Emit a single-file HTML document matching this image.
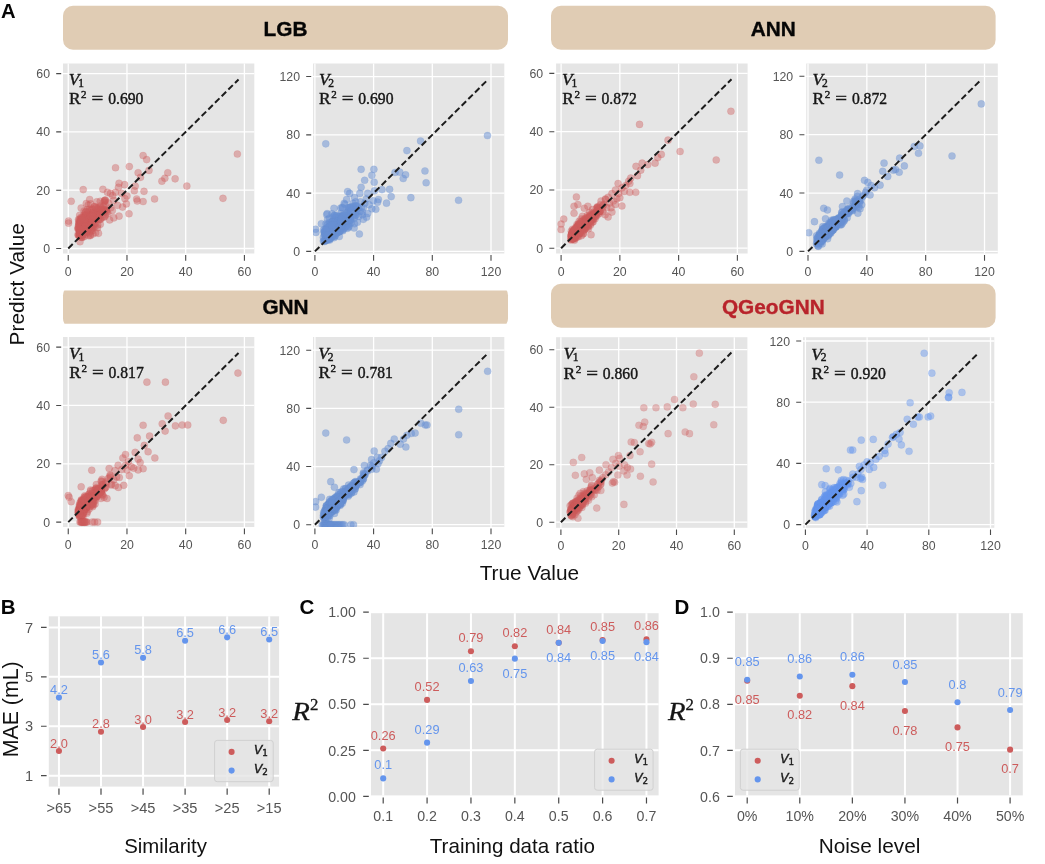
<!DOCTYPE html>
<html lang="en"><head><meta charset="utf-8"><title>Model comparison figure</title>
<style>html,body{margin:0;padding:0;background:#fff}svg{display:block}</style></head><body>
<svg width="1045" height="864" viewBox="0 0 1045 864">
<rect width="1045" height="864" fill="#fff"/>
<defs><filter id="idf" x="0" y="0" width="100%" height="100%" filterUnits="userSpaceOnUse" color-interpolation-filters="sRGB"><feGaussianBlur stdDeviation="0.38"/></filter></defs>
<g filter="url(#idf)">
<rect x="63" y="5.8" width="445" height="44" rx="10" ry="10" fill="#e0ccb4"/>
<text x="285.5" y="35.6" text-anchor="middle" font-family='"Liberation Sans", Arial, Helvetica, sans-serif' font-weight="bold" font-size="20.8" fill="#050505" stroke="#050505" stroke-width="0.35">LGB</text>
<rect x="551" y="5.8" width="444.6" height="44" rx="10" ry="10" fill="#e0ccb4"/>
<text x="773.3" y="35.6" text-anchor="middle" font-family='"Liberation Sans", Arial, Helvetica, sans-serif' font-weight="bold" font-size="20.8" fill="#050505" stroke="#050505" stroke-width="0.35">ANN</text>
<clipPath id="hGNN"><rect x="62" y="290.5" width="447" height="33.2"/></clipPath>
<rect x="63" y="285.2" width="445" height="43.4" rx="10" ry="10" fill="#e0ccb4" clip-path="url(#hGNN)"/>
<text x="285.5" y="313.5" text-anchor="middle" font-family='"Liberation Sans", Arial, Helvetica, sans-serif' font-weight="bold" font-size="20.8" fill="#050505" stroke="#050505" stroke-width="0.35">GNN</text>
<rect x="551" y="283.7" width="444.6" height="44" rx="10" ry="10" fill="#e0ccb4"/>
<text x="773.3" y="313.6" text-anchor="middle" font-family='"Liberation Sans", Arial, Helvetica, sans-serif' font-weight="bold" font-size="20.8" fill="#b8232b" stroke="#b8232b" stroke-width="0.35">QGeoGNN</text>
<g font-family='"Liberation Sans", Arial, Helvetica, sans-serif' font-weight="bold" font-size="20.5" fill="#050505">
<text x="0.9" y="17.8" font-size="20.2">A</text><text x="0.7" y="613.7">B</text><text x="299.6" y="613.7">C</text><text x="674.6" y="613.7">D</text></g>
<g id="p1">
<rect x="63" y="63.5" width="191.3" height="190" fill="#e5e5e5"/>
<path d="M68.25 63.5V253.5M63 248.5H254.3M126.97 63.5V253.5M63 190.2H254.3M185.69 63.5V253.5M63 131.9H254.3M244.41 63.5V253.5M63 73.6H254.3" stroke="#fff" stroke-width="1.3" fill="none"/>
<path d="M68.25 255.1v5.6M61.2 248.5h-5M126.97 255.1v5.6M61.2 190.2h-5M185.69 255.1v5.6M61.2 131.9h-5M244.41 255.1v5.6M61.2 73.6h-5" stroke="#4a4a4a" stroke-width="1.1" fill="none"/>
<g font-family='"Liberation Sans", Arial, Helvetica, sans-serif' font-size="12.3" fill="#555555">
<text x="68.25" y="275.8" text-anchor="middle">0</text>
<text x="50" y="253" text-anchor="end">0</text>
<text x="126.97" y="275.8" text-anchor="middle">20</text>
<text x="50" y="194.7" text-anchor="end">20</text>
<text x="185.69" y="275.8" text-anchor="middle">40</text>
<text x="50" y="136.4" text-anchor="end">40</text>
<text x="244.41" y="275.8" text-anchor="middle">60</text>
<text x="50" y="78.1" text-anchor="end">60</text>
</g>
<clipPath id="cp1"><rect x="63" y="63.5" width="191.3" height="190"/></clipPath>
<g clip-path="url(#cp1)"><g fill="#cd5c5c" fill-opacity="0.42" stroke="#cd5c5c" stroke-opacity="0.21" stroke-width="0.7">
<circle cx="107.01" cy="212.12" r="3.55"/>
<circle cx="84.84" cy="226.78" r="3.55"/>
<circle cx="86.78" cy="227.02" r="3.55"/>
<circle cx="84.6" cy="217.08" r="3.55"/>
<circle cx="83.31" cy="226.84" r="3.55"/>
<circle cx="89.45" cy="224.22" r="3.55"/>
<circle cx="90.39" cy="234.83" r="3.55"/>
<circle cx="80.79" cy="217.6" r="3.55"/>
<circle cx="81.55" cy="237.45" r="3.55"/>
<circle cx="83.66" cy="215.04" r="3.55"/>
<circle cx="79.91" cy="228.36" r="3.55"/>
<circle cx="80.58" cy="235.09" r="3.55"/>
<circle cx="93.56" cy="215.79" r="3.55"/>
<circle cx="104.3" cy="210.78" r="3.55"/>
<circle cx="97.73" cy="224.98" r="3.55"/>
<circle cx="84.69" cy="222.12" r="3.55"/>
<circle cx="92.44" cy="218.94" r="3.55"/>
<circle cx="87.42" cy="218.36" r="3.55"/>
<circle cx="93.5" cy="227.54" r="3.55"/>
<circle cx="82.72" cy="229.23" r="3.55"/>
<circle cx="85.37" cy="230.78" r="3.55"/>
<circle cx="83.61" cy="223.61" r="3.55"/>
<circle cx="87.54" cy="227.34" r="3.55"/>
<circle cx="87.33" cy="215.24" r="3.55"/>
<circle cx="79.17" cy="235.18" r="3.55"/>
<circle cx="100.31" cy="224.28" r="3.55"/>
<circle cx="85.6" cy="211.86" r="3.55"/>
<circle cx="87.57" cy="229.06" r="3.55"/>
<circle cx="97.38" cy="211.8" r="3.55"/>
<circle cx="80.79" cy="226.64" r="3.55"/>
<circle cx="78.82" cy="223.96" r="3.55"/>
<circle cx="80.32" cy="221.48" r="3.55"/>
<circle cx="97.61" cy="227.69" r="3.55"/>
<circle cx="91.47" cy="217.37" r="3.55"/>
<circle cx="99.17" cy="211.42" r="3.55"/>
<circle cx="81.76" cy="227.77" r="3.55"/>
<circle cx="79.08" cy="220.6" r="3.55"/>
<circle cx="100.52" cy="210.26" r="3.55"/>
<circle cx="81.81" cy="223.05" r="3.55"/>
<circle cx="80.73" cy="230.19" r="3.55"/>
<circle cx="83.93" cy="228.33" r="3.55"/>
<circle cx="92.06" cy="219.5" r="3.55"/>
<circle cx="89.92" cy="222.15" r="3.55"/>
<circle cx="92.09" cy="214.77" r="3.55"/>
<circle cx="82.52" cy="234.04" r="3.55"/>
<circle cx="93.03" cy="212.73" r="3.55"/>
<circle cx="78.5" cy="225.85" r="3.55"/>
<circle cx="80.79" cy="223.78" r="3.55"/>
<circle cx="82.52" cy="218.1" r="3.55"/>
<circle cx="81.64" cy="218.77" r="3.55"/>
<circle cx="85.9" cy="215.06" r="3.55"/>
<circle cx="100.25" cy="205.97" r="3.55"/>
<circle cx="81.2" cy="237.16" r="3.55"/>
<circle cx="94.91" cy="213.26" r="3.55"/>
<circle cx="80.05" cy="226.64" r="3.55"/>
<circle cx="95.09" cy="223.69" r="3.55"/>
<circle cx="87.39" cy="227.89" r="3.55"/>
<circle cx="94.44" cy="206.82" r="3.55"/>
<circle cx="87.13" cy="232.35" r="3.55"/>
<circle cx="86.57" cy="218.94" r="3.55"/>
<circle cx="95" cy="219.32" r="3.55"/>
<circle cx="91.3" cy="209.26" r="3.55"/>
<circle cx="86.19" cy="222.29" r="3.55"/>
<circle cx="79.23" cy="224.28" r="3.55"/>
<circle cx="88.6" cy="226.11" r="3.55"/>
<circle cx="80.55" cy="228.3" r="3.55"/>
<circle cx="86.98" cy="227.92" r="3.55"/>
<circle cx="83.96" cy="227.83" r="3.55"/>
<circle cx="85.87" cy="230.54" r="3.55"/>
<circle cx="83.72" cy="227.63" r="3.55"/>
<circle cx="88.07" cy="211.68" r="3.55"/>
<circle cx="84.99" cy="232.41" r="3.55"/>
<circle cx="103.8" cy="209.35" r="3.55"/>
<circle cx="83.66" cy="223.66" r="3.55"/>
<circle cx="85.72" cy="219.35" r="3.55"/>
<circle cx="89.65" cy="199.47" r="3.55"/>
<circle cx="87.92" cy="219.96" r="3.55"/>
<circle cx="91.3" cy="227.31" r="3.55"/>
<circle cx="88.92" cy="221.68" r="3.55"/>
<circle cx="95.82" cy="219.29" r="3.55"/>
<circle cx="82.58" cy="221.74" r="3.55"/>
<circle cx="80.43" cy="227.22" r="3.55"/>
<circle cx="94.2" cy="218.85" r="3.55"/>
<circle cx="80.38" cy="222.7" r="3.55"/>
<circle cx="80.87" cy="226.17" r="3.55"/>
<circle cx="87.77" cy="219.26" r="3.55"/>
<circle cx="82.43" cy="237.16" r="3.55"/>
<circle cx="103.86" cy="211.8" r="3.55"/>
<circle cx="104.83" cy="200.34" r="3.55"/>
<circle cx="84.25" cy="231.3" r="3.55"/>
<circle cx="95.61" cy="232.82" r="3.55"/>
<circle cx="82.72" cy="225.94" r="3.55"/>
<circle cx="93.15" cy="225.68" r="3.55"/>
<circle cx="80.49" cy="221.57" r="3.55"/>
<circle cx="87.95" cy="224.07" r="3.55"/>
<circle cx="85.9" cy="220.6" r="3.55"/>
<circle cx="88.39" cy="219.9" r="3.55"/>
<circle cx="79.7" cy="235.41" r="3.55"/>
<circle cx="86.63" cy="219.76" r="3.55"/>
<circle cx="82.4" cy="232.79" r="3.55"/>
<circle cx="86.48" cy="215.44" r="3.55"/>
<circle cx="84.05" cy="223.69" r="3.55"/>
<circle cx="86.51" cy="223.43" r="3.55"/>
<circle cx="84.16" cy="222.15" r="3.55"/>
<circle cx="103.69" cy="210.02" r="3.55"/>
<circle cx="104.66" cy="201.74" r="3.55"/>
<circle cx="106.27" cy="210.55" r="3.55"/>
<circle cx="98.58" cy="208.94" r="3.55"/>
<circle cx="79.67" cy="229.55" r="3.55"/>
<circle cx="79.73" cy="223.2" r="3.55"/>
<circle cx="80.52" cy="222.94" r="3.55"/>
<circle cx="103.6" cy="217.34" r="3.55"/>
<circle cx="86.92" cy="231.16" r="3.55"/>
<circle cx="84.49" cy="227.25" r="3.55"/>
<circle cx="89.77" cy="225.18" r="3.55"/>
<circle cx="90.33" cy="226.29" r="3.55"/>
<circle cx="78.06" cy="228.88" r="3.55"/>
<circle cx="89.74" cy="225.7" r="3.55"/>
<circle cx="104.25" cy="209.47" r="3.55"/>
<circle cx="93.06" cy="218.77" r="3.55"/>
<circle cx="84.57" cy="231.53" r="3.55"/>
<circle cx="92.53" cy="213.4" r="3.55"/>
<circle cx="80.64" cy="228.88" r="3.55"/>
<circle cx="81.14" cy="225.47" r="3.55"/>
<circle cx="82.61" cy="226.99" r="3.55"/>
<circle cx="97.08" cy="210.34" r="3.55"/>
<circle cx="88.24" cy="204.95" r="3.55"/>
<circle cx="100.58" cy="211.8" r="3.55"/>
<circle cx="98.73" cy="216.09" r="3.55"/>
<circle cx="87.3" cy="225.44" r="3.55"/>
<circle cx="85.45" cy="234.3" r="3.55"/>
<circle cx="81.93" cy="221.74" r="3.55"/>
<circle cx="89.71" cy="220.72" r="3.55"/>
<circle cx="88.39" cy="221.68" r="3.55"/>
<circle cx="83.55" cy="223.43" r="3.55"/>
<circle cx="104.86" cy="210.11" r="3.55"/>
<circle cx="82.02" cy="225.59" r="3.55"/>
<circle cx="84.9" cy="214.83" r="3.55"/>
<circle cx="103.72" cy="212.15" r="3.55"/>
<circle cx="107.45" cy="192.33" r="3.55"/>
<circle cx="83.87" cy="222.21" r="3.55"/>
<circle cx="96.88" cy="216.35" r="3.55"/>
<circle cx="86.16" cy="223.61" r="3.55"/>
<circle cx="98.58" cy="219.99" r="3.55"/>
<circle cx="90.62" cy="221.86" r="3.55"/>
<circle cx="98.05" cy="216.14" r="3.55"/>
<circle cx="90.74" cy="227.16" r="3.55"/>
<circle cx="83.81" cy="219.7" r="3.55"/>
<circle cx="78.85" cy="222.96" r="3.55"/>
<circle cx="84.78" cy="224.92" r="3.55"/>
<circle cx="93.59" cy="223.61" r="3.55"/>
<circle cx="90.42" cy="217.89" r="3.55"/>
<circle cx="87.1" cy="222.03" r="3.55"/>
<circle cx="85.6" cy="217.78" r="3.55"/>
<circle cx="105.1" cy="204.57" r="3.55"/>
<circle cx="88.19" cy="211.98" r="3.55"/>
<circle cx="82.28" cy="234.95" r="3.55"/>
<circle cx="80.43" cy="231.94" r="3.55"/>
<circle cx="81.2" cy="219.52" r="3.55"/>
<circle cx="87.86" cy="224.54" r="3.55"/>
<circle cx="87.28" cy="231.27" r="3.55"/>
<circle cx="79.32" cy="233.95" r="3.55"/>
<circle cx="95" cy="226.61" r="3.55"/>
<circle cx="91.88" cy="215.79" r="3.55"/>
<circle cx="98.81" cy="213.67" r="3.55"/>
<circle cx="85.19" cy="223.87" r="3.55"/>
<circle cx="78.47" cy="235.27" r="3.55"/>
<circle cx="80.46" cy="230.89" r="3.55"/>
<circle cx="88.19" cy="228.04" r="3.55"/>
<circle cx="103.04" cy="210.87" r="3.55"/>
<circle cx="87.8" cy="219.41" r="3.55"/>
<circle cx="81.05" cy="233.05" r="3.55"/>
<circle cx="91.71" cy="218.65" r="3.55"/>
<circle cx="88.1" cy="217.4" r="3.55"/>
<circle cx="93.82" cy="220.14" r="3.55"/>
<circle cx="84.75" cy="224.89" r="3.55"/>
<circle cx="81.7" cy="231.62" r="3.55"/>
<circle cx="83.58" cy="226.78" r="3.55"/>
<circle cx="85.63" cy="231.48" r="3.55"/>
<circle cx="100.31" cy="211.19" r="3.55"/>
<circle cx="80.29" cy="230.95" r="3.55"/>
<circle cx="92.12" cy="230.78" r="3.55"/>
<circle cx="104.48" cy="200.55" r="3.55"/>
<circle cx="78.94" cy="229.32" r="3.55"/>
<circle cx="85.51" cy="214.98" r="3.55"/>
<circle cx="79.7" cy="233.81" r="3.55"/>
<circle cx="100.28" cy="209.88" r="3.55"/>
<circle cx="89.48" cy="216.81" r="3.55"/>
<circle cx="101.51" cy="209.09" r="3.55"/>
<circle cx="79.64" cy="235.97" r="3.55"/>
<circle cx="96.73" cy="208.91" r="3.55"/>
<circle cx="94.56" cy="206.49" r="3.55"/>
<circle cx="79.38" cy="221.92" r="3.55"/>
<circle cx="112.7" cy="195.65" r="3.55"/>
<circle cx="86.83" cy="221.27" r="3.55"/>
<circle cx="85.19" cy="219.79" r="3.55"/>
<circle cx="100.69" cy="207.19" r="3.55"/>
<circle cx="79.73" cy="219.38" r="3.55"/>
<circle cx="89.62" cy="209.03" r="3.55"/>
<circle cx="93.47" cy="208.8" r="3.55"/>
<circle cx="88.24" cy="225.24" r="3.55"/>
<circle cx="91.18" cy="230.95" r="3.55"/>
<circle cx="81.76" cy="221.33" r="3.55"/>
<circle cx="79.67" cy="215.18" r="3.55"/>
<circle cx="97.9" cy="208.04" r="3.55"/>
<circle cx="84.13" cy="223.66" r="3.55"/>
<circle cx="103.54" cy="202.21" r="3.55"/>
<circle cx="89.18" cy="225.21" r="3.55"/>
<circle cx="86.22" cy="226.84" r="3.55"/>
<circle cx="92.06" cy="209.56" r="3.55"/>
<circle cx="100.63" cy="219.03" r="3.55"/>
<circle cx="84.99" cy="218.88" r="3.55"/>
<circle cx="91.27" cy="215.06" r="3.55"/>
<circle cx="90.95" cy="229.52" r="3.55"/>
<circle cx="98.2" cy="213.58" r="3.55"/>
<circle cx="92.09" cy="221.36" r="3.55"/>
<circle cx="89.24" cy="217.83" r="3.55"/>
<circle cx="80.87" cy="224.36" r="3.55"/>
<circle cx="92.68" cy="214.22" r="3.55"/>
<circle cx="87.3" cy="217.43" r="3.55"/>
<circle cx="91.62" cy="216.41" r="3.55"/>
<circle cx="83.4" cy="226.55" r="3.55"/>
<circle cx="97.87" cy="215.01" r="3.55"/>
<circle cx="85.28" cy="227.07" r="3.55"/>
<circle cx="86.42" cy="228.62" r="3.55"/>
<circle cx="87.01" cy="232.09" r="3.55"/>
<circle cx="79.52" cy="229.96" r="3.55"/>
<circle cx="80.67" cy="234.74" r="3.55"/>
<circle cx="92.18" cy="228.42" r="3.55"/>
<circle cx="99.99" cy="219.52" r="3.55"/>
<circle cx="92.79" cy="212.91" r="3.55"/>
<circle cx="78.35" cy="227.22" r="3.55"/>
<circle cx="81.11" cy="220.05" r="3.55"/>
<circle cx="78.03" cy="234.65" r="3.55"/>
<circle cx="78.09" cy="228.42" r="3.55"/>
<circle cx="91.3" cy="219.18" r="3.55"/>
<circle cx="84.57" cy="217.43" r="3.55"/>
<circle cx="102.07" cy="217.16" r="3.55"/>
<circle cx="78.5" cy="219.44" r="3.55"/>
<circle cx="84.9" cy="222.35" r="3.55"/>
<circle cx="81.11" cy="222.09" r="3.55"/>
<circle cx="84.1" cy="210.95" r="3.55"/>
<circle cx="87.28" cy="209.56" r="3.55"/>
<circle cx="96.76" cy="201.8" r="3.55"/>
<circle cx="83.58" cy="226.64" r="3.55"/>
<circle cx="89.92" cy="216.32" r="3.55"/>
<circle cx="105.24" cy="214.86" r="3.55"/>
<circle cx="86.63" cy="228.79" r="3.55"/>
<circle cx="84.52" cy="219.85" r="3.55"/>
<circle cx="79.17" cy="228.79" r="3.55"/>
<circle cx="79.7" cy="232.53" r="3.55"/>
<circle cx="81.73" cy="218.1" r="3.55"/>
<circle cx="86.28" cy="203.46" r="3.55"/>
<circle cx="87.77" cy="226.05" r="3.55"/>
<circle cx="85.13" cy="225.97" r="3.55"/>
<circle cx="79.82" cy="233.34" r="3.55"/>
<circle cx="88.92" cy="233.05" r="3.55"/>
<circle cx="84.28" cy="236.61" r="3.55"/>
<circle cx="87.07" cy="230.49" r="3.55"/>
<circle cx="82.67" cy="235.09" r="3.55"/>
<circle cx="85.6" cy="226.9" r="3.55"/>
<circle cx="94.7" cy="219.73" r="3.55"/>
<circle cx="85.19" cy="226.35" r="3.55"/>
<circle cx="83.9" cy="229.06" r="3.55"/>
<circle cx="90.83" cy="225.27" r="3.55"/>
<circle cx="88.57" cy="235.76" r="3.55"/>
<circle cx="98.84" cy="217.89" r="3.55"/>
<circle cx="90.24" cy="235.64" r="3.55"/>
<circle cx="92.71" cy="215.88" r="3.55"/>
<circle cx="80.58" cy="229.52" r="3.55"/>
<circle cx="237.36" cy="154.05" r="3.55"/>
<circle cx="222.98" cy="198.36" r="3.55"/>
<circle cx="186.86" cy="186.12" r="3.55"/>
<circle cx="175.12" cy="178.83" r="3.55"/>
<circle cx="167.78" cy="172.71" r="3.55"/>
<circle cx="164.84" cy="178.25" r="3.55"/>
<circle cx="161.91" cy="181.16" r="3.55"/>
<circle cx="154.57" cy="198.94" r="3.55"/>
<circle cx="146.64" cy="159.59" r="3.55"/>
<circle cx="143.12" cy="155.51" r="3.55"/>
<circle cx="148.99" cy="170.38" r="3.55"/>
<circle cx="138.13" cy="172.71" r="3.55"/>
<circle cx="140.48" cy="177.37" r="3.55"/>
<circle cx="129.32" cy="166.59" r="3.55"/>
<circle cx="115.52" cy="167.75" r="3.55"/>
<circle cx="144" cy="191.37" r="3.55"/>
<circle cx="143.12" cy="201.57" r="3.55"/>
<circle cx="137.25" cy="200.99" r="3.55"/>
<circle cx="136.66" cy="198.94" r="3.55"/>
<circle cx="135.19" cy="186.12" r="3.55"/>
<circle cx="134.31" cy="190.78" r="3.55"/>
<circle cx="129.03" cy="213.81" r="3.55"/>
<circle cx="124.62" cy="184.66" r="3.55"/>
<circle cx="119.04" cy="183.2" r="3.55"/>
<circle cx="118.46" cy="187.28" r="3.55"/>
<circle cx="102.89" cy="189.33" r="3.55"/>
<circle cx="83.22" cy="189.62" r="3.55"/>
<circle cx="71.19" cy="201.28" r="3.55"/>
<circle cx="68.54" cy="221.1" r="3.55"/>
<circle cx="68.54" cy="223.14" r="3.55"/>
<circle cx="110.53" cy="193.41" r="3.55"/>
<circle cx="115.52" cy="192.24" r="3.55"/>
<circle cx="121.69" cy="193.41" r="3.55"/>
<circle cx="124.91" cy="198.65" r="3.55"/>
<circle cx="126.97" cy="196.03" r="3.55"/>
<circle cx="126.38" cy="203.9" r="3.55"/>
<circle cx="122.57" cy="207.11" r="3.55"/>
<circle cx="117.57" cy="205.36" r="3.55"/>
<circle cx="119.04" cy="216.14" r="3.55"/>
<circle cx="113.76" cy="217.89" r="3.55"/>
<circle cx="109.65" cy="219.93" r="3.55"/>
<circle cx="98.49" cy="233.34" r="3.55"/>
<circle cx="92.91" cy="233.93" r="3.55"/>
<circle cx="79.99" cy="241.8" r="3.55"/>
<circle cx="81.17" cy="207.98" r="3.55"/>
<circle cx="90.56" cy="203.9" r="3.55"/>
<circle cx="100.25" cy="201.28" r="3.55"/>
<circle cx="105.54" cy="200.11" r="3.55"/>
<circle cx="108.18" cy="202.73" r="3.55"/>
<circle cx="103.48" cy="206.23" r="3.55"/>
<circle cx="106.42" cy="210.02" r="3.55"/>
<circle cx="110.82" cy="207.69" r="3.55"/>
<circle cx="113.76" cy="200.4" r="3.55"/>
<circle cx="100.55" cy="209.15" r="3.55"/>
<circle cx="96.14" cy="207.69" r="3.55"/>
<circle cx="85.87" cy="212.06" r="3.55"/>
<circle cx="104.95" cy="216.44" r="3.55"/>
<circle cx="107.89" cy="213.52" r="3.55"/>
<circle cx="112.29" cy="210.6" r="3.55"/>
</g>
<path d="M68.25 248.5L238.54 79.43" stroke="#1c1c1c" stroke-width="2" stroke-dasharray="6.3 3.1" fill="none"/>
</g>
<g font-family='"Liberation Serif", "Times New Roman", serif' fill="#161616" stroke="#161616" stroke-width="0.42">
<text x="68.8" y="84.9" font-size="16.5" font-style="italic" textLength="10.6" lengthAdjust="spacingAndGlyphs">V</text>
<text x="78.2" y="86.8" font-size="11.5">1</text>
<text x="68.9" y="104.3" font-size="16.5" textLength="11.6" lengthAdjust="spacingAndGlyphs">R</text>
<text x="81.1" y="98" font-size="11">2</text>
<text x="91.6" y="104.3" font-size="16.5" textLength="11.8" lengthAdjust="spacingAndGlyphs">=</text>
<text x="108.2" y="104.3" font-size="16.5" textLength="35.2" lengthAdjust="spacingAndGlyphs">0.690</text>
</g>
</g>
<g id="p2">
<rect x="313" y="63.5" width="191.3" height="190" fill="#e5e5e5"/>
<path d="M314.9 63.5V253.5M313 251.4H504.3M373.6 63.5V253.5M313 193.12H504.3M432.3 63.5V253.5M313 134.84H504.3M491 63.5V253.5M313 76.56H504.3" stroke="#fff" stroke-width="1.3" fill="none"/>
<path d="M314.9 255.1v5.6M311.2 251.4h-5M373.6 255.1v5.6M311.2 193.12h-5M432.3 255.1v5.6M311.2 134.84h-5M491 255.1v5.6M311.2 76.56h-5" stroke="#4a4a4a" stroke-width="1.1" fill="none"/>
<g font-family='"Liberation Sans", Arial, Helvetica, sans-serif' font-size="12.3" fill="#555555">
<text x="314.9" y="275.8" text-anchor="middle">0</text>
<text x="300" y="255.9" text-anchor="end">0</text>
<text x="373.6" y="275.8" text-anchor="middle">40</text>
<text x="300" y="197.62" text-anchor="end">40</text>
<text x="432.3" y="275.8" text-anchor="middle">80</text>
<text x="300" y="139.34" text-anchor="end">80</text>
<text x="491" y="275.8" text-anchor="middle">120</text>
<text x="300" y="81.06" text-anchor="end">120</text>
</g>
<clipPath id="cp2"><rect x="313" y="63.5" width="191.3" height="190"/></clipPath>
<g clip-path="url(#cp2)"><g fill="#6890d3" fill-opacity="0.5" stroke="#6890d3" stroke-opacity="0.25" stroke-width="0.7">
<circle cx="337.84" cy="230.35" r="3.55"/>
<circle cx="328.86" cy="238.49" r="3.55"/>
<circle cx="340.89" cy="223.89" r="3.55"/>
<circle cx="325.29" cy="240.66" r="3.55"/>
<circle cx="333.54" cy="216.97" r="3.55"/>
<circle cx="332.54" cy="224.77" r="3.55"/>
<circle cx="329.33" cy="237.49" r="3.55"/>
<circle cx="337.82" cy="224.8" r="3.55"/>
<circle cx="345.17" cy="216.74" r="3.55"/>
<circle cx="326.38" cy="230.94" r="3.55"/>
<circle cx="344.07" cy="220.37" r="3.55"/>
<circle cx="327.67" cy="234.03" r="3.55"/>
<circle cx="338.13" cy="232.11" r="3.55"/>
<circle cx="334.67" cy="220.1" r="3.55"/>
<circle cx="326.61" cy="235.24" r="3.55"/>
<circle cx="324.88" cy="229.56" r="3.55"/>
<circle cx="324.61" cy="241.46" r="3.55"/>
<circle cx="329.75" cy="237.63" r="3.55"/>
<circle cx="333.17" cy="221.07" r="3.55"/>
<circle cx="331.56" cy="234.69" r="3.55"/>
<circle cx="334.09" cy="228.02" r="3.55"/>
<circle cx="333.79" cy="225.48" r="3.55"/>
<circle cx="328.87" cy="227.16" r="3.55"/>
<circle cx="348.55" cy="210.24" r="3.55"/>
<circle cx="336.31" cy="221.9" r="3.55"/>
<circle cx="332.58" cy="235.07" r="3.55"/>
<circle cx="335.5" cy="216.53" r="3.55"/>
<circle cx="342.25" cy="223.66" r="3.55"/>
<circle cx="343.93" cy="224.17" r="3.55"/>
<circle cx="333.08" cy="229.09" r="3.55"/>
<circle cx="334.84" cy="228.96" r="3.55"/>
<circle cx="328.67" cy="228.5" r="3.55"/>
<circle cx="343.19" cy="225.8" r="3.55"/>
<circle cx="336.68" cy="233.2" r="3.55"/>
<circle cx="338.7" cy="231.89" r="3.55"/>
<circle cx="335.42" cy="230.84" r="3.55"/>
<circle cx="326.57" cy="231.25" r="3.55"/>
<circle cx="327.23" cy="229.33" r="3.55"/>
<circle cx="349.64" cy="207.21" r="3.55"/>
<circle cx="324.86" cy="233.01" r="3.55"/>
<circle cx="330.16" cy="238.81" r="3.55"/>
<circle cx="331.94" cy="233.11" r="3.55"/>
<circle cx="329.49" cy="222.39" r="3.55"/>
<circle cx="329.3" cy="233.68" r="3.55"/>
<circle cx="331.95" cy="213.74" r="3.55"/>
<circle cx="335.72" cy="228" r="3.55"/>
<circle cx="324" cy="232.26" r="3.55"/>
<circle cx="334.73" cy="232.01" r="3.55"/>
<circle cx="330.57" cy="228.55" r="3.55"/>
<circle cx="326.2" cy="235.94" r="3.55"/>
<circle cx="335.87" cy="228.22" r="3.55"/>
<circle cx="327.4" cy="231.88" r="3.55"/>
<circle cx="329.69" cy="240.09" r="3.55"/>
<circle cx="335.18" cy="231.57" r="3.55"/>
<circle cx="333.63" cy="233.09" r="3.55"/>
<circle cx="332.85" cy="232.26" r="3.55"/>
<circle cx="326.82" cy="232.43" r="3.55"/>
<circle cx="328.31" cy="234.63" r="3.55"/>
<circle cx="351.15" cy="222.64" r="3.55"/>
<circle cx="329.4" cy="238.39" r="3.55"/>
<circle cx="337.6" cy="229.01" r="3.55"/>
<circle cx="329.08" cy="233.71" r="3.55"/>
<circle cx="326.11" cy="233.89" r="3.55"/>
<circle cx="326.14" cy="228.42" r="3.55"/>
<circle cx="333.8" cy="226.86" r="3.55"/>
<circle cx="331.6" cy="232.17" r="3.55"/>
<circle cx="328.96" cy="227.2" r="3.55"/>
<circle cx="336.62" cy="226.08" r="3.55"/>
<circle cx="328.42" cy="233.48" r="3.55"/>
<circle cx="335.65" cy="217.34" r="3.55"/>
<circle cx="334.52" cy="236.25" r="3.55"/>
<circle cx="354.13" cy="228.03" r="3.55"/>
<circle cx="335" cy="230.24" r="3.55"/>
<circle cx="333.76" cy="228.2" r="3.55"/>
<circle cx="328.58" cy="230.93" r="3.55"/>
<circle cx="341.96" cy="218.59" r="3.55"/>
<circle cx="323.32" cy="241" r="3.55"/>
<circle cx="340.73" cy="227.69" r="3.55"/>
<circle cx="339.91" cy="227.37" r="3.55"/>
<circle cx="349.64" cy="223.56" r="3.55"/>
<circle cx="324.5" cy="232.11" r="3.55"/>
<circle cx="334.02" cy="223.08" r="3.55"/>
<circle cx="326.7" cy="238.96" r="3.55"/>
<circle cx="335.89" cy="230.13" r="3.55"/>
<circle cx="326.74" cy="214.65" r="3.55"/>
<circle cx="342.52" cy="228.76" r="3.55"/>
<circle cx="339.13" cy="229.79" r="3.55"/>
<circle cx="324.09" cy="240.73" r="3.55"/>
<circle cx="339.76" cy="224.45" r="3.55"/>
<circle cx="329.06" cy="231.93" r="3.55"/>
<circle cx="327.81" cy="238.84" r="3.55"/>
<circle cx="336.56" cy="228.44" r="3.55"/>
<circle cx="331.29" cy="230.46" r="3.55"/>
<circle cx="340.67" cy="208.03" r="3.55"/>
<circle cx="335.22" cy="219.81" r="3.55"/>
<circle cx="330.88" cy="237.63" r="3.55"/>
<circle cx="327.24" cy="235.23" r="3.55"/>
<circle cx="333.9" cy="224.15" r="3.55"/>
<circle cx="326.41" cy="236.12" r="3.55"/>
<circle cx="330.68" cy="235.46" r="3.55"/>
<circle cx="327.54" cy="224.59" r="3.55"/>
<circle cx="335.97" cy="228.92" r="3.55"/>
<circle cx="326.07" cy="237.47" r="3.55"/>
<circle cx="329.52" cy="236.44" r="3.55"/>
<circle cx="329.3" cy="231.95" r="3.55"/>
<circle cx="336.78" cy="215.28" r="3.55"/>
<circle cx="338.19" cy="231.82" r="3.55"/>
<circle cx="329.21" cy="233.7" r="3.55"/>
<circle cx="348.17" cy="207.65" r="3.55"/>
<circle cx="326.29" cy="237.43" r="3.55"/>
<circle cx="355.65" cy="201.86" r="3.55"/>
<circle cx="328.24" cy="234.35" r="3.55"/>
<circle cx="341.33" cy="224.87" r="3.55"/>
<circle cx="331.82" cy="233.11" r="3.55"/>
<circle cx="328.18" cy="232.84" r="3.55"/>
<circle cx="338.12" cy="218.94" r="3.55"/>
<circle cx="332" cy="222.1" r="3.55"/>
<circle cx="328.96" cy="227.55" r="3.55"/>
<circle cx="336.9" cy="228.38" r="3.55"/>
<circle cx="327.46" cy="230.89" r="3.55"/>
<circle cx="328.4" cy="236.1" r="3.55"/>
<circle cx="329.69" cy="229.33" r="3.55"/>
<circle cx="327.21" cy="213.62" r="3.55"/>
<circle cx="332.57" cy="235.21" r="3.55"/>
<circle cx="337.85" cy="222.36" r="3.55"/>
<circle cx="331.53" cy="229.92" r="3.55"/>
<circle cx="326.45" cy="240.14" r="3.55"/>
<circle cx="339.11" cy="220.73" r="3.55"/>
<circle cx="336.43" cy="233.01" r="3.55"/>
<circle cx="326.95" cy="229.68" r="3.55"/>
<circle cx="330.06" cy="226.59" r="3.55"/>
<circle cx="327.43" cy="231.77" r="3.55"/>
<circle cx="329.85" cy="233.42" r="3.55"/>
<circle cx="330.07" cy="232.01" r="3.55"/>
<circle cx="328.27" cy="238.58" r="3.55"/>
<circle cx="324.85" cy="230.93" r="3.55"/>
<circle cx="340.21" cy="224.52" r="3.55"/>
<circle cx="325.99" cy="223.69" r="3.55"/>
<circle cx="340.08" cy="229.01" r="3.55"/>
<circle cx="329.78" cy="233.8" r="3.55"/>
<circle cx="333.76" cy="231.57" r="3.55"/>
<circle cx="334.33" cy="215.31" r="3.55"/>
<circle cx="325.22" cy="238.56" r="3.55"/>
<circle cx="328.8" cy="229.2" r="3.55"/>
<circle cx="323.62" cy="229.88" r="3.55"/>
<circle cx="334.92" cy="222.1" r="3.55"/>
<circle cx="333.95" cy="237.76" r="3.55"/>
<circle cx="335.37" cy="230.68" r="3.55"/>
<circle cx="329.99" cy="236.68" r="3.55"/>
<circle cx="330.54" cy="228.85" r="3.55"/>
<circle cx="344.04" cy="215.22" r="3.55"/>
<circle cx="326.6" cy="233.73" r="3.55"/>
<circle cx="337.21" cy="228.83" r="3.55"/>
<circle cx="327.61" cy="219.52" r="3.55"/>
<circle cx="334.7" cy="231.48" r="3.55"/>
<circle cx="339.25" cy="228.15" r="3.55"/>
<circle cx="333.33" cy="234.5" r="3.55"/>
<circle cx="348.58" cy="214.68" r="3.55"/>
<circle cx="340.23" cy="221.88" r="3.55"/>
<circle cx="355.43" cy="214.99" r="3.55"/>
<circle cx="343.62" cy="215.86" r="3.55"/>
<circle cx="338.29" cy="228.66" r="3.55"/>
<circle cx="345.45" cy="221.17" r="3.55"/>
<circle cx="335.08" cy="225.51" r="3.55"/>
<circle cx="332.25" cy="226.02" r="3.55"/>
<circle cx="334.59" cy="230.96" r="3.55"/>
<circle cx="333.14" cy="224.97" r="3.55"/>
<circle cx="328.94" cy="223.94" r="3.55"/>
<circle cx="347.54" cy="228.34" r="3.55"/>
<circle cx="336.6" cy="231.03" r="3.55"/>
<circle cx="329.85" cy="225.71" r="3.55"/>
<circle cx="328.8" cy="237.78" r="3.55"/>
<circle cx="332.07" cy="233.26" r="3.55"/>
<circle cx="354.01" cy="207.52" r="3.55"/>
<circle cx="335.21" cy="235.8" r="3.55"/>
<circle cx="336.87" cy="222.17" r="3.55"/>
<circle cx="332" cy="236.73" r="3.55"/>
<circle cx="329.69" cy="238.29" r="3.55"/>
<circle cx="342.53" cy="229.85" r="3.55"/>
<circle cx="339.6" cy="224.91" r="3.55"/>
<circle cx="332.26" cy="229.12" r="3.55"/>
<circle cx="343.68" cy="218.59" r="3.55"/>
<circle cx="339.57" cy="223.64" r="3.55"/>
<circle cx="332.88" cy="221.56" r="3.55"/>
<circle cx="337.21" cy="227.04" r="3.55"/>
<circle cx="337.09" cy="231.67" r="3.55"/>
<circle cx="334.92" cy="224.08" r="3.55"/>
<circle cx="349.06" cy="214.14" r="3.55"/>
<circle cx="347.02" cy="214.54" r="3.55"/>
<circle cx="341.2" cy="215.85" r="3.55"/>
<circle cx="347.9" cy="224.55" r="3.55"/>
<circle cx="337.65" cy="225.82" r="3.55"/>
<circle cx="329.13" cy="236.41" r="3.55"/>
<circle cx="349.72" cy="219.54" r="3.55"/>
<circle cx="329.44" cy="236.99" r="3.55"/>
<circle cx="345.53" cy="219.24" r="3.55"/>
<circle cx="326.58" cy="228.63" r="3.55"/>
<circle cx="329.44" cy="229.04" r="3.55"/>
<circle cx="335.94" cy="225.8" r="3.55"/>
<circle cx="330.48" cy="230.91" r="3.55"/>
<circle cx="329.46" cy="231.67" r="3.55"/>
<circle cx="326.82" cy="238.2" r="3.55"/>
<circle cx="328.64" cy="239.34" r="3.55"/>
<circle cx="335.68" cy="231.4" r="3.55"/>
<circle cx="345.16" cy="222.81" r="3.55"/>
<circle cx="326.38" cy="240.41" r="3.55"/>
<circle cx="331" cy="228.86" r="3.55"/>
<circle cx="341.77" cy="216.29" r="3.55"/>
<circle cx="334.08" cy="227.72" r="3.55"/>
<circle cx="326.73" cy="231.12" r="3.55"/>
<circle cx="329.6" cy="236.04" r="3.55"/>
<circle cx="350.75" cy="218.36" r="3.55"/>
<circle cx="329.52" cy="218.18" r="3.55"/>
<circle cx="332.45" cy="236.51" r="3.55"/>
<circle cx="340.38" cy="222.33" r="3.55"/>
<circle cx="330.51" cy="229.49" r="3.55"/>
<circle cx="362.31" cy="212.06" r="3.55"/>
<circle cx="345.72" cy="226.97" r="3.55"/>
<circle cx="360.16" cy="211.52" r="3.55"/>
<circle cx="338.26" cy="229.95" r="3.55"/>
<circle cx="335.55" cy="221.4" r="3.55"/>
<circle cx="329.77" cy="235.84" r="3.55"/>
<circle cx="334.11" cy="229.89" r="3.55"/>
<circle cx="333.46" cy="228.48" r="3.55"/>
<circle cx="326.79" cy="234.25" r="3.55"/>
<circle cx="342.49" cy="222.33" r="3.55"/>
<circle cx="331.03" cy="225.77" r="3.55"/>
<circle cx="325.19" cy="240.47" r="3.55"/>
<circle cx="327.21" cy="238.02" r="3.55"/>
<circle cx="336.31" cy="228.73" r="3.55"/>
<circle cx="347.07" cy="225.47" r="3.55"/>
<circle cx="332.03" cy="229.37" r="3.55"/>
<circle cx="339.25" cy="227.93" r="3.55"/>
<circle cx="335.25" cy="225.2" r="3.55"/>
<circle cx="340.19" cy="216.43" r="3.55"/>
<circle cx="325.74" cy="236.16" r="3.55"/>
<circle cx="332.92" cy="220.76" r="3.55"/>
<circle cx="339.63" cy="231.51" r="3.55"/>
<circle cx="333.24" cy="228.44" r="3.55"/>
<circle cx="328.81" cy="238.93" r="3.55"/>
<circle cx="336.34" cy="231.92" r="3.55"/>
<circle cx="335.59" cy="226.82" r="3.55"/>
<circle cx="332.77" cy="225.16" r="3.55"/>
<circle cx="343.24" cy="222.22" r="3.55"/>
<circle cx="329.5" cy="235.37" r="3.55"/>
<circle cx="332.69" cy="225.68" r="3.55"/>
<circle cx="326.32" cy="233.6" r="3.55"/>
<circle cx="325.98" cy="238.86" r="3.55"/>
<circle cx="338.35" cy="228.95" r="3.55"/>
<circle cx="323.38" cy="237.41" r="3.55"/>
<circle cx="340.9" cy="213.46" r="3.55"/>
<circle cx="344.9" cy="204.38" r="3.55"/>
<circle cx="340.95" cy="223.95" r="3.55"/>
<circle cx="327.81" cy="233.86" r="3.55"/>
<circle cx="337.57" cy="221.6" r="3.55"/>
<circle cx="332.91" cy="235.23" r="3.55"/>
<circle cx="338.2" cy="221.34" r="3.55"/>
<circle cx="336.44" cy="230.91" r="3.55"/>
<circle cx="338.83" cy="216.84" r="3.55"/>
<circle cx="338.19" cy="222.93" r="3.55"/>
<circle cx="326.48" cy="236.52" r="3.55"/>
<circle cx="344.19" cy="203.42" r="3.55"/>
<circle cx="333.33" cy="226.95" r="3.55"/>
<circle cx="355.23" cy="212.92" r="3.55"/>
<circle cx="328.34" cy="231.35" r="3.55"/>
<circle cx="349.27" cy="216.91" r="3.55"/>
<circle cx="328.68" cy="238.48" r="3.55"/>
<circle cx="325.51" cy="234.12" r="3.55"/>
<circle cx="326.99" cy="233.51" r="3.55"/>
<circle cx="341.43" cy="218.38" r="3.55"/>
<circle cx="337.25" cy="230.67" r="3.55"/>
<circle cx="327.11" cy="235.9" r="3.55"/>
<circle cx="334.93" cy="231.86" r="3.55"/>
<circle cx="334.89" cy="228.42" r="3.55"/>
<circle cx="326.49" cy="239.53" r="3.55"/>
<circle cx="329.43" cy="239.12" r="3.55"/>
<circle cx="334.48" cy="215.62" r="3.55"/>
<circle cx="342.2" cy="207.49" r="3.55"/>
<circle cx="327.68" cy="231.8" r="3.55"/>
<circle cx="332.08" cy="232.6" r="3.55"/>
<circle cx="327.65" cy="238.61" r="3.55"/>
<circle cx="342.31" cy="225.63" r="3.55"/>
<circle cx="337.62" cy="220.79" r="3.55"/>
<circle cx="340.26" cy="231.22" r="3.55"/>
<circle cx="327.42" cy="235.81" r="3.55"/>
<circle cx="348.39" cy="227.23" r="3.55"/>
<circle cx="327.21" cy="233.48" r="3.55"/>
<circle cx="336.37" cy="225.07" r="3.55"/>
<circle cx="332.52" cy="226.08" r="3.55"/>
<circle cx="326.73" cy="231.98" r="3.55"/>
<circle cx="329.97" cy="231.51" r="3.55"/>
<circle cx="347.57" cy="211.84" r="3.55"/>
<circle cx="327.86" cy="227.3" r="3.55"/>
<circle cx="324.56" cy="234.7" r="3.55"/>
<circle cx="342.86" cy="230.78" r="3.55"/>
<circle cx="333.76" cy="232.12" r="3.55"/>
<circle cx="326.1" cy="236.39" r="3.55"/>
<circle cx="341.46" cy="228.23" r="3.55"/>
<circle cx="331.73" cy="226.22" r="3.55"/>
<circle cx="334.24" cy="232.87" r="3.55"/>
<circle cx="333.85" cy="224.8" r="3.55"/>
<circle cx="334.59" cy="233.52" r="3.55"/>
<circle cx="331.76" cy="228.36" r="3.55"/>
<circle cx="324.75" cy="235.05" r="3.55"/>
<circle cx="336.22" cy="228.99" r="3.55"/>
<circle cx="348.58" cy="217.19" r="3.55"/>
<circle cx="332.16" cy="222.01" r="3.55"/>
<circle cx="342.75" cy="221.47" r="3.55"/>
<circle cx="327.74" cy="235.15" r="3.55"/>
<circle cx="332.23" cy="233.71" r="3.55"/>
<circle cx="325.96" cy="230.17" r="3.55"/>
<circle cx="336.82" cy="224.59" r="3.55"/>
<circle cx="349.89" cy="220.54" r="3.55"/>
<circle cx="331.86" cy="233.57" r="3.55"/>
<circle cx="330.84" cy="225.25" r="3.55"/>
<circle cx="327.51" cy="235.58" r="3.55"/>
<circle cx="327.43" cy="235.75" r="3.55"/>
<circle cx="346.8" cy="221.47" r="3.55"/>
<circle cx="327.92" cy="234.57" r="3.55"/>
<circle cx="332" cy="225.14" r="3.55"/>
<circle cx="348.52" cy="215.37" r="3.55"/>
<circle cx="344.54" cy="220.89" r="3.55"/>
<circle cx="340.52" cy="225.93" r="3.55"/>
<circle cx="341.04" cy="222.29" r="3.55"/>
<circle cx="339.01" cy="231.8" r="3.55"/>
<circle cx="351.4" cy="207.15" r="3.55"/>
<circle cx="355.78" cy="215.09" r="3.55"/>
<circle cx="348.08" cy="218.79" r="3.55"/>
<circle cx="349.53" cy="217.32" r="3.55"/>
<circle cx="341.01" cy="225.2" r="3.55"/>
<circle cx="342" cy="217.19" r="3.55"/>
<circle cx="348.86" cy="226.56" r="3.55"/>
<circle cx="358.53" cy="208.37" r="3.55"/>
<circle cx="346.13" cy="213.23" r="3.55"/>
<circle cx="338.63" cy="227.68" r="3.55"/>
<circle cx="341.42" cy="225.89" r="3.55"/>
<circle cx="355.51" cy="206.17" r="3.55"/>
<circle cx="339.73" cy="225.8" r="3.55"/>
<circle cx="343.68" cy="228.95" r="3.55"/>
<circle cx="349.75" cy="209" r="3.55"/>
<circle cx="355.61" cy="205.75" r="3.55"/>
<circle cx="354.42" cy="218.15" r="3.55"/>
<circle cx="343.13" cy="216.55" r="3.55"/>
<circle cx="340.98" cy="221.66" r="3.55"/>
<circle cx="347.57" cy="221.3" r="3.55"/>
<circle cx="339.3" cy="236.55" r="3.55"/>
<circle cx="346.17" cy="218.34" r="3.55"/>
<circle cx="343.74" cy="214.89" r="3.55"/>
<circle cx="350.49" cy="219.32" r="3.55"/>
<circle cx="341.02" cy="227.33" r="3.55"/>
<circle cx="339.74" cy="226.5" r="3.55"/>
<circle cx="353.2" cy="216.04" r="3.55"/>
<circle cx="340.48" cy="221.76" r="3.55"/>
<circle cx="353.2" cy="206.22" r="3.55"/>
<circle cx="350.77" cy="220.1" r="3.55"/>
<circle cx="356.62" cy="209.26" r="3.55"/>
<circle cx="350.71" cy="210.74" r="3.55"/>
<circle cx="345.22" cy="221.11" r="3.55"/>
<circle cx="341.26" cy="219.03" r="3.55"/>
<circle cx="361.67" cy="207.01" r="3.55"/>
<circle cx="487.48" cy="135.57" r="3.55"/>
<circle cx="458.57" cy="200.26" r="3.55"/>
<circle cx="325.76" cy="143.87" r="3.55"/>
<circle cx="420.56" cy="140.96" r="3.55"/>
<circle cx="406.91" cy="150.58" r="3.55"/>
<circle cx="424.96" cy="170.97" r="3.55"/>
<circle cx="426.14" cy="182.78" r="3.55"/>
<circle cx="410.87" cy="197.64" r="3.55"/>
<circle cx="405.59" cy="174.76" r="3.55"/>
<circle cx="403.24" cy="178.55" r="3.55"/>
<circle cx="399.72" cy="172.14" r="3.55"/>
<circle cx="395.03" cy="172.43" r="3.55"/>
<circle cx="373.89" cy="169.37" r="3.55"/>
<circle cx="361.13" cy="169.37" r="3.55"/>
<circle cx="371.84" cy="175.34" r="3.55"/>
<circle cx="364.65" cy="180.3" r="3.55"/>
<circle cx="374.19" cy="182.19" r="3.55"/>
<circle cx="361.13" cy="187.29" r="3.55"/>
<circle cx="389.6" cy="189.33" r="3.55"/>
<circle cx="381.96" cy="189.62" r="3.55"/>
<circle cx="391.21" cy="196.62" r="3.55"/>
<circle cx="386.51" cy="203.17" r="3.55"/>
<circle cx="378.44" cy="199.53" r="3.55"/>
<circle cx="377.56" cy="202.15" r="3.55"/>
<circle cx="373.16" cy="200.84" r="3.55"/>
<circle cx="375.8" cy="209.29" r="3.55"/>
<circle cx="371.84" cy="208.86" r="3.55"/>
<circle cx="347.63" cy="191.52" r="3.55"/>
<circle cx="349.68" cy="193.41" r="3.55"/>
<circle cx="346.6" cy="199.53" r="3.55"/>
<circle cx="354.52" cy="197.49" r="3.55"/>
<circle cx="359.81" cy="193.41" r="3.55"/>
<circle cx="367.73" cy="193.41" r="3.55"/>
<circle cx="374.48" cy="190.79" r="3.55"/>
<circle cx="333.98" cy="208.27" r="3.55"/>
<circle cx="342.64" cy="207.98" r="3.55"/>
<circle cx="321.36" cy="223.72" r="3.55"/>
<circle cx="315.49" cy="229.25" r="3.55"/>
<circle cx="315.93" cy="232.46" r="3.55"/>
<circle cx="359.37" cy="234.06" r="3.55"/>
<circle cx="366.56" cy="217.31" r="3.55"/>
<circle cx="362.45" cy="214.68" r="3.55"/>
<circle cx="367.73" cy="213.52" r="3.55"/>
<circle cx="363.33" cy="207.69" r="3.55"/>
<circle cx="364.79" cy="203.32" r="3.55"/>
<circle cx="360.39" cy="201.86" r="3.55"/>
<circle cx="357.46" cy="206.23" r="3.55"/>
<circle cx="355.99" cy="212.06" r="3.55"/>
<circle cx="358.92" cy="216.43" r="3.55"/>
<circle cx="363.33" cy="219.35" r="3.55"/>
<circle cx="353.05" cy="203.32" r="3.55"/>
<circle cx="350.12" cy="207.69" r="3.55"/>
<circle cx="366.26" cy="198.95" r="3.55"/>
<circle cx="369.2" cy="204.78" r="3.55"/>
<circle cx="357.46" cy="222.26" r="3.55"/>
<circle cx="354.52" cy="223.72" r="3.55"/>
</g>
<path d="M314.9 251.4L488.06 79.47" stroke="#1c1c1c" stroke-width="2" stroke-dasharray="6.3 3.1" fill="none"/>
</g>
<g font-family='"Liberation Serif", "Times New Roman", serif' fill="#161616" stroke="#161616" stroke-width="0.42">
<text x="318.9" y="84.9" font-size="16.5" font-style="italic" textLength="10.6" lengthAdjust="spacingAndGlyphs">V</text>
<text x="328.3" y="86.8" font-size="11.5">2</text>
<text x="319" y="104.3" font-size="16.5" textLength="11.6" lengthAdjust="spacingAndGlyphs">R</text>
<text x="331.2" y="98" font-size="11">2</text>
<text x="341.7" y="104.3" font-size="16.5" textLength="11.8" lengthAdjust="spacingAndGlyphs">=</text>
<text x="358.3" y="104.3" font-size="16.5" textLength="35.2" lengthAdjust="spacingAndGlyphs">0.690</text>
</g>
</g>
<g id="p3">
<rect x="556.1" y="63.5" width="191.5" height="190" fill="#e5e5e5"/>
<path d="M561.1 63.5V253.5M556.1 248.2H747.6M619.86 63.5V253.5M556.1 189.94H747.6M678.62 63.5V253.5M556.1 131.68H747.6M737.38 63.5V253.5M556.1 73.42H747.6" stroke="#fff" stroke-width="1.3" fill="none"/>
<path d="M561.1 255.1v5.6M554.3 248.2h-5M619.86 255.1v5.6M554.3 189.94h-5M678.62 255.1v5.6M554.3 131.68h-5M737.38 255.1v5.6M554.3 73.42h-5" stroke="#4a4a4a" stroke-width="1.1" fill="none"/>
<g font-family='"Liberation Sans", Arial, Helvetica, sans-serif' font-size="12.3" fill="#555555">
<text x="561.1" y="275.8" text-anchor="middle">0</text>
<text x="543.1" y="252.7" text-anchor="end">0</text>
<text x="619.86" y="275.8" text-anchor="middle">20</text>
<text x="543.1" y="194.44" text-anchor="end">20</text>
<text x="678.62" y="275.8" text-anchor="middle">40</text>
<text x="543.1" y="136.18" text-anchor="end">40</text>
<text x="737.38" y="275.8" text-anchor="middle">60</text>
<text x="543.1" y="77.92" text-anchor="end">60</text>
</g>
<clipPath id="cp3"><rect x="556.1" y="63.5" width="191.5" height="190"/></clipPath>
<g clip-path="url(#cp3)"><g fill="#cd5c5c" fill-opacity="0.42" stroke="#cd5c5c" stroke-opacity="0.21" stroke-width="0.7">
<circle cx="599.88" cy="211.44" r="3.55"/>
<circle cx="577.7" cy="231.48" r="3.55"/>
<circle cx="579.64" cy="230.52" r="3.55"/>
<circle cx="577.46" cy="226.5" r="3.55"/>
<circle cx="576.17" cy="232.35" r="3.55"/>
<circle cx="582.31" cy="227.58" r="3.55"/>
<circle cx="583.25" cy="233.75" r="3.55"/>
<circle cx="573.65" cy="231.13" r="3.55"/>
<circle cx="574.41" cy="240.19" r="3.55"/>
<circle cx="576.52" cy="226.64" r="3.55"/>
<circle cx="572.76" cy="235.03" r="3.55"/>
<circle cx="573.44" cy="238.21" r="3.55"/>
<circle cx="586.43" cy="222.04" r="3.55"/>
<circle cx="597.18" cy="212.25" r="3.55"/>
<circle cx="590.6" cy="223.38" r="3.55"/>
<circle cx="577.55" cy="229.12" r="3.55"/>
<circle cx="585.31" cy="223.12" r="3.55"/>
<circle cx="580.29" cy="225.62" r="3.55"/>
<circle cx="586.37" cy="227.05" r="3.55"/>
<circle cx="575.58" cy="233.93" r="3.55"/>
<circle cx="578.23" cy="233.29" r="3.55"/>
<circle cx="576.47" cy="230.49" r="3.55"/>
<circle cx="580.4" cy="230.29" r="3.55"/>
<circle cx="580.2" cy="224.02" r="3.55"/>
<circle cx="572.03" cy="239.02" r="3.55"/>
<circle cx="593.18" cy="221.81" r="3.55"/>
<circle cx="578.46" cy="224.05" r="3.55"/>
<circle cx="580.43" cy="231.16" r="3.55"/>
<circle cx="590.24" cy="216.62" r="3.55"/>
<circle cx="573.65" cy="233.63" r="3.55"/>
<circle cx="571.68" cy="233.93" r="3.55"/>
<circle cx="573.18" cy="232.12" r="3.55"/>
<circle cx="590.48" cy="225.01" r="3.55"/>
<circle cx="584.34" cy="222.83" r="3.55"/>
<circle cx="592.04" cy="215.43" r="3.55"/>
<circle cx="574.61" cy="233.72" r="3.55"/>
<circle cx="571.94" cy="232.94" r="3.55"/>
<circle cx="593.39" cy="214.06" r="3.55"/>
<circle cx="574.67" cy="231.19" r="3.55"/>
<circle cx="573.59" cy="235.53" r="3.55"/>
<circle cx="576.79" cy="232.79" r="3.55"/>
<circle cx="584.93" cy="223.61" r="3.55"/>
<circle cx="582.78" cy="226.21" r="3.55"/>
<circle cx="584.96" cy="221.14" r="3.55"/>
<circle cx="575.38" cy="236.58" r="3.55"/>
<circle cx="585.9" cy="219.54" r="3.55"/>
<circle cx="571.35" cy="234.51" r="3.55"/>
<circle cx="573.65" cy="232.15" r="3.55"/>
<circle cx="575.38" cy="228.19" r="3.55"/>
<circle cx="574.5" cy="230.08" r="3.55"/>
<circle cx="578.76" cy="224.72" r="3.55"/>
<circle cx="593.12" cy="214.7" r="3.55"/>
<circle cx="574.06" cy="238.94" r="3.55"/>
<circle cx="587.78" cy="219.36" r="3.55"/>
<circle cx="572.91" cy="234.63" r="3.55"/>
<circle cx="587.95" cy="224.17" r="3.55"/>
<circle cx="580.26" cy="230.63" r="3.55"/>
<circle cx="587.31" cy="215.63" r="3.55"/>
<circle cx="579.99" cy="233.14" r="3.55"/>
<circle cx="579.43" cy="226.38" r="3.55"/>
<circle cx="587.87" cy="221.92" r="3.55"/>
<circle cx="584.16" cy="219.51" r="3.55"/>
<circle cx="579.05" cy="228.36" r="3.55"/>
<circle cx="572.09" cy="233.29" r="3.55"/>
<circle cx="581.46" cy="229.06" r="3.55"/>
<circle cx="573.41" cy="234.65" r="3.55"/>
<circle cx="579.84" cy="230.9" r="3.55"/>
<circle cx="576.82" cy="233.02" r="3.55"/>
<circle cx="578.73" cy="232.88" r="3.55"/>
<circle cx="576.58" cy="232.88" r="3.55"/>
<circle cx="580.93" cy="223.64" r="3.55"/>
<circle cx="577.85" cy="234.36" r="3.55"/>
<circle cx="596.68" cy="212.87" r="3.55"/>
<circle cx="576.52" cy="230.49" r="3.55"/>
<circle cx="578.58" cy="227.58" r="3.55"/>
<circle cx="582.52" cy="216.27" r="3.55"/>
<circle cx="580.78" cy="226.18" r="3.55"/>
<circle cx="584.16" cy="228.16" r="3.55"/>
<circle cx="581.78" cy="226.88" r="3.55"/>
<circle cx="588.69" cy="221.43" r="3.55"/>
<circle cx="575.44" cy="230.08" r="3.55"/>
<circle cx="573.29" cy="234.13" r="3.55"/>
<circle cx="587.07" cy="222.1" r="3.55"/>
<circle cx="573.23" cy="232.5" r="3.55"/>
<circle cx="573.73" cy="233.34" r="3.55"/>
<circle cx="580.64" cy="225.89" r="3.55"/>
<circle cx="575.29" cy="238.27" r="3.55"/>
<circle cx="596.74" cy="213.01" r="3.55"/>
<circle cx="597.71" cy="207.45" r="3.55"/>
<circle cx="577.11" cy="234.16" r="3.55"/>
<circle cx="588.48" cy="228.65" r="3.55"/>
<circle cx="575.58" cy="232.21" r="3.55"/>
<circle cx="586.01" cy="226.27" r="3.55"/>
<circle cx="573.35" cy="231.13" r="3.55"/>
<circle cx="580.81" cy="228.3" r="3.55"/>
<circle cx="578.76" cy="228.25" r="3.55"/>
<circle cx="581.25" cy="227.43" r="3.55"/>
<circle cx="572.56" cy="238.85" r="3.55"/>
<circle cx="579.49" cy="227.11" r="3.55"/>
<circle cx="575.26" cy="235.97" r="3.55"/>
<circle cx="579.34" cy="227.2" r="3.55"/>
<circle cx="576.91" cy="230.29" r="3.55"/>
<circle cx="579.37" cy="228.77" r="3.55"/>
<circle cx="577.02" cy="229.41" r="3.55"/>
<circle cx="596.56" cy="212.2" r="3.55"/>
<circle cx="597.53" cy="207.3" r="3.55"/>
<circle cx="599.15" cy="211.03" r="3.55"/>
<circle cx="591.45" cy="216.42" r="3.55"/>
<circle cx="572.53" cy="235.79" r="3.55"/>
<circle cx="572.59" cy="232.41" r="3.55"/>
<circle cx="573.38" cy="231.92" r="3.55"/>
<circle cx="596.47" cy="216.1" r="3.55"/>
<circle cx="579.79" cy="232.62" r="3.55"/>
<circle cx="577.35" cy="231.92" r="3.55"/>
<circle cx="582.64" cy="227.9" r="3.55"/>
<circle cx="583.19" cy="228.16" r="3.55"/>
<circle cx="570.91" cy="237.65" r="3.55"/>
<circle cx="582.61" cy="228.6" r="3.55"/>
<circle cx="597.12" cy="211.58" r="3.55"/>
<circle cx="585.93" cy="222.71" r="3.55"/>
<circle cx="577.44" cy="234.13" r="3.55"/>
<circle cx="585.4" cy="222.57" r="3.55"/>
<circle cx="573.5" cy="235.41" r="3.55"/>
<circle cx="574" cy="233.26" r="3.55"/>
<circle cx="575.47" cy="232.82" r="3.55"/>
<circle cx="589.95" cy="216.01" r="3.55"/>
<circle cx="581.11" cy="218.95" r="3.55"/>
<circle cx="593.45" cy="214.88" r="3.55"/>
<circle cx="591.6" cy="218.14" r="3.55"/>
<circle cx="580.17" cy="229.38" r="3.55"/>
<circle cx="578.32" cy="235.09" r="3.55"/>
<circle cx="574.79" cy="230.87" r="3.55"/>
<circle cx="582.58" cy="225.57" r="3.55"/>
<circle cx="581.25" cy="226.82" r="3.55"/>
<circle cx="576.41" cy="231.13" r="3.55"/>
<circle cx="597.74" cy="212.08" r="3.55"/>
<circle cx="574.88" cy="232.41" r="3.55"/>
<circle cx="577.76" cy="226.27" r="3.55"/>
<circle cx="596.59" cy="213.3" r="3.55"/>
<circle cx="600.32" cy="204.8" r="3.55"/>
<circle cx="576.73" cy="229.59" r="3.55"/>
<circle cx="589.75" cy="219.3" r="3.55"/>
<circle cx="579.02" cy="229.06" r="3.55"/>
<circle cx="591.45" cy="220.26" r="3.55"/>
<circle cx="583.49" cy="225.65" r="3.55"/>
<circle cx="590.92" cy="218.55" r="3.55"/>
<circle cx="583.61" cy="228.39" r="3.55"/>
<circle cx="576.67" cy="228.3" r="3.55"/>
<circle cx="571.71" cy="233.96" r="3.55"/>
<circle cx="577.64" cy="230.52" r="3.55"/>
<circle cx="586.45" cy="224.95" r="3.55"/>
<circle cx="583.28" cy="223.7" r="3.55"/>
<circle cx="579.96" cy="228.48" r="3.55"/>
<circle cx="578.46" cy="226.29" r="3.55"/>
<circle cx="597.97" cy="209.31" r="3.55"/>
<circle cx="581.05" cy="221.81" r="3.55"/>
<circle cx="575.14" cy="237.19" r="3.55"/>
<circle cx="573.29" cy="236.64" r="3.55"/>
<circle cx="574.06" cy="231.57" r="3.55"/>
<circle cx="580.73" cy="228.62" r="3.55"/>
<circle cx="580.14" cy="232.47" r="3.55"/>
<circle cx="572.18" cy="238.32" r="3.55"/>
<circle cx="587.87" cy="225.74" r="3.55"/>
<circle cx="584.75" cy="221.78" r="3.55"/>
<circle cx="591.68" cy="217.58" r="3.55"/>
<circle cx="578.05" cy="229.76" r="3.55"/>
<circle cx="571.32" cy="239.49" r="3.55"/>
<circle cx="573.32" cy="236.08" r="3.55"/>
<circle cx="581.05" cy="230.29" r="3.55"/>
<circle cx="595.92" cy="213.01" r="3.55"/>
<circle cx="580.67" cy="225.94" r="3.55"/>
<circle cx="573.91" cy="236.87" r="3.55"/>
<circle cx="584.57" cy="223.85" r="3.55"/>
<circle cx="580.96" cy="225.45" r="3.55"/>
<circle cx="586.69" cy="223" r="3.55"/>
<circle cx="577.61" cy="230.52" r="3.55"/>
<circle cx="574.56" cy="235.76" r="3.55"/>
<circle cx="576.44" cy="232.18" r="3.55"/>
<circle cx="578.49" cy="236.69" r="3.55"/>
<circle cx="593.18" cy="214.67" r="3.55"/>
<circle cx="573.15" cy="236.2" r="3.55"/>
<circle cx="584.99" cy="229.53" r="3.55"/>
<circle cx="597.35" cy="206.78" r="3.55"/>
<circle cx="571.79" cy="236.08" r="3.55"/>
<circle cx="578.38" cy="224.9" r="3.55"/>
<circle cx="572.56" cy="238.03" r="3.55"/>
<circle cx="593.15" cy="214" r="3.55"/>
<circle cx="582.34" cy="223.64" r="3.55"/>
<circle cx="594.39" cy="212.92" r="3.55"/>
<circle cx="572.5" cy="239.17" r="3.55"/>
<circle cx="589.6" cy="216.01" r="3.55"/>
<circle cx="587.42" cy="217.56" r="3.55"/>
<circle cx="572.24" cy="233.23" r="3.55"/>
<circle cx="605.58" cy="199.61" r="3.55"/>
<circle cx="579.7" cy="227.46" r="3.55"/>
<circle cx="578.05" cy="227.61" r="3.55"/>
<circle cx="593.56" cy="212.37" r="3.55"/>
<circle cx="572.59" cy="231.6" r="3.55"/>
<circle cx="582.49" cy="221.02" r="3.55"/>
<circle cx="586.34" cy="218.28" r="3.55"/>
<circle cx="581.11" cy="229.7" r="3.55"/>
<circle cx="584.05" cy="230.14" r="3.55"/>
<circle cx="574.61" cy="230.31" r="3.55"/>
<circle cx="572.53" cy="229.18" r="3.55"/>
<circle cx="590.77" cy="214.38" r="3.55"/>
<circle cx="576.99" cy="230.23" r="3.55"/>
<circle cx="596.41" cy="208.18" r="3.55"/>
<circle cx="582.05" cy="228.22" r="3.55"/>
<circle cx="579.08" cy="230.72" r="3.55"/>
<circle cx="584.93" cy="218.4" r="3.55"/>
<circle cx="593.51" cy="218.63" r="3.55"/>
<circle cx="577.85" cy="227.23" r="3.55"/>
<circle cx="584.13" cy="221.75" r="3.55"/>
<circle cx="583.81" cy="229.53" r="3.55"/>
<circle cx="591.07" cy="217.12" r="3.55"/>
<circle cx="584.96" cy="224.6" r="3.55"/>
<circle cx="582.11" cy="224.31" r="3.55"/>
<circle cx="573.73" cy="232.41" r="3.55"/>
<circle cx="585.54" cy="220.5" r="3.55"/>
<circle cx="580.17" cy="225.19" r="3.55"/>
<circle cx="584.49" cy="222.25" r="3.55"/>
<circle cx="576.26" cy="232.15" r="3.55"/>
<circle cx="590.74" cy="218.05" r="3.55"/>
<circle cx="578.14" cy="231.39" r="3.55"/>
<circle cx="579.29" cy="232.82" r="3.55"/>
<circle cx="579.87" cy="233.05" r="3.55"/>
<circle cx="572.38" cy="236.08" r="3.55"/>
<circle cx="573.53" cy="238.56" r="3.55"/>
<circle cx="585.04" cy="228.25" r="3.55"/>
<circle cx="592.86" cy="219.65" r="3.55"/>
<circle cx="585.66" cy="219.77" r="3.55"/>
<circle cx="571.21" cy="235.67" r="3.55"/>
<circle cx="573.97" cy="229.99" r="3.55"/>
<circle cx="570.88" cy="240.01" r="3.55"/>
<circle cx="570.94" cy="236.08" r="3.55"/>
<circle cx="584.16" cy="223.88" r="3.55"/>
<circle cx="577.44" cy="226.7" r="3.55"/>
<circle cx="594.95" cy="216.86" r="3.55"/>
<circle cx="571.35" cy="231.13" r="3.55"/>
<circle cx="577.76" cy="229.47" r="3.55"/>
<circle cx="573.97" cy="231.07" r="3.55"/>
<circle cx="576.97" cy="224.43" r="3.55"/>
<circle cx="580.14" cy="222.68" r="3.55"/>
<circle cx="589.63" cy="212.43" r="3.55"/>
<circle cx="576.44" cy="232.09" r="3.55"/>
<circle cx="582.78" cy="223.15" r="3.55"/>
<circle cx="598.12" cy="213.86" r="3.55"/>
<circle cx="579.49" cy="231.54" r="3.55"/>
<circle cx="577.38" cy="228.01" r="3.55"/>
<circle cx="572.03" cy="235.67" r="3.55"/>
<circle cx="572.56" cy="237.36" r="3.55"/>
<circle cx="574.59" cy="229.15" r="3.55"/>
<circle cx="579.14" cy="221.4" r="3.55"/>
<circle cx="580.64" cy="229.47" r="3.55"/>
<circle cx="577.99" cy="230.87" r="3.55"/>
<circle cx="572.68" cy="238.56" r="3.55"/>
<circle cx="581.78" cy="232.5" r="3.55"/>
<circle cx="577.14" cy="236.96" r="3.55"/>
<circle cx="579.93" cy="232.18" r="3.55"/>
<circle cx="575.53" cy="237.04" r="3.55"/>
<circle cx="578.46" cy="231.1" r="3.55"/>
<circle cx="587.57" cy="222.27" r="3.55"/>
<circle cx="578.05" cy="231.6" r="3.55"/>
<circle cx="576.76" cy="233.17" r="3.55"/>
<circle cx="583.69" cy="227.34" r="3.55"/>
<circle cx="581.43" cy="235.67" r="3.55"/>
<circle cx="591.71" cy="219.01" r="3.55"/>
<circle cx="583.11" cy="233.87" r="3.55"/>
<circle cx="585.57" cy="221.37" r="3.55"/>
<circle cx="573.44" cy="235.44" r="3.55"/>
<circle cx="593.86" cy="214.29" r="3.55"/>
<circle cx="595.09" cy="218.72" r="3.55"/>
<circle cx="585.6" cy="223.73" r="3.55"/>
<circle cx="597.94" cy="208" r="3.55"/>
<circle cx="592.24" cy="222.13" r="3.55"/>
<circle cx="602.88" cy="207.59" r="3.55"/>
<circle cx="588.1" cy="225.92" r="3.55"/>
<circle cx="598.85" cy="209.22" r="3.55"/>
<circle cx="585.98" cy="224.87" r="3.55"/>
<circle cx="592.39" cy="209.57" r="3.55"/>
<circle cx="590.95" cy="220.99" r="3.55"/>
<circle cx="586.31" cy="220.21" r="3.55"/>
<circle cx="599.18" cy="211.41" r="3.55"/>
<circle cx="584.75" cy="225.77" r="3.55"/>
<circle cx="602.88" cy="205.44" r="3.55"/>
<circle cx="598.77" cy="214.06" r="3.55"/>
<circle cx="589.25" cy="218.31" r="3.55"/>
<circle cx="589.89" cy="221.28" r="3.55"/>
<circle cx="589.57" cy="218.4" r="3.55"/>
<circle cx="586.07" cy="221.78" r="3.55"/>
<circle cx="588.1" cy="227.02" r="3.55"/>
<circle cx="587.07" cy="224.37" r="3.55"/>
<circle cx="585.81" cy="223.85" r="3.55"/>
<circle cx="595.68" cy="215.75" r="3.55"/>
<circle cx="593.77" cy="214.7" r="3.55"/>
<circle cx="591.27" cy="217.56" r="3.55"/>
<circle cx="589.95" cy="220.53" r="3.55"/>
<circle cx="596.65" cy="211.2" r="3.55"/>
<circle cx="594.45" cy="215.28" r="3.55"/>
<circle cx="589.63" cy="221.63" r="3.55"/>
<circle cx="591.54" cy="215.87" r="3.55"/>
<circle cx="587.1" cy="223.06" r="3.55"/>
<circle cx="590.3" cy="217.26" r="3.55"/>
<circle cx="600" cy="211.44" r="3.55"/>
<circle cx="600.15" cy="211.03" r="3.55"/>
<circle cx="730.92" cy="111.29" r="3.55"/>
<circle cx="716.23" cy="159.94" r="3.55"/>
<circle cx="680.09" cy="151.49" r="3.55"/>
<circle cx="668.04" cy="140.13" r="3.55"/>
<circle cx="639.54" cy="124.4" r="3.55"/>
<circle cx="661.29" cy="154.4" r="3.55"/>
<circle cx="657.76" cy="157.61" r="3.55"/>
<circle cx="655.12" cy="163.14" r="3.55"/>
<circle cx="647.77" cy="164.6" r="3.55"/>
<circle cx="642.19" cy="163.14" r="3.55"/>
<circle cx="636.02" cy="166.34" r="3.55"/>
<circle cx="640.72" cy="170.13" r="3.55"/>
<circle cx="637.49" cy="175.67" r="3.55"/>
<circle cx="630.73" cy="178" r="3.55"/>
<circle cx="628.67" cy="181.2" r="3.55"/>
<circle cx="629.85" cy="183.53" r="3.55"/>
<circle cx="635.73" cy="192.27" r="3.55"/>
<circle cx="629.85" cy="192.27" r="3.55"/>
<circle cx="618.1" cy="183.53" r="3.55"/>
<circle cx="621.92" cy="205.96" r="3.55"/>
<circle cx="618.68" cy="193.44" r="3.55"/>
<circle cx="619.86" cy="197.81" r="3.55"/>
<circle cx="615.45" cy="204.5" r="3.55"/>
<circle cx="611.93" cy="212.08" r="3.55"/>
<circle cx="608.11" cy="217.03" r="3.55"/>
<circle cx="611.05" cy="207.71" r="3.55"/>
<circle cx="576.38" cy="196.93" r="3.55"/>
<circle cx="577.85" cy="204.5" r="3.55"/>
<circle cx="574.03" cy="206.25" r="3.55"/>
<circle cx="574.03" cy="213.24" r="3.55"/>
<circle cx="584.31" cy="208.29" r="3.55"/>
<circle cx="587.84" cy="206.25" r="3.55"/>
<circle cx="563.74" cy="219.07" r="3.55"/>
<circle cx="561.1" cy="224.02" r="3.55"/>
<circle cx="561.1" cy="229.56" r="3.55"/>
<circle cx="591.07" cy="234.8" r="3.55"/>
<circle cx="601.06" cy="201.01" r="3.55"/>
<circle cx="605.46" cy="198.97" r="3.55"/>
<circle cx="611.93" cy="193.44" r="3.55"/>
<circle cx="615.45" cy="189.94" r="3.55"/>
<circle cx="621.92" cy="187.9" r="3.55"/>
<circle cx="625.74" cy="185.57" r="3.55"/>
<circle cx="624.27" cy="191.4" r="3.55"/>
<circle cx="616.92" cy="198.68" r="3.55"/>
<circle cx="609.58" cy="203.05" r="3.55"/>
<circle cx="606.64" cy="207.42" r="3.55"/>
<circle cx="603.7" cy="204.5" r="3.55"/>
<circle cx="608.11" cy="197.22" r="3.55"/>
<circle cx="613.4" cy="201.01" r="3.55"/>
<circle cx="602.82" cy="211.79" r="3.55"/>
<circle cx="605.17" cy="214.7" r="3.55"/>
</g>
<path d="M561.1 248.2L731.5 79.25" stroke="#1c1c1c" stroke-width="2" stroke-dasharray="6.3 3.1" fill="none"/>
</g>
<g font-family='"Liberation Serif", "Times New Roman", serif' fill="#161616" stroke="#161616" stroke-width="0.42">
<text x="562.1" y="84.9" font-size="16.5" font-style="italic" textLength="10.6" lengthAdjust="spacingAndGlyphs">V</text>
<text x="571.5" y="86.8" font-size="11.5">1</text>
<text x="562.2" y="104.3" font-size="16.5" textLength="11.6" lengthAdjust="spacingAndGlyphs">R</text>
<text x="574.4" y="98" font-size="11">2</text>
<text x="584.9" y="104.3" font-size="16.5" textLength="11.8" lengthAdjust="spacingAndGlyphs">=</text>
<text x="601.5" y="104.3" font-size="16.5" textLength="35.2" lengthAdjust="spacingAndGlyphs">0.872</text>
</g>
</g>
<g id="p4">
<rect x="806.2" y="63.5" width="191.6" height="190" fill="#e5e5e5"/>
<path d="M808 63.5V253.5M806.2 251.4H997.8M866.84 63.5V253.5M806.2 193.04H997.8M925.68 63.5V253.5M806.2 134.68H997.8M984.52 63.5V253.5M806.2 76.32H997.8" stroke="#fff" stroke-width="1.3" fill="none"/>
<path d="M808 255.1v5.6M804.4 251.4h-5M866.84 255.1v5.6M804.4 193.04h-5M925.68 255.1v5.6M804.4 134.68h-5M984.52 255.1v5.6M804.4 76.32h-5" stroke="#4a4a4a" stroke-width="1.1" fill="none"/>
<g font-family='"Liberation Sans", Arial, Helvetica, sans-serif' font-size="12.3" fill="#555555">
<text x="808" y="275.8" text-anchor="middle">0</text>
<text x="793.2" y="255.9" text-anchor="end">0</text>
<text x="866.84" y="275.8" text-anchor="middle">40</text>
<text x="793.2" y="197.54" text-anchor="end">40</text>
<text x="925.68" y="275.8" text-anchor="middle">80</text>
<text x="793.2" y="139.18" text-anchor="end">80</text>
<text x="984.52" y="275.8" text-anchor="middle">120</text>
<text x="793.2" y="80.82" text-anchor="end">120</text>
</g>
<clipPath id="cp4"><rect x="806.2" y="63.5" width="191.6" height="190"/></clipPath>
<g clip-path="url(#cp4)"><g fill="#6890d3" fill-opacity="0.5" stroke="#6890d3" stroke-opacity="0.25" stroke-width="0.7">
<circle cx="830.99" cy="230.8" r="3.55"/>
<circle cx="821.99" cy="239.87" r="3.55"/>
<circle cx="834.05" cy="224.89" r="3.55"/>
<circle cx="818.41" cy="246.25" r="3.55"/>
<circle cx="826.68" cy="227.4" r="3.55"/>
<circle cx="825.68" cy="229.43" r="3.55"/>
<circle cx="822.46" cy="239.01" r="3.55"/>
<circle cx="830.98" cy="226.92" r="3.55"/>
<circle cx="838.35" cy="218.32" r="3.55"/>
<circle cx="819.5" cy="236.28" r="3.55"/>
<circle cx="837.24" cy="221.14" r="3.55"/>
<circle cx="820.8" cy="237.61" r="3.55"/>
<circle cx="831.29" cy="231.41" r="3.55"/>
<circle cx="827.81" cy="225.46" r="3.55"/>
<circle cx="819.74" cy="238.88" r="3.55"/>
<circle cx="818" cy="236.94" r="3.55"/>
<circle cx="817.74" cy="243.78" r="3.55"/>
<circle cx="822.89" cy="238.91" r="3.55"/>
<circle cx="826.31" cy="226.79" r="3.55"/>
<circle cx="824.7" cy="236.18" r="3.55"/>
<circle cx="827.24" cy="230.74" r="3.55"/>
<circle cx="826.93" cy="229.3" r="3.55"/>
<circle cx="822" cy="234.52" r="3.55"/>
<circle cx="841.73" cy="212.61" r="3.55"/>
<circle cx="829.46" cy="225.81" r="3.55"/>
<circle cx="825.73" cy="235.93" r="3.55"/>
<circle cx="857.59" cy="193.59" r="3.55"/>
<circle cx="828.65" cy="230.54" r="3.55"/>
<circle cx="835.42" cy="225.2" r="3.55"/>
<circle cx="837.1" cy="222.28" r="3.55"/>
<circle cx="826.23" cy="232.68" r="3.55"/>
<circle cx="827.99" cy="227.57" r="3.55"/>
<circle cx="821.8" cy="238.66" r="3.55"/>
<circle cx="836.36" cy="226.74" r="3.55"/>
<circle cx="829.83" cy="232.87" r="3.55"/>
<circle cx="831.86" cy="228.8" r="3.55"/>
<circle cx="828.56" cy="227.75" r="3.55"/>
<circle cx="819.69" cy="235.5" r="3.55"/>
<circle cx="820.36" cy="233.95" r="3.55"/>
<circle cx="842.82" cy="214.21" r="3.55"/>
<circle cx="817.99" cy="245.9" r="3.55"/>
<circle cx="823.3" cy="236.68" r="3.55"/>
<circle cx="825.08" cy="226.92" r="3.55"/>
<circle cx="822.62" cy="236.45" r="3.55"/>
<circle cx="822.43" cy="229" r="3.55"/>
<circle cx="825.09" cy="233.57" r="3.55"/>
<circle cx="828.87" cy="226.73" r="3.55"/>
<circle cx="817.12" cy="243.07" r="3.55"/>
<circle cx="827.87" cy="228.73" r="3.55"/>
<circle cx="823.71" cy="235.37" r="3.55"/>
<circle cx="819.33" cy="239.25" r="3.55"/>
<circle cx="829.02" cy="228.19" r="3.55"/>
<circle cx="820.53" cy="243.35" r="3.55"/>
<circle cx="822.83" cy="237.64" r="3.55"/>
<circle cx="828.33" cy="232.71" r="3.55"/>
<circle cx="826.77" cy="233.29" r="3.55"/>
<circle cx="825.99" cy="231.16" r="3.55"/>
<circle cx="819.94" cy="239.12" r="3.55"/>
<circle cx="821.44" cy="240.43" r="3.55"/>
<circle cx="844.33" cy="219.36" r="3.55"/>
<circle cx="822.53" cy="237.47" r="3.55"/>
<circle cx="830.76" cy="228.61" r="3.55"/>
<circle cx="822.21" cy="235.41" r="3.55"/>
<circle cx="819.24" cy="238.36" r="3.55"/>
<circle cx="819.27" cy="237.57" r="3.55"/>
<circle cx="826.95" cy="235.18" r="3.55"/>
<circle cx="824.74" cy="233.99" r="3.55"/>
<circle cx="822.09" cy="235.73" r="3.55"/>
<circle cx="829.77" cy="229.06" r="3.55"/>
<circle cx="821.55" cy="231.05" r="3.55"/>
<circle cx="828.8" cy="234.71" r="3.55"/>
<circle cx="827.67" cy="238.79" r="3.55"/>
<circle cx="847.32" cy="213.6" r="3.55"/>
<circle cx="828.15" cy="230.23" r="3.55"/>
<circle cx="826.9" cy="230.2" r="3.55"/>
<circle cx="821.71" cy="234.11" r="3.55"/>
<circle cx="835.13" cy="226.64" r="3.55"/>
<circle cx="816.44" cy="243.74" r="3.55"/>
<circle cx="833.89" cy="226.79" r="3.55"/>
<circle cx="833.07" cy="229.56" r="3.55"/>
<circle cx="842.82" cy="215.8" r="3.55"/>
<circle cx="817.62" cy="238.47" r="3.55"/>
<circle cx="827.17" cy="234.34" r="3.55"/>
<circle cx="819.83" cy="240.21" r="3.55"/>
<circle cx="829.04" cy="223.17" r="3.55"/>
<circle cx="819.87" cy="241.86" r="3.55"/>
<circle cx="835.68" cy="226.29" r="3.55"/>
<circle cx="832.29" cy="229.5" r="3.55"/>
<circle cx="817.21" cy="240.79" r="3.55"/>
<circle cx="832.92" cy="225.42" r="3.55"/>
<circle cx="822.2" cy="243.99" r="3.55"/>
<circle cx="820.94" cy="238.17" r="3.55"/>
<circle cx="829.71" cy="228.57" r="3.55"/>
<circle cx="824.43" cy="227.97" r="3.55"/>
<circle cx="833.83" cy="219.58" r="3.55"/>
<circle cx="828.37" cy="234.34" r="3.55"/>
<circle cx="824.02" cy="235.79" r="3.55"/>
<circle cx="820.37" cy="235.22" r="3.55"/>
<circle cx="827.05" cy="232.4" r="3.55"/>
<circle cx="819.53" cy="241.1" r="3.55"/>
<circle cx="823.81" cy="228.7" r="3.55"/>
<circle cx="820.67" cy="238.44" r="3.55"/>
<circle cx="829.12" cy="231.21" r="3.55"/>
<circle cx="819.19" cy="241.48" r="3.55"/>
<circle cx="822.65" cy="235.31" r="3.55"/>
<circle cx="822.43" cy="230.64" r="3.55"/>
<circle cx="829.93" cy="232.52" r="3.55"/>
<circle cx="831.34" cy="228.13" r="3.55"/>
<circle cx="822.34" cy="231.4" r="3.55"/>
<circle cx="841.35" cy="219.75" r="3.55"/>
<circle cx="819.41" cy="233.35" r="3.55"/>
<circle cx="848.85" cy="211.42" r="3.55"/>
<circle cx="821.37" cy="237.74" r="3.55"/>
<circle cx="834.49" cy="226.06" r="3.55"/>
<circle cx="824.96" cy="233.67" r="3.55"/>
<circle cx="821.31" cy="235.13" r="3.55"/>
<circle cx="831.27" cy="223.4" r="3.55"/>
<circle cx="825.14" cy="231.91" r="3.55"/>
<circle cx="822.09" cy="237.19" r="3.55"/>
<circle cx="830.05" cy="226.54" r="3.55"/>
<circle cx="820.59" cy="239.47" r="3.55"/>
<circle cx="821.53" cy="235.15" r="3.55"/>
<circle cx="822.83" cy="226.51" r="3.55"/>
<circle cx="820.34" cy="241.03" r="3.55"/>
<circle cx="825.71" cy="230.52" r="3.55"/>
<circle cx="831.01" cy="227.08" r="3.55"/>
<circle cx="824.67" cy="237.34" r="3.55"/>
<circle cx="819.58" cy="236.14" r="3.55"/>
<circle cx="832.27" cy="230.3" r="3.55"/>
<circle cx="829.58" cy="225.9" r="3.55"/>
<circle cx="820.08" cy="234.83" r="3.55"/>
<circle cx="823.2" cy="233.75" r="3.55"/>
<circle cx="820.56" cy="238.49" r="3.55"/>
<circle cx="822.99" cy="235.39" r="3.55"/>
<circle cx="823.21" cy="238.53" r="3.55"/>
<circle cx="821.4" cy="235.1" r="3.55"/>
<circle cx="817.97" cy="240.31" r="3.55"/>
<circle cx="833.37" cy="220.92" r="3.55"/>
<circle cx="819.12" cy="241.71" r="3.55"/>
<circle cx="833.24" cy="226.67" r="3.55"/>
<circle cx="822.92" cy="236.93" r="3.55"/>
<circle cx="826.9" cy="227.44" r="3.55"/>
<circle cx="827.48" cy="233.32" r="3.55"/>
<circle cx="818.34" cy="237.5" r="3.55"/>
<circle cx="821.93" cy="231.76" r="3.55"/>
<circle cx="816.74" cy="239.16" r="3.55"/>
<circle cx="828.06" cy="236.1" r="3.55"/>
<circle cx="827.09" cy="233.75" r="3.55"/>
<circle cx="828.52" cy="233.16" r="3.55"/>
<circle cx="823.12" cy="233.5" r="3.55"/>
<circle cx="823.68" cy="231.88" r="3.55"/>
<circle cx="837.21" cy="222.72" r="3.55"/>
<circle cx="819.72" cy="239.82" r="3.55"/>
<circle cx="830.36" cy="222.95" r="3.55"/>
<circle cx="820.74" cy="239.33" r="3.55"/>
<circle cx="827.84" cy="233.32" r="3.55"/>
<circle cx="832.4" cy="229.69" r="3.55"/>
<circle cx="826.48" cy="230.22" r="3.55"/>
<circle cx="841.76" cy="215.84" r="3.55"/>
<circle cx="833.39" cy="226.74" r="3.55"/>
<circle cx="848.63" cy="208.37" r="3.55"/>
<circle cx="836.79" cy="224.12" r="3.55"/>
<circle cx="831.45" cy="227.82" r="3.55"/>
<circle cx="838.63" cy="218.62" r="3.55"/>
<circle cx="828.23" cy="227.59" r="3.55"/>
<circle cx="825.39" cy="234.59" r="3.55"/>
<circle cx="827.74" cy="227.84" r="3.55"/>
<circle cx="826.28" cy="228.2" r="3.55"/>
<circle cx="822.08" cy="241.55" r="3.55"/>
<circle cx="840.72" cy="221.2" r="3.55"/>
<circle cx="829.76" cy="224.61" r="3.55"/>
<circle cx="822.99" cy="238.47" r="3.55"/>
<circle cx="821.93" cy="238.12" r="3.55"/>
<circle cx="825.21" cy="230.78" r="3.55"/>
<circle cx="847.2" cy="217.81" r="3.55"/>
<circle cx="828.36" cy="227.34" r="3.55"/>
<circle cx="830.02" cy="232.74" r="3.55"/>
<circle cx="825.14" cy="237.22" r="3.55"/>
<circle cx="822.83" cy="239.74" r="3.55"/>
<circle cx="835.7" cy="223.34" r="3.55"/>
<circle cx="832.76" cy="225.24" r="3.55"/>
<circle cx="825.4" cy="231.29" r="3.55"/>
<circle cx="836.85" cy="221.42" r="3.55"/>
<circle cx="832.73" cy="220.54" r="3.55"/>
<circle cx="826.02" cy="232.78" r="3.55"/>
<circle cx="830.36" cy="231.53" r="3.55"/>
<circle cx="830.24" cy="225.75" r="3.55"/>
<circle cx="856.6" cy="200.9" r="3.55"/>
<circle cx="828.06" cy="227.88" r="3.55"/>
<circle cx="842.24" cy="211.85" r="3.55"/>
<circle cx="840.2" cy="222.77" r="3.55"/>
<circle cx="834.36" cy="224.25" r="3.55"/>
<circle cx="841.08" cy="220.79" r="3.55"/>
<circle cx="830.8" cy="229.35" r="3.55"/>
<circle cx="822.27" cy="238.94" r="3.55"/>
<circle cx="842.91" cy="215.71" r="3.55"/>
<circle cx="822.58" cy="233.91" r="3.55"/>
<circle cx="838.7" cy="217.92" r="3.55"/>
<circle cx="819.71" cy="237.5" r="3.55"/>
<circle cx="822.58" cy="235.31" r="3.55"/>
<circle cx="829.09" cy="229.03" r="3.55"/>
<circle cx="823.62" cy="237.26" r="3.55"/>
<circle cx="822.59" cy="239.76" r="3.55"/>
<circle cx="819.94" cy="240.46" r="3.55"/>
<circle cx="821.77" cy="237.83" r="3.55"/>
<circle cx="828.83" cy="233.64" r="3.55"/>
<circle cx="838.33" cy="219.01" r="3.55"/>
<circle cx="819.5" cy="234.88" r="3.55"/>
<circle cx="824.14" cy="234.42" r="3.55"/>
<circle cx="834.93" cy="222.29" r="3.55"/>
<circle cx="827.23" cy="233.76" r="3.55"/>
<circle cx="819.86" cy="239.68" r="3.55"/>
<circle cx="822.74" cy="229.88" r="3.55"/>
<circle cx="843.94" cy="219.94" r="3.55"/>
<circle cx="822.65" cy="234.64" r="3.55"/>
<circle cx="825.59" cy="231.51" r="3.55"/>
<circle cx="833.54" cy="227.81" r="3.55"/>
<circle cx="823.65" cy="238.62" r="3.55"/>
<circle cx="855.53" cy="205.82" r="3.55"/>
<circle cx="838.89" cy="222.99" r="3.55"/>
<circle cx="853.37" cy="201.53" r="3.55"/>
<circle cx="831.42" cy="230.8" r="3.55"/>
<circle cx="828.7" cy="230.55" r="3.55"/>
<circle cx="822.9" cy="234.97" r="3.55"/>
<circle cx="827.26" cy="231.15" r="3.55"/>
<circle cx="826.61" cy="231.81" r="3.55"/>
<circle cx="819.92" cy="234.96" r="3.55"/>
<circle cx="835.65" cy="226.73" r="3.55"/>
<circle cx="824.17" cy="236.78" r="3.55"/>
<circle cx="818.31" cy="240.72" r="3.55"/>
<circle cx="820.34" cy="241.41" r="3.55"/>
<circle cx="829.46" cy="228.45" r="3.55"/>
<circle cx="840.24" cy="220.85" r="3.55"/>
<circle cx="825.17" cy="231.54" r="3.55"/>
<circle cx="832.4" cy="222" r="3.55"/>
<circle cx="828.4" cy="230.81" r="3.55"/>
<circle cx="833.35" cy="221.84" r="3.55"/>
<circle cx="818.87" cy="244.11" r="3.55"/>
<circle cx="826.06" cy="231.72" r="3.55"/>
<circle cx="832.79" cy="230.13" r="3.55"/>
<circle cx="826.39" cy="235.64" r="3.55"/>
<circle cx="821.95" cy="235.8" r="3.55"/>
<circle cx="829.49" cy="228.77" r="3.55"/>
<circle cx="828.74" cy="230.04" r="3.55"/>
<circle cx="825.92" cy="234.5" r="3.55"/>
<circle cx="836.41" cy="219.61" r="3.55"/>
<circle cx="822.64" cy="234.91" r="3.55"/>
<circle cx="825.83" cy="235.18" r="3.55"/>
<circle cx="819.44" cy="240.65" r="3.55"/>
<circle cx="819.11" cy="239.32" r="3.55"/>
<circle cx="831.51" cy="223.94" r="3.55"/>
<circle cx="816.5" cy="235.77" r="3.55"/>
<circle cx="834.07" cy="225.07" r="3.55"/>
<circle cx="838.07" cy="221.08" r="3.55"/>
<circle cx="834.11" cy="222.95" r="3.55"/>
<circle cx="820.94" cy="240.62" r="3.55"/>
<circle cx="830.73" cy="228.06" r="3.55"/>
<circle cx="826.05" cy="234.78" r="3.55"/>
<circle cx="831.36" cy="222.04" r="3.55"/>
<circle cx="829.59" cy="227.27" r="3.55"/>
<circle cx="831.99" cy="228.04" r="3.55"/>
<circle cx="831.34" cy="220.19" r="3.55"/>
<circle cx="819.61" cy="237.07" r="3.55"/>
<circle cx="837.36" cy="221.68" r="3.55"/>
<circle cx="826.48" cy="230.77" r="3.55"/>
<circle cx="848.42" cy="210.77" r="3.55"/>
<circle cx="821.47" cy="240.25" r="3.55"/>
<circle cx="842.45" cy="215.79" r="3.55"/>
<circle cx="821.81" cy="235.99" r="3.55"/>
<circle cx="818.64" cy="237.66" r="3.55"/>
<circle cx="820.12" cy="240.55" r="3.55"/>
<circle cx="834.6" cy="226.83" r="3.55"/>
<circle cx="830.4" cy="230.61" r="3.55"/>
<circle cx="820.24" cy="238.53" r="3.55"/>
<circle cx="828.08" cy="233.78" r="3.55"/>
<circle cx="828.04" cy="234.94" r="3.55"/>
<circle cx="819.62" cy="235.34" r="3.55"/>
<circle cx="822.56" cy="229.54" r="3.55"/>
<circle cx="827.62" cy="230.14" r="3.55"/>
<circle cx="835.36" cy="225.02" r="3.55"/>
<circle cx="856.73" cy="207.05" r="3.55"/>
<circle cx="820.81" cy="239.13" r="3.55"/>
<circle cx="825.23" cy="231.59" r="3.55"/>
<circle cx="820.78" cy="241.49" r="3.55"/>
<circle cx="835.48" cy="224.74" r="3.55"/>
<circle cx="830.77" cy="233.31" r="3.55"/>
<circle cx="833.42" cy="224.95" r="3.55"/>
<circle cx="820.55" cy="236.46" r="3.55"/>
<circle cx="841.57" cy="214.76" r="3.55"/>
<circle cx="820.34" cy="236.3" r="3.55"/>
<circle cx="829.52" cy="230.13" r="3.55"/>
<circle cx="825.67" cy="230.86" r="3.55"/>
<circle cx="819.86" cy="234.39" r="3.55"/>
<circle cx="823.11" cy="234.3" r="3.55"/>
<circle cx="840.74" cy="225.07" r="3.55"/>
<circle cx="820.99" cy="239.07" r="3.55"/>
<circle cx="817.68" cy="241.32" r="3.55"/>
<circle cx="836.02" cy="226.06" r="3.55"/>
<circle cx="826.9" cy="228.76" r="3.55"/>
<circle cx="819.22" cy="241.39" r="3.55"/>
<circle cx="834.63" cy="223.47" r="3.55"/>
<circle cx="824.87" cy="236.78" r="3.55"/>
<circle cx="827.39" cy="229.68" r="3.55"/>
<circle cx="826.99" cy="230.89" r="3.55"/>
<circle cx="827.74" cy="231.89" r="3.55"/>
<circle cx="824.9" cy="233.15" r="3.55"/>
<circle cx="817.87" cy="237.16" r="3.55"/>
<circle cx="829.37" cy="228.76" r="3.55"/>
<circle cx="841.76" cy="224.34" r="3.55"/>
<circle cx="825.3" cy="235.31" r="3.55"/>
<circle cx="835.92" cy="219.48" r="3.55"/>
<circle cx="820.87" cy="236.07" r="3.55"/>
<circle cx="825.37" cy="235.12" r="3.55"/>
<circle cx="819.09" cy="240.9" r="3.55"/>
<circle cx="829.98" cy="224.64" r="3.55"/>
<circle cx="843.07" cy="217.42" r="3.55"/>
<circle cx="825" cy="234.61" r="3.55"/>
<circle cx="823.98" cy="235.67" r="3.55"/>
<circle cx="820.64" cy="238.23" r="3.55"/>
<circle cx="820.56" cy="236.62" r="3.55"/>
<circle cx="845.53" cy="211.66" r="3.55"/>
<circle cx="840.02" cy="220.57" r="3.55"/>
<circle cx="834.49" cy="223.84" r="3.55"/>
<circle cx="835.18" cy="223.34" r="3.55"/>
<circle cx="832.4" cy="227.95" r="3.55"/>
<circle cx="849.47" cy="211.58" r="3.55"/>
<circle cx="855.53" cy="202" r="3.55"/>
<circle cx="844.89" cy="212.12" r="3.55"/>
<circle cx="846.91" cy="211.51" r="3.55"/>
<circle cx="835.15" cy="225.81" r="3.55"/>
<circle cx="836.54" cy="221.4" r="3.55"/>
<circle cx="845.98" cy="213.68" r="3.55"/>
<circle cx="859.31" cy="199.53" r="3.55"/>
<circle cx="842.22" cy="217.55" r="3.55"/>
<circle cx="831.87" cy="230.17" r="3.55"/>
<circle cx="835.73" cy="223.17" r="3.55"/>
<circle cx="855.13" cy="199.02" r="3.55"/>
<circle cx="833.39" cy="226.23" r="3.55"/>
<circle cx="838.83" cy="221.37" r="3.55"/>
<circle cx="847.22" cy="209.4" r="3.55"/>
<circle cx="855.29" cy="201.68" r="3.55"/>
<circle cx="853.65" cy="207.35" r="3.55"/>
<circle cx="838.08" cy="222.34" r="3.55"/>
<circle cx="835.11" cy="225.43" r="3.55"/>
<circle cx="844.2" cy="220.92" r="3.55"/>
<circle cx="832.8" cy="227.95" r="3.55"/>
<circle cx="842.29" cy="216.72" r="3.55"/>
<circle cx="838.92" cy="219.67" r="3.55"/>
<circle cx="848.23" cy="209.37" r="3.55"/>
<circle cx="835.17" cy="221.71" r="3.55"/>
<circle cx="833.42" cy="229.76" r="3.55"/>
<circle cx="851.95" cy="210.26" r="3.55"/>
<circle cx="834.43" cy="224.01" r="3.55"/>
<circle cx="851.97" cy="209.4" r="3.55"/>
<circle cx="848.61" cy="209.88" r="3.55"/>
<circle cx="856.68" cy="202.04" r="3.55"/>
<circle cx="848.53" cy="213.61" r="3.55"/>
<circle cx="840.95" cy="218.38" r="3.55"/>
<circle cx="835.51" cy="219.83" r="3.55"/>
<circle cx="863.65" cy="195.18" r="3.55"/>
<circle cx="841.45" cy="215.41" r="3.55"/>
<circle cx="852.95" cy="207.98" r="3.55"/>
<circle cx="831.68" cy="226.95" r="3.55"/>
<circle cx="849.67" cy="210.27" r="3.55"/>
<circle cx="831.61" cy="228.86" r="3.55"/>
<circle cx="833.6" cy="227.18" r="3.55"/>
<circle cx="842.05" cy="216.66" r="3.55"/>
<circle cx="840.04" cy="224.51" r="3.55"/>
<circle cx="832.39" cy="227.33" r="3.55"/>
<circle cx="840.41" cy="219.48" r="3.55"/>
<circle cx="844.3" cy="212.43" r="3.55"/>
<circle cx="838.66" cy="223.99" r="3.55"/>
<circle cx="847" cy="210.71" r="3.55"/>
<circle cx="833.3" cy="226.2" r="3.55"/>
<circle cx="852.13" cy="206.64" r="3.55"/>
<circle cx="835.54" cy="227.24" r="3.55"/>
<circle cx="842.58" cy="222.41" r="3.55"/>
<circle cx="847.28" cy="212.26" r="3.55"/>
<circle cx="836.38" cy="225.23" r="3.55"/>
<circle cx="834.36" cy="227.76" r="3.55"/>
<circle cx="835.13" cy="224.6" r="3.55"/>
<circle cx="852.7" cy="210.77" r="3.55"/>
<circle cx="859.6" cy="201.31" r="3.55"/>
<circle cx="836.41" cy="220.64" r="3.55"/>
<circle cx="833.62" cy="227.66" r="3.55"/>
<circle cx="848.04" cy="212.9" r="3.55"/>
<circle cx="832.93" cy="223.65" r="3.55"/>
<circle cx="852.57" cy="208.52" r="3.55"/>
<circle cx="856.47" cy="203.46" r="3.55"/>
<circle cx="841.39" cy="221.3" r="3.55"/>
<circle cx="981.28" cy="103.9" r="3.55"/>
<circle cx="952.01" cy="155.98" r="3.55"/>
<circle cx="818.89" cy="160.21" r="3.55"/>
<circle cx="839.63" cy="175.09" r="3.55"/>
<circle cx="919.94" cy="145.91" r="3.55"/>
<circle cx="914.21" cy="146.5" r="3.55"/>
<circle cx="918.47" cy="153.21" r="3.55"/>
<circle cx="899.64" cy="158.17" r="3.55"/>
<circle cx="904.35" cy="165.9" r="3.55"/>
<circle cx="884.05" cy="163.13" r="3.55"/>
<circle cx="882.73" cy="171.3" r="3.55"/>
<circle cx="895.52" cy="169.55" r="3.55"/>
<circle cx="899.2" cy="172.18" r="3.55"/>
<circle cx="887.73" cy="176.41" r="3.55"/>
<circle cx="893.32" cy="170.13" r="3.55"/>
<circle cx="864.49" cy="180.35" r="3.55"/>
<circle cx="867.87" cy="182.39" r="3.55"/>
<circle cx="880.08" cy="185.16" r="3.55"/>
<circle cx="874.49" cy="187.79" r="3.55"/>
<circle cx="871.25" cy="185.6" r="3.55"/>
<circle cx="866.84" cy="190.12" r="3.55"/>
<circle cx="870.08" cy="194.94" r="3.55"/>
<circle cx="865.66" cy="192.31" r="3.55"/>
<circle cx="857.43" cy="196.25" r="3.55"/>
<circle cx="846.83" cy="201.06" r="3.55"/>
<circle cx="842.42" cy="206.61" r="3.55"/>
<circle cx="823.74" cy="208.36" r="3.55"/>
<circle cx="827.42" cy="209.96" r="3.55"/>
<circle cx="825.5" cy="218.72" r="3.55"/>
<circle cx="814.47" cy="221.64" r="3.55"/>
<circle cx="808.74" cy="232.72" r="3.55"/>
<circle cx="860.07" cy="208.8" r="3.55"/>
<circle cx="857.87" cy="213.17" r="3.55"/>
<circle cx="860.96" cy="200.34" r="3.55"/>
<circle cx="862.43" cy="196.69" r="3.55"/>
<circle cx="859.49" cy="203.25" r="3.55"/>
<circle cx="856.54" cy="204.71" r="3.55"/>
<circle cx="858.75" cy="206.9" r="3.55"/>
<circle cx="861.69" cy="204.71" r="3.55"/>
<circle cx="853.6" cy="203.25" r="3.55"/>
<circle cx="855.07" cy="200.34" r="3.55"/>
</g>
<path d="M808 251.4L981.58 79.24" stroke="#1c1c1c" stroke-width="2" stroke-dasharray="6.3 3.1" fill="none"/>
</g>
<g font-family='"Liberation Serif", "Times New Roman", serif' fill="#161616" stroke="#161616" stroke-width="0.42">
<text x="812.5" y="84.9" font-size="16.5" font-style="italic" textLength="10.6" lengthAdjust="spacingAndGlyphs">V</text>
<text x="821.9" y="86.8" font-size="11.5">2</text>
<text x="812.6" y="104.3" font-size="16.5" textLength="11.6" lengthAdjust="spacingAndGlyphs">R</text>
<text x="824.8" y="98" font-size="11">2</text>
<text x="835.3" y="104.3" font-size="16.5" textLength="11.8" lengthAdjust="spacingAndGlyphs">=</text>
<text x="851.9" y="104.3" font-size="16.5" textLength="35.2" lengthAdjust="spacingAndGlyphs">0.872</text>
</g>
</g>
<g id="p5">
<rect x="63" y="337" width="191.3" height="190" fill="#e5e5e5"/>
<path d="M68.25 337V527M63 522.1H254.3M126.97 337V527M63 463.78H254.3M185.69 337V527M63 405.46H254.3M244.41 337V527M63 347.14H254.3" stroke="#fff" stroke-width="1.3" fill="none"/>
<path d="M68.25 528.6v5.6M61.2 522.1h-5M126.97 528.6v5.6M61.2 463.78h-5M185.69 528.6v5.6M61.2 405.46h-5M244.41 528.6v5.6M61.2 347.14h-5" stroke="#4a4a4a" stroke-width="1.1" fill="none"/>
<g font-family='"Liberation Sans", Arial, Helvetica, sans-serif' font-size="12.3" fill="#555555">
<text x="68.25" y="549.3" text-anchor="middle">0</text>
<text x="50" y="526.6" text-anchor="end">0</text>
<text x="126.97" y="549.3" text-anchor="middle">20</text>
<text x="50" y="468.28" text-anchor="end">20</text>
<text x="185.69" y="549.3" text-anchor="middle">40</text>
<text x="50" y="409.96" text-anchor="end">40</text>
<text x="244.41" y="549.3" text-anchor="middle">60</text>
<text x="50" y="351.64" text-anchor="end">60</text>
</g>
<clipPath id="cp5"><rect x="63" y="337" width="191.3" height="190"/></clipPath>
<g clip-path="url(#cp5)"><g fill="#cd5c5c" fill-opacity="0.42" stroke="#cd5c5c" stroke-opacity="0.21" stroke-width="0.7">
<circle cx="104.01" cy="497.37" r="3.55"/>
<circle cx="84.05" cy="498.6" r="3.55"/>
<circle cx="85.81" cy="501.05" r="3.55"/>
<circle cx="83.87" cy="512.51" r="3.55"/>
<circle cx="82.7" cy="510.32" r="3.55"/>
<circle cx="88.19" cy="501.98" r="3.55"/>
<circle cx="89.07" cy="502.04" r="3.55"/>
<circle cx="80.41" cy="509.12" r="3.55"/>
<circle cx="81.11" cy="516.53" r="3.55"/>
<circle cx="82.99" cy="511.54" r="3.55"/>
<circle cx="79.61" cy="515.54" r="3.55"/>
<circle cx="80.23" cy="509.47" r="3.55"/>
<circle cx="91.91" cy="494.14" r="3.55"/>
<circle cx="101.57" cy="490.23" r="3.55"/>
<circle cx="95.64" cy="488.57" r="3.55"/>
<circle cx="83.93" cy="504.66" r="3.55"/>
<circle cx="90.92" cy="498.16" r="3.55"/>
<circle cx="86.37" cy="503.29" r="3.55"/>
<circle cx="91.86" cy="502.83" r="3.55"/>
<circle cx="82.17" cy="500.96" r="3.55"/>
<circle cx="84.54" cy="504.95" r="3.55"/>
<circle cx="82.96" cy="503.32" r="3.55"/>
<circle cx="86.48" cy="507.29" r="3.55"/>
<circle cx="86.31" cy="505.89" r="3.55"/>
<circle cx="78.97" cy="510.44" r="3.55"/>
<circle cx="97.99" cy="488.86" r="3.55"/>
<circle cx="84.75" cy="495.8" r="3.55"/>
<circle cx="86.51" cy="508.07" r="3.55"/>
<circle cx="95.35" cy="497.05" r="3.55"/>
<circle cx="80.43" cy="508.48" r="3.55"/>
<circle cx="78.64" cy="513.61" r="3.55"/>
<circle cx="79.99" cy="506.27" r="3.55"/>
<circle cx="95.55" cy="492.3" r="3.55"/>
<circle cx="90.04" cy="496.76" r="3.55"/>
<circle cx="96.96" cy="496.64" r="3.55"/>
<circle cx="81.29" cy="510.99" r="3.55"/>
<circle cx="78.88" cy="514.29" r="3.55"/>
<circle cx="98.17" cy="493.44" r="3.55"/>
<circle cx="110.29" cy="475.91" r="3.55"/>
<circle cx="81.34" cy="499.71" r="3.55"/>
<circle cx="80.35" cy="511.78" r="3.55"/>
<circle cx="83.22" cy="511.78" r="3.55"/>
<circle cx="90.56" cy="500.84" r="3.55"/>
<circle cx="88.66" cy="494.43" r="3.55"/>
<circle cx="90.59" cy="491.19" r="3.55"/>
<circle cx="81.99" cy="500.55" r="3.55"/>
<circle cx="91.44" cy="495.45" r="3.55"/>
<circle cx="78.35" cy="510.96" r="3.55"/>
<circle cx="80.43" cy="508.8" r="3.55"/>
<circle cx="81.96" cy="506.62" r="3.55"/>
<circle cx="81.2" cy="501.83" r="3.55"/>
<circle cx="85.01" cy="507.81" r="3.55"/>
<circle cx="97.93" cy="493.06" r="3.55"/>
<circle cx="80.79" cy="506.65" r="3.55"/>
<circle cx="93.12" cy="503.7" r="3.55"/>
<circle cx="79.76" cy="509.15" r="3.55"/>
<circle cx="93.26" cy="501.89" r="3.55"/>
<circle cx="86.37" cy="503.03" r="3.55"/>
<circle cx="92.71" cy="506.65" r="3.55"/>
<circle cx="86.13" cy="501.66" r="3.55"/>
<circle cx="111.06" cy="484.98" r="3.55"/>
<circle cx="85.6" cy="506.85" r="3.55"/>
<circle cx="93.21" cy="496.38" r="3.55"/>
<circle cx="89.89" cy="497.05" r="3.55"/>
<circle cx="85.28" cy="502.42" r="3.55"/>
<circle cx="79" cy="513.73" r="3.55"/>
<circle cx="87.45" cy="499.82" r="3.55"/>
<circle cx="80.2" cy="510.14" r="3.55"/>
<circle cx="85.98" cy="501.86" r="3.55"/>
<circle cx="83.28" cy="505.89" r="3.55"/>
<circle cx="84.99" cy="500.49" r="3.55"/>
<circle cx="83.05" cy="516.27" r="3.55"/>
<circle cx="86.95" cy="499.82" r="3.55"/>
<circle cx="84.19" cy="510.03" r="3.55"/>
<circle cx="101.13" cy="480.98" r="3.55"/>
<circle cx="82.99" cy="506.56" r="3.55"/>
<circle cx="84.87" cy="502.27" r="3.55"/>
<circle cx="88.39" cy="501.51" r="3.55"/>
<circle cx="86.83" cy="507.2" r="3.55"/>
<circle cx="89.86" cy="502.33" r="3.55"/>
<circle cx="87.75" cy="504.46" r="3.55"/>
<circle cx="93.94" cy="497.98" r="3.55"/>
<circle cx="82.02" cy="515.33" r="3.55"/>
<circle cx="80.11" cy="517.35" r="3.55"/>
<circle cx="92.5" cy="497.78" r="3.55"/>
<circle cx="80.05" cy="514.08" r="3.55"/>
<circle cx="80.49" cy="512.71" r="3.55"/>
<circle cx="86.72" cy="506.15" r="3.55"/>
<circle cx="81.9" cy="510.38" r="3.55"/>
<circle cx="101.19" cy="488.01" r="3.55"/>
<circle cx="102.04" cy="486.47" r="3.55"/>
<circle cx="83.55" cy="506.7" r="3.55"/>
<circle cx="93.76" cy="496.56" r="3.55"/>
<circle cx="82.17" cy="508.13" r="3.55"/>
<circle cx="91.56" cy="504.78" r="3.55"/>
<circle cx="80.14" cy="509.18" r="3.55"/>
<circle cx="86.86" cy="500.26" r="3.55"/>
<circle cx="84.99" cy="506.24" r="3.55"/>
<circle cx="87.25" cy="500.23" r="3.55"/>
<circle cx="79.44" cy="506.7" r="3.55"/>
<circle cx="85.66" cy="504.81" r="3.55"/>
<circle cx="81.87" cy="515.8" r="3.55"/>
<circle cx="85.54" cy="502.18" r="3.55"/>
<circle cx="83.34" cy="508.25" r="3.55"/>
<circle cx="85.57" cy="497.14" r="3.55"/>
<circle cx="83.46" cy="505.16" r="3.55"/>
<circle cx="101.02" cy="492.36" r="3.55"/>
<circle cx="101.9" cy="481.48" r="3.55"/>
<circle cx="103.36" cy="484.57" r="3.55"/>
<circle cx="96.41" cy="493.52" r="3.55"/>
<circle cx="79.41" cy="513.12" r="3.55"/>
<circle cx="79.47" cy="509.12" r="3.55"/>
<circle cx="80.17" cy="512.27" r="3.55"/>
<circle cx="100.96" cy="491.92" r="3.55"/>
<circle cx="85.95" cy="507.32" r="3.55"/>
<circle cx="83.75" cy="504.6" r="3.55"/>
<circle cx="88.51" cy="496.44" r="3.55"/>
<circle cx="89.01" cy="509.15" r="3.55"/>
<circle cx="77.94" cy="512.51" r="3.55"/>
<circle cx="88.48" cy="504.11" r="3.55"/>
<circle cx="101.51" cy="493.9" r="3.55"/>
<circle cx="91.44" cy="505.42" r="3.55"/>
<circle cx="83.81" cy="506.41" r="3.55"/>
<circle cx="90.97" cy="502.36" r="3.55"/>
<circle cx="80.29" cy="507.55" r="3.55"/>
<circle cx="80.73" cy="506.06" r="3.55"/>
<circle cx="82.05" cy="515.22" r="3.55"/>
<circle cx="95.09" cy="504.02" r="3.55"/>
<circle cx="87.13" cy="511.78" r="3.55"/>
<circle cx="98.23" cy="492.47" r="3.55"/>
<circle cx="96.55" cy="496.88" r="3.55"/>
<circle cx="86.28" cy="506.73" r="3.55"/>
<circle cx="84.6" cy="500.96" r="3.55"/>
<circle cx="81.46" cy="514.14" r="3.55"/>
<circle cx="88.45" cy="495.97" r="3.55"/>
<circle cx="87.25" cy="497.26" r="3.55"/>
<circle cx="82.9" cy="505.51" r="3.55"/>
<circle cx="102.07" cy="479.21" r="3.55"/>
<circle cx="81.52" cy="506.85" r="3.55"/>
<circle cx="84.1" cy="497.2" r="3.55"/>
<circle cx="101.05" cy="491.16" r="3.55"/>
<circle cx="104.39" cy="488.83" r="3.55"/>
<circle cx="83.19" cy="506.88" r="3.55"/>
<circle cx="94.88" cy="492.24" r="3.55"/>
<circle cx="85.25" cy="509.21" r="3.55"/>
<circle cx="96.44" cy="487.84" r="3.55"/>
<circle cx="89.27" cy="500.84" r="3.55"/>
<circle cx="95.94" cy="489.41" r="3.55"/>
<circle cx="89.36" cy="493.9" r="3.55"/>
<circle cx="83.14" cy="500.06" r="3.55"/>
<circle cx="78.67" cy="509.5" r="3.55"/>
<circle cx="84.02" cy="508.95" r="3.55"/>
<circle cx="91.94" cy="493.26" r="3.55"/>
<circle cx="89.07" cy="504.52" r="3.55"/>
<circle cx="86.07" cy="501.43" r="3.55"/>
<circle cx="84.75" cy="504.98" r="3.55"/>
<circle cx="102.28" cy="494.4" r="3.55"/>
<circle cx="87.07" cy="503.15" r="3.55"/>
<circle cx="81.76" cy="504.63" r="3.55"/>
<circle cx="80.11" cy="502.71" r="3.55"/>
<circle cx="80.79" cy="505.57" r="3.55"/>
<circle cx="86.78" cy="504.22" r="3.55"/>
<circle cx="86.25" cy="507.26" r="3.55"/>
<circle cx="79.08" cy="515.98" r="3.55"/>
<circle cx="93.21" cy="498.01" r="3.55"/>
<circle cx="90.39" cy="497.34" r="3.55"/>
<circle cx="96.64" cy="496.26" r="3.55"/>
<circle cx="84.37" cy="505.89" r="3.55"/>
<circle cx="78.32" cy="509.33" r="3.55"/>
<circle cx="80.11" cy="504.87" r="3.55"/>
<circle cx="87.07" cy="503.93" r="3.55"/>
<circle cx="100.43" cy="492.47" r="3.55"/>
<circle cx="86.72" cy="504.69" r="3.55"/>
<circle cx="80.64" cy="506.03" r="3.55"/>
<circle cx="90.24" cy="499.59" r="3.55"/>
<circle cx="86.98" cy="513.32" r="3.55"/>
<circle cx="92.15" cy="498.31" r="3.55"/>
<circle cx="83.99" cy="511.51" r="3.55"/>
<circle cx="81.23" cy="501.98" r="3.55"/>
<circle cx="82.93" cy="514.52" r="3.55"/>
<circle cx="84.78" cy="502.13" r="3.55"/>
<circle cx="97.99" cy="491.69" r="3.55"/>
<circle cx="79.96" cy="513.85" r="3.55"/>
<circle cx="90.62" cy="496" r="3.55"/>
<circle cx="101.72" cy="484.98" r="3.55"/>
<circle cx="78.76" cy="510.67" r="3.55"/>
<circle cx="84.66" cy="505.07" r="3.55"/>
<circle cx="79.44" cy="514.72" r="3.55"/>
<circle cx="97.96" cy="489.35" r="3.55"/>
<circle cx="88.21" cy="502.48" r="3.55"/>
<circle cx="99.05" cy="494.19" r="3.55"/>
<circle cx="79.38" cy="512.97" r="3.55"/>
<circle cx="94.76" cy="490.32" r="3.55"/>
<circle cx="92.79" cy="490.67" r="3.55"/>
<circle cx="79.14" cy="513.88" r="3.55"/>
<circle cx="109.15" cy="468.45" r="3.55"/>
<circle cx="85.84" cy="496.79" r="3.55"/>
<circle cx="84.37" cy="506.76" r="3.55"/>
<circle cx="98.31" cy="489.59" r="3.55"/>
<circle cx="79.47" cy="514.84" r="3.55"/>
<circle cx="88.39" cy="500.58" r="3.55"/>
<circle cx="91.83" cy="501.51" r="3.55"/>
<circle cx="87.13" cy="498.01" r="3.55"/>
<circle cx="89.77" cy="497.75" r="3.55"/>
<circle cx="81.29" cy="500.61" r="3.55"/>
<circle cx="79.41" cy="504.95" r="3.55"/>
<circle cx="95.82" cy="494.81" r="3.55"/>
<circle cx="83.43" cy="509.5" r="3.55"/>
<circle cx="100.9" cy="490.26" r="3.55"/>
<circle cx="87.98" cy="505.13" r="3.55"/>
<circle cx="85.31" cy="499.94" r="3.55"/>
<circle cx="90.56" cy="489.99" r="3.55"/>
<circle cx="98.29" cy="493.55" r="3.55"/>
<circle cx="84.19" cy="500.58" r="3.55"/>
<circle cx="89.83" cy="497.96" r="3.55"/>
<circle cx="89.54" cy="506.73" r="3.55"/>
<circle cx="96.08" cy="492.65" r="3.55"/>
<circle cx="90.56" cy="502.42" r="3.55"/>
<circle cx="88.04" cy="500.99" r="3.55"/>
<circle cx="80.49" cy="510.79" r="3.55"/>
<circle cx="100.99" cy="490.67" r="3.55"/>
<circle cx="102.22" cy="484.57" r="3.55"/>
<circle cx="92.74" cy="503.58" r="3.55"/>
<circle cx="105.07" cy="487.69" r="3.55"/>
<circle cx="99.37" cy="492.85" r="3.55"/>
<circle cx="110" cy="475.09" r="3.55"/>
<circle cx="95.23" cy="500.49" r="3.55"/>
<circle cx="105.98" cy="481.74" r="3.55"/>
<circle cx="93.12" cy="505.22" r="3.55"/>
<circle cx="99.52" cy="488.45" r="3.55"/>
<circle cx="98.08" cy="488.45" r="3.55"/>
<circle cx="93.44" cy="496.38" r="3.55"/>
<circle cx="106.3" cy="483.29" r="3.55"/>
<circle cx="91.88" cy="498.22" r="3.55"/>
<circle cx="110" cy="477.28" r="3.55"/>
<circle cx="105.89" cy="487.31" r="3.55"/>
<circle cx="96.38" cy="484.45" r="3.55"/>
<circle cx="97.02" cy="495.77" r="3.55"/>
<circle cx="96.7" cy="494.72" r="3.55"/>
<circle cx="93.21" cy="498.51" r="3.55"/>
<circle cx="95.23" cy="495.86" r="3.55"/>
<circle cx="94.2" cy="499.68" r="3.55"/>
<circle cx="92.94" cy="499.5" r="3.55"/>
<circle cx="102.81" cy="495.27" r="3.55"/>
<circle cx="100.9" cy="498.54" r="3.55"/>
<circle cx="237.95" cy="373.09" r="3.55"/>
<circle cx="223.27" cy="420.33" r="3.55"/>
<circle cx="146.93" cy="382.13" r="3.55"/>
<circle cx="165.43" cy="382.13" r="3.55"/>
<circle cx="187.75" cy="425" r="3.55"/>
<circle cx="182.17" cy="425" r="3.55"/>
<circle cx="175.41" cy="425.87" r="3.55"/>
<circle cx="168.07" cy="415.96" r="3.55"/>
<circle cx="165.14" cy="431.12" r="3.55"/>
<circle cx="162.2" cy="423.83" r="3.55"/>
<circle cx="143.12" cy="425.29" r="3.55"/>
<circle cx="149.58" cy="436.08" r="3.55"/>
<circle cx="137.25" cy="437.83" r="3.55"/>
<circle cx="144.29" cy="445.41" r="3.55"/>
<circle cx="148.11" cy="451.82" r="3.55"/>
<circle cx="154.86" cy="457.95" r="3.55"/>
<circle cx="135.19" cy="452.41" r="3.55"/>
<circle cx="125.5" cy="454.45" r="3.55"/>
<circle cx="122.86" cy="457.95" r="3.55"/>
<circle cx="138.13" cy="459.11" r="3.55"/>
<circle cx="140.18" cy="462.61" r="3.55"/>
<circle cx="143.12" cy="468.74" r="3.55"/>
<circle cx="138.13" cy="469.9" r="3.55"/>
<circle cx="133.72" cy="468.15" r="3.55"/>
<circle cx="129.32" cy="475.74" r="3.55"/>
<circle cx="126.97" cy="469.9" r="3.55"/>
<circle cx="118.16" cy="465.24" r="3.55"/>
<circle cx="114.93" cy="470.49" r="3.55"/>
<circle cx="91.74" cy="470.2" r="3.55"/>
<circle cx="81.17" cy="486.82" r="3.55"/>
<circle cx="68.25" cy="495.56" r="3.55"/>
<circle cx="69.13" cy="497.31" r="3.55"/>
<circle cx="71.19" cy="501.69" r="3.55"/>
<circle cx="119.34" cy="477.49" r="3.55"/>
<circle cx="123.74" cy="485.36" r="3.55"/>
<circle cx="118.46" cy="487.4" r="3.55"/>
<circle cx="107.01" cy="498.48" r="3.55"/>
<circle cx="108.18" cy="478.65" r="3.55"/>
<circle cx="125.5" cy="465.24" r="3.55"/>
<circle cx="128.44" cy="461.45" r="3.55"/>
<circle cx="121.69" cy="469.61" r="3.55"/>
<circle cx="116.69" cy="476.9" r="3.55"/>
<circle cx="113.76" cy="479.82" r="3.55"/>
<circle cx="111.7" cy="484.19" r="3.55"/>
<circle cx="115.23" cy="485.65" r="3.55"/>
<circle cx="131.37" cy="466.7" r="3.55"/>
<circle cx="79.99" cy="522.1" r="3.55"/>
<circle cx="80.87" cy="522.1" r="3.55"/>
<circle cx="81.76" cy="522.1" r="3.55"/>
<circle cx="82.64" cy="522.1" r="3.55"/>
<circle cx="83.52" cy="522.1" r="3.55"/>
<circle cx="84.4" cy="522.1" r="3.55"/>
<circle cx="85.28" cy="522.1" r="3.55"/>
<circle cx="86.16" cy="522.1" r="3.55"/>
<circle cx="87.04" cy="522.1" r="3.55"/>
<circle cx="81.46" cy="522.1" r="3.55"/>
<circle cx="82.93" cy="522.1" r="3.55"/>
<circle cx="84.69" cy="522.1" r="3.55"/>
<circle cx="92.33" cy="522.1" r="3.55"/>
<circle cx="94.67" cy="522.1" r="3.55"/>
<circle cx="97.61" cy="522.1" r="3.55"/>
</g>
<path d="M68.25 522.1L238.54 352.97" stroke="#1c1c1c" stroke-width="2" stroke-dasharray="6.3 3.1" fill="none"/>
</g>
<g font-family='"Liberation Serif", "Times New Roman", serif' fill="#161616" stroke="#161616" stroke-width="0.42">
<text x="69.1" y="358.7" font-size="16.5" font-style="italic" textLength="10.6" lengthAdjust="spacingAndGlyphs">V</text>
<text x="78.5" y="360.6" font-size="11.5">1</text>
<text x="69.2" y="378" font-size="16.5" textLength="11.6" lengthAdjust="spacingAndGlyphs">R</text>
<text x="81.4" y="371.7" font-size="11">2</text>
<text x="91.9" y="378" font-size="16.5" textLength="11.8" lengthAdjust="spacingAndGlyphs">=</text>
<text x="108.5" y="378" font-size="16.5" textLength="35.2" lengthAdjust="spacingAndGlyphs">0.817</text>
</g>
</g>
<g id="p6">
<rect x="313" y="337" width="191.3" height="190" fill="#e5e5e5"/>
<path d="M314.9 337V527M313 524.7H504.3M373.6 337V527M313 466.54H504.3M432.3 337V527M313 408.38H504.3M491 337V527M313 350.22H504.3" stroke="#fff" stroke-width="1.3" fill="none"/>
<path d="M314.9 528.6v5.6M311.2 524.7h-5M373.6 528.6v5.6M311.2 466.54h-5M432.3 528.6v5.6M311.2 408.38h-5M491 528.6v5.6M311.2 350.22h-5" stroke="#4a4a4a" stroke-width="1.1" fill="none"/>
<g font-family='"Liberation Sans", Arial, Helvetica, sans-serif' font-size="12.3" fill="#555555">
<text x="314.9" y="549.3" text-anchor="middle">0</text>
<text x="300" y="529.2" text-anchor="end">0</text>
<text x="373.6" y="549.3" text-anchor="middle">40</text>
<text x="300" y="471.04" text-anchor="end">40</text>
<text x="432.3" y="549.3" text-anchor="middle">80</text>
<text x="300" y="412.88" text-anchor="end">80</text>
<text x="491" y="549.3" text-anchor="middle">120</text>
<text x="300" y="354.72" text-anchor="end">120</text>
</g>
<clipPath id="cp6"><rect x="313" y="337" width="191.3" height="190"/></clipPath>
<g clip-path="url(#cp6)"><g fill="#6890d3" fill-opacity="0.5" stroke="#6890d3" stroke-opacity="0.25" stroke-width="0.7">
<circle cx="337.84" cy="504.71" r="3.55"/>
<circle cx="328.86" cy="513.85" r="3.55"/>
<circle cx="340.89" cy="498.27" r="3.55"/>
<circle cx="325.29" cy="520.7" r="3.55"/>
<circle cx="333.54" cy="500.83" r="3.55"/>
<circle cx="332.54" cy="502.32" r="3.55"/>
<circle cx="329.33" cy="512.92" r="3.55"/>
<circle cx="337.82" cy="500.17" r="3.55"/>
<circle cx="345.17" cy="491.29" r="3.55"/>
<circle cx="326.38" cy="509.36" r="3.55"/>
<circle cx="344.07" cy="494.38" r="3.55"/>
<circle cx="327.67" cy="511.09" r="3.55"/>
<circle cx="338.13" cy="505.39" r="3.55"/>
<circle cx="334.67" cy="498.05" r="3.55"/>
<circle cx="326.61" cy="512.4" r="3.55"/>
<circle cx="324.88" cy="510.09" r="3.55"/>
<circle cx="324.61" cy="517.76" r="3.55"/>
<circle cx="329.75" cy="512.86" r="3.55"/>
<circle cx="333.17" cy="499.36" r="3.55"/>
<circle cx="331.56" cy="509.97" r="3.55"/>
<circle cx="334.09" cy="504.05" r="3.55"/>
<circle cx="333.79" cy="502.34" r="3.55"/>
<circle cx="328.87" cy="508.07" r="3.55"/>
<circle cx="348.55" cy="485.15" r="3.55"/>
<circle cx="336.31" cy="498.69" r="3.55"/>
<circle cx="332.58" cy="509.83" r="3.55"/>
<circle cx="364.37" cy="465.46" r="3.55"/>
<circle cx="335.5" cy="504.02" r="3.55"/>
<circle cx="342.25" cy="498.8" r="3.55"/>
<circle cx="343.93" cy="495.81" r="3.55"/>
<circle cx="333.08" cy="506.13" r="3.55"/>
<circle cx="334.84" cy="500.51" r="3.55"/>
<circle cx="328.67" cy="512.44" r="3.55"/>
<circle cx="343.19" cy="500.71" r="3.55"/>
<circle cx="336.68" cy="506.87" r="3.55"/>
<circle cx="338.7" cy="502.45" r="3.55"/>
<circle cx="335.42" cy="500.8" r="3.55"/>
<circle cx="326.57" cy="508.49" r="3.55"/>
<circle cx="327.23" cy="507.24" r="3.55"/>
<circle cx="349.64" cy="487.16" r="3.55"/>
<circle cx="324.86" cy="520.25" r="3.55"/>
<circle cx="330.16" cy="510.35" r="3.55"/>
<circle cx="331.94" cy="499.34" r="3.55"/>
<circle cx="329.49" cy="509.99" r="3.55"/>
<circle cx="329.3" cy="502.15" r="3.55"/>
<circle cx="331.95" cy="507.02" r="3.55"/>
<circle cx="335.72" cy="499.66" r="3.55"/>
<circle cx="324" cy="516.86" r="3.55"/>
<circle cx="334.73" cy="501.81" r="3.55"/>
<circle cx="330.57" cy="508.9" r="3.55"/>
<circle cx="326.2" cy="512.76" r="3.55"/>
<circle cx="335.87" cy="501.35" r="3.55"/>
<circle cx="327.4" cy="517.66" r="3.55"/>
<circle cx="329.69" cy="511.4" r="3.55"/>
<circle cx="335.18" cy="506.48" r="3.55"/>
<circle cx="333.63" cy="506.93" r="3.55"/>
<circle cx="332.85" cy="504.37" r="3.55"/>
<circle cx="326.82" cy="512.69" r="3.55"/>
<circle cx="328.31" cy="514.41" r="3.55"/>
<circle cx="351.15" cy="493.31" r="3.55"/>
<circle cx="329.4" cy="511.15" r="3.55"/>
<circle cx="337.6" cy="502.09" r="3.55"/>
<circle cx="329.08" cy="508.74" r="3.55"/>
<circle cx="326.11" cy="512.44" r="3.55"/>
<circle cx="326.14" cy="510.81" r="3.55"/>
<circle cx="333.8" cy="509.67" r="3.55"/>
<circle cx="331.6" cy="508.23" r="3.55"/>
<circle cx="328.96" cy="509.1" r="3.55"/>
<circle cx="336.62" cy="502.47" r="3.55"/>
<circle cx="328.42" cy="503.73" r="3.55"/>
<circle cx="335.65" cy="508.84" r="3.55"/>
<circle cx="334.52" cy="513.39" r="3.55"/>
<circle cx="354.13" cy="487.07" r="3.55"/>
<circle cx="335" cy="503.68" r="3.55"/>
<circle cx="333.76" cy="503.38" r="3.55"/>
<circle cx="328.58" cy="507.16" r="3.55"/>
<circle cx="341.96" cy="500.42" r="3.55"/>
<circle cx="323.32" cy="517.53" r="3.55"/>
<circle cx="340.73" cy="500.42" r="3.55"/>
<circle cx="339.91" cy="503.5" r="3.55"/>
<circle cx="349.64" cy="489.35" r="3.55"/>
<circle cx="324.5" cy="511.99" r="3.55"/>
<circle cx="334.02" cy="508.2" r="3.55"/>
<circle cx="326.7" cy="514" r="3.55"/>
<circle cx="335.89" cy="496.81" r="3.55"/>
<circle cx="326.74" cy="515.85" r="3.55"/>
<circle cx="342.52" cy="500.1" r="3.55"/>
<circle cx="339.13" cy="503.31" r="3.55"/>
<circle cx="324.09" cy="514.25" r="3.55"/>
<circle cx="339.76" cy="498.72" r="3.55"/>
<circle cx="329.06" cy="518.68" r="3.55"/>
<circle cx="327.81" cy="511.73" r="3.55"/>
<circle cx="336.56" cy="501.89" r="3.55"/>
<circle cx="331.29" cy="501.28" r="3.55"/>
<circle cx="340.67" cy="492.1" r="3.55"/>
<circle cx="335.22" cy="508.36" r="3.55"/>
<circle cx="330.88" cy="509.56" r="3.55"/>
<circle cx="327.24" cy="508.31" r="3.55"/>
<circle cx="333.9" cy="505.94" r="3.55"/>
<circle cx="326.41" cy="514.91" r="3.55"/>
<circle cx="330.68" cy="501.25" r="3.55"/>
<circle cx="327.54" cy="512.02" r="3.55"/>
<circle cx="335.97" cy="504.84" r="3.55"/>
<circle cx="326.07" cy="515.32" r="3.55"/>
<circle cx="329.52" cy="508.68" r="3.55"/>
<circle cx="329.3" cy="503.66" r="3.55"/>
<circle cx="336.78" cy="506.47" r="3.55"/>
<circle cx="338.19" cy="501.6" r="3.55"/>
<circle cx="329.21" cy="504.49" r="3.55"/>
<circle cx="348.17" cy="493.34" r="3.55"/>
<circle cx="326.29" cy="505.99" r="3.55"/>
<circle cx="355.65" cy="484.79" r="3.55"/>
<circle cx="328.24" cy="511.31" r="3.55"/>
<circle cx="341.33" cy="499.66" r="3.55"/>
<circle cx="331.82" cy="507.22" r="3.55"/>
<circle cx="328.18" cy="508.84" r="3.55"/>
<circle cx="338.12" cy="496.43" r="3.55"/>
<circle cx="332" cy="505.51" r="3.55"/>
<circle cx="328.96" cy="510.77" r="3.55"/>
<circle cx="336.9" cy="499.6" r="3.55"/>
<circle cx="327.46" cy="513.18" r="3.55"/>
<circle cx="328.4" cy="508.4" r="3.55"/>
<circle cx="329.69" cy="499.4" r="3.55"/>
<circle cx="327.21" cy="514.96" r="3.55"/>
<circle cx="332.57" cy="503.59" r="3.55"/>
<circle cx="337.85" cy="500.36" r="3.55"/>
<circle cx="331.53" cy="511.31" r="3.55"/>
<circle cx="326.45" cy="509.2" r="3.55"/>
<circle cx="339.11" cy="504.24" r="3.55"/>
<circle cx="336.43" cy="498.79" r="3.55"/>
<circle cx="326.95" cy="507.78" r="3.55"/>
<circle cx="330.06" cy="506.96" r="3.55"/>
<circle cx="327.43" cy="512.06" r="3.55"/>
<circle cx="329.85" cy="508.82" r="3.55"/>
<circle cx="330.07" cy="512.47" r="3.55"/>
<circle cx="328.27" cy="508.55" r="3.55"/>
<circle cx="324.85" cy="513.8" r="3.55"/>
<circle cx="340.21" cy="494.15" r="3.55"/>
<circle cx="325.99" cy="515.57" r="3.55"/>
<circle cx="340.08" cy="500.19" r="3.55"/>
<circle cx="329.78" cy="510.58" r="3.55"/>
<circle cx="333.76" cy="501.1" r="3.55"/>
<circle cx="334.33" cy="507.11" r="3.55"/>
<circle cx="325.22" cy="510.61" r="3.55"/>
<circle cx="328.8" cy="504.49" r="3.55"/>
<circle cx="323.62" cy="512.66" r="3.55"/>
<circle cx="334.92" cy="510.33" r="3.55"/>
<circle cx="333.95" cy="507.62" r="3.55"/>
<circle cx="335.37" cy="507.02" r="3.55"/>
<circle cx="329.99" cy="506.66" r="3.55"/>
<circle cx="330.54" cy="505.04" r="3.55"/>
<circle cx="344.04" cy="496.42" r="3.55"/>
<circle cx="326.6" cy="513.48" r="3.55"/>
<circle cx="337.21" cy="496.27" r="3.55"/>
<circle cx="327.61" cy="513.05" r="3.55"/>
<circle cx="334.7" cy="507.25" r="3.55"/>
<circle cx="339.25" cy="503.56" r="3.55"/>
<circle cx="333.33" cy="503.34" r="3.55"/>
<circle cx="348.58" cy="488.89" r="3.55"/>
<circle cx="340.23" cy="500.3" r="3.55"/>
<circle cx="355.43" cy="481.5" r="3.55"/>
<circle cx="343.62" cy="497.74" r="3.55"/>
<circle cx="338.29" cy="501.28" r="3.55"/>
<circle cx="345.45" cy="491.65" r="3.55"/>
<circle cx="335.08" cy="500.55" r="3.55"/>
<circle cx="332.25" cy="508.24" r="3.55"/>
<circle cx="334.59" cy="500.77" r="3.55"/>
<circle cx="333.14" cy="501.33" r="3.55"/>
<circle cx="328.94" cy="515.8" r="3.55"/>
<circle cx="347.54" cy="494.92" r="3.55"/>
<circle cx="336.6" cy="497.35" r="3.55"/>
<circle cx="329.85" cy="512.37" r="3.55"/>
<circle cx="328.8" cy="511.82" r="3.55"/>
<circle cx="332.07" cy="504.11" r="3.55"/>
<circle cx="354.01" cy="491.93" r="3.55"/>
<circle cx="370.56" cy="465.28" r="3.55"/>
<circle cx="335.21" cy="508.28" r="3.55"/>
<circle cx="336.87" cy="506.68" r="3.55"/>
<circle cx="332" cy="511.7" r="3.55"/>
<circle cx="329.69" cy="509.08" r="3.55"/>
<circle cx="342.53" cy="495.63" r="3.55"/>
<circle cx="339.6" cy="497.23" r="3.55"/>
<circle cx="332.26" cy="505.73" r="3.55"/>
<circle cx="343.68" cy="488.92" r="3.55"/>
<circle cx="339.57" cy="499.78" r="3.55"/>
<circle cx="332.88" cy="509.45" r="3.55"/>
<circle cx="337.21" cy="498.6" r="3.55"/>
<circle cx="337.09" cy="499.56" r="3.55"/>
<circle cx="363.39" cy="472.75" r="3.55"/>
<circle cx="334.92" cy="498.59" r="3.55"/>
<circle cx="349.06" cy="494.75" r="3.55"/>
<circle cx="347.02" cy="491.93" r="3.55"/>
<circle cx="341.2" cy="500.83" r="3.55"/>
<circle cx="347.9" cy="493.19" r="3.55"/>
<circle cx="337.65" cy="504.81" r="3.55"/>
<circle cx="329.13" cy="508.87" r="3.55"/>
<circle cx="349.72" cy="488" r="3.55"/>
<circle cx="329.44" cy="506.7" r="3.55"/>
<circle cx="345.53" cy="492.35" r="3.55"/>
<circle cx="326.58" cy="511.44" r="3.55"/>
<circle cx="329.44" cy="508.65" r="3.55"/>
<circle cx="335.94" cy="505.94" r="3.55"/>
<circle cx="330.48" cy="512.84" r="3.55"/>
<circle cx="329.46" cy="511.74" r="3.55"/>
<circle cx="326.82" cy="513.2" r="3.55"/>
<circle cx="328.64" cy="514.17" r="3.55"/>
<circle cx="335.68" cy="501.36" r="3.55"/>
<circle cx="345.16" cy="488.96" r="3.55"/>
<circle cx="326.38" cy="512.46" r="3.55"/>
<circle cx="331" cy="505.99" r="3.55"/>
<circle cx="341.77" cy="500.27" r="3.55"/>
<circle cx="334.08" cy="506.41" r="3.55"/>
<circle cx="326.73" cy="505.93" r="3.55"/>
<circle cx="329.6" cy="513.58" r="3.55"/>
<circle cx="350.75" cy="487.22" r="3.55"/>
<circle cx="329.52" cy="507.57" r="3.55"/>
<circle cx="332.45" cy="509.03" r="3.55"/>
<circle cx="340.38" cy="503.47" r="3.55"/>
<circle cx="330.51" cy="509.59" r="3.55"/>
<circle cx="362.31" cy="481.08" r="3.55"/>
<circle cx="345.72" cy="488.47" r="3.55"/>
<circle cx="360.16" cy="484.61" r="3.55"/>
<circle cx="338.26" cy="501.44" r="3.55"/>
<circle cx="335.55" cy="502.74" r="3.55"/>
<circle cx="329.77" cy="508.74" r="3.55"/>
<circle cx="334.11" cy="504.56" r="3.55"/>
<circle cx="333.46" cy="501.25" r="3.55"/>
<circle cx="326.79" cy="515.29" r="3.55"/>
<circle cx="342.49" cy="499.79" r="3.55"/>
<circle cx="331.03" cy="508.72" r="3.55"/>
<circle cx="325.19" cy="517.28" r="3.55"/>
<circle cx="327.21" cy="510.57" r="3.55"/>
<circle cx="336.31" cy="504.66" r="3.55"/>
<circle cx="347.07" cy="489.95" r="3.55"/>
<circle cx="332.03" cy="501.99" r="3.55"/>
<circle cx="339.25" cy="500.46" r="3.55"/>
<circle cx="335.25" cy="499.88" r="3.55"/>
<circle cx="340.19" cy="505.46" r="3.55"/>
<circle cx="325.74" cy="511.99" r="3.55"/>
<circle cx="332.92" cy="510.36" r="3.55"/>
<circle cx="339.63" cy="503.79" r="3.55"/>
<circle cx="333.24" cy="504.85" r="3.55"/>
<circle cx="328.81" cy="509.69" r="3.55"/>
<circle cx="336.34" cy="502.72" r="3.55"/>
<circle cx="335.59" cy="505.54" r="3.55"/>
<circle cx="332.77" cy="502.85" r="3.55"/>
<circle cx="343.24" cy="494.86" r="3.55"/>
<circle cx="329.5" cy="511.98" r="3.55"/>
<circle cx="332.69" cy="508.36" r="3.55"/>
<circle cx="326.32" cy="512.49" r="3.55"/>
<circle cx="325.98" cy="509.32" r="3.55"/>
<circle cx="338.35" cy="494.89" r="3.55"/>
<circle cx="323.38" cy="515.32" r="3.55"/>
<circle cx="340.9" cy="498.28" r="3.55"/>
<circle cx="344.9" cy="492.45" r="3.55"/>
<circle cx="340.95" cy="502.28" r="3.55"/>
<circle cx="327.81" cy="511.13" r="3.55"/>
<circle cx="337.57" cy="504.14" r="3.55"/>
<circle cx="332.91" cy="499.94" r="3.55"/>
<circle cx="338.2" cy="498.64" r="3.55"/>
<circle cx="336.44" cy="503.89" r="3.55"/>
<circle cx="338.83" cy="492.65" r="3.55"/>
<circle cx="338.19" cy="498.83" r="3.55"/>
<circle cx="326.48" cy="512.09" r="3.55"/>
<circle cx="344.19" cy="493.37" r="3.55"/>
<circle cx="333.33" cy="505.14" r="3.55"/>
<circle cx="355.23" cy="489.12" r="3.55"/>
<circle cx="328.34" cy="509.29" r="3.55"/>
<circle cx="349.27" cy="489.37" r="3.55"/>
<circle cx="328.68" cy="508.01" r="3.55"/>
<circle cx="325.51" cy="515.76" r="3.55"/>
<circle cx="326.99" cy="514.26" r="3.55"/>
<circle cx="341.43" cy="500.37" r="3.55"/>
<circle cx="337.25" cy="502.51" r="3.55"/>
<circle cx="327.11" cy="515" r="3.55"/>
<circle cx="334.93" cy="508.98" r="3.55"/>
<circle cx="334.89" cy="501.57" r="3.55"/>
<circle cx="326.49" cy="505.58" r="3.55"/>
<circle cx="329.43" cy="508.39" r="3.55"/>
<circle cx="334.48" cy="505.94" r="3.55"/>
<circle cx="342.2" cy="500.81" r="3.55"/>
<circle cx="363.52" cy="478.8" r="3.55"/>
<circle cx="327.68" cy="509.33" r="3.55"/>
<circle cx="332.08" cy="511.44" r="3.55"/>
<circle cx="327.65" cy="512.25" r="3.55"/>
<circle cx="342.31" cy="503.2" r="3.55"/>
<circle cx="337.62" cy="500.78" r="3.55"/>
<circle cx="340.26" cy="497.18" r="3.55"/>
<circle cx="327.42" cy="508.33" r="3.55"/>
<circle cx="348.39" cy="488.74" r="3.55"/>
<circle cx="327.21" cy="512.56" r="3.55"/>
<circle cx="336.37" cy="500.81" r="3.55"/>
<circle cx="332.52" cy="501.42" r="3.55"/>
<circle cx="326.73" cy="510.73" r="3.55"/>
<circle cx="329.97" cy="515.47" r="3.55"/>
<circle cx="347.57" cy="494.08" r="3.55"/>
<circle cx="327.86" cy="511.77" r="3.55"/>
<circle cx="324.56" cy="517.07" r="3.55"/>
<circle cx="342.86" cy="492.7" r="3.55"/>
<circle cx="333.76" cy="507.99" r="3.55"/>
<circle cx="326.1" cy="511.7" r="3.55"/>
<circle cx="341.46" cy="501.6" r="3.55"/>
<circle cx="331.73" cy="505.3" r="3.55"/>
<circle cx="334.24" cy="503.81" r="3.55"/>
<circle cx="333.85" cy="506.18" r="3.55"/>
<circle cx="334.59" cy="503.75" r="3.55"/>
<circle cx="331.76" cy="503.81" r="3.55"/>
<circle cx="324.75" cy="513.18" r="3.55"/>
<circle cx="336.22" cy="509.93" r="3.55"/>
<circle cx="348.58" cy="493.51" r="3.55"/>
<circle cx="332.16" cy="502.8" r="3.55"/>
<circle cx="342.75" cy="494.65" r="3.55"/>
<circle cx="327.74" cy="513.08" r="3.55"/>
<circle cx="332.23" cy="508.68" r="3.55"/>
<circle cx="325.96" cy="508.26" r="3.55"/>
<circle cx="336.82" cy="503.38" r="3.55"/>
<circle cx="349.89" cy="491" r="3.55"/>
<circle cx="331.86" cy="508.31" r="3.55"/>
<circle cx="330.84" cy="508.56" r="3.55"/>
<circle cx="327.51" cy="510.32" r="3.55"/>
<circle cx="352.97" cy="483.64" r="3.55"/>
<circle cx="347.24" cy="490.24" r="3.55"/>
<circle cx="341.46" cy="497.47" r="3.55"/>
<circle cx="342.2" cy="496.35" r="3.55"/>
<circle cx="339.29" cy="501.47" r="3.55"/>
<circle cx="357.09" cy="483.83" r="3.55"/>
<circle cx="363.4" cy="473.82" r="3.55"/>
<circle cx="352.32" cy="485.51" r="3.55"/>
<circle cx="354.41" cy="482.59" r="3.55"/>
<circle cx="342.15" cy="497.55" r="3.55"/>
<circle cx="343.59" cy="493.56" r="3.55"/>
<circle cx="353.45" cy="485.47" r="3.55"/>
<circle cx="367.33" cy="470.02" r="3.55"/>
<circle cx="349.52" cy="491.4" r="3.55"/>
<circle cx="338.75" cy="500.3" r="3.55"/>
<circle cx="342.75" cy="499.27" r="3.55"/>
<circle cx="362.99" cy="477.1" r="3.55"/>
<circle cx="340.32" cy="503.06" r="3.55"/>
<circle cx="346" cy="491.65" r="3.55"/>
<circle cx="354.74" cy="486.26" r="3.55"/>
<circle cx="363.15" cy="479.25" r="3.55"/>
<circle cx="361.43" cy="478.74" r="3.55"/>
<circle cx="345.22" cy="493.88" r="3.55"/>
<circle cx="342.11" cy="495.77" r="3.55"/>
<circle cx="351.59" cy="492.49" r="3.55"/>
<circle cx="339.7" cy="496.46" r="3.55"/>
<circle cx="349.59" cy="492.17" r="3.55"/>
<circle cx="346.08" cy="493.96" r="3.55"/>
<circle cx="355.78" cy="486.58" r="3.55"/>
<circle cx="342.17" cy="491.78" r="3.55"/>
<circle cx="340.35" cy="499.89" r="3.55"/>
<circle cx="359.69" cy="482.56" r="3.55"/>
<circle cx="341.4" cy="500.33" r="3.55"/>
<circle cx="359.69" cy="482.82" r="3.55"/>
<circle cx="356.2" cy="482.17" r="3.55"/>
<circle cx="364.59" cy="473.93" r="3.55"/>
<circle cx="356.11" cy="485.82" r="3.55"/>
<circle cx="348.2" cy="496.22" r="3.55"/>
<circle cx="342.52" cy="497.61" r="3.55"/>
<circle cx="371.87" cy="469.16" r="3.55"/>
<circle cx="348.71" cy="489.54" r="3.55"/>
<circle cx="360.72" cy="480.34" r="3.55"/>
<circle cx="338.54" cy="501.41" r="3.55"/>
<circle cx="357.3" cy="482.66" r="3.55"/>
<circle cx="338.45" cy="502.64" r="3.55"/>
<circle cx="340.54" cy="497.13" r="3.55"/>
<circle cx="349.34" cy="488.93" r="3.55"/>
<circle cx="347.24" cy="492.25" r="3.55"/>
<circle cx="339.28" cy="500.83" r="3.55"/>
<circle cx="347.63" cy="490.62" r="3.55"/>
<circle cx="351.69" cy="488.48" r="3.55"/>
<circle cx="345.81" cy="493.41" r="3.55"/>
<circle cx="354.51" cy="482.45" r="3.55"/>
<circle cx="340.21" cy="499.73" r="3.55"/>
<circle cx="359.86" cy="482.19" r="3.55"/>
<circle cx="342.55" cy="498.02" r="3.55"/>
<circle cx="349.9" cy="490.17" r="3.55"/>
<circle cx="354.8" cy="488.82" r="3.55"/>
<circle cx="343.43" cy="499.3" r="3.55"/>
<circle cx="341.31" cy="500.04" r="3.55"/>
<circle cx="342.12" cy="497.41" r="3.55"/>
<circle cx="360.45" cy="481.43" r="3.55"/>
<circle cx="367.66" cy="470.92" r="3.55"/>
<circle cx="343.46" cy="495.4" r="3.55"/>
<circle cx="340.55" cy="501.89" r="3.55"/>
<circle cx="355.59" cy="486.13" r="3.55"/>
<circle cx="339.83" cy="500.35" r="3.55"/>
<circle cx="360.32" cy="478.99" r="3.55"/>
<circle cx="364.38" cy="475.25" r="3.55"/>
<circle cx="348.65" cy="490.24" r="3.55"/>
<circle cx="351.4" cy="486.34" r="3.55"/>
<circle cx="343.38" cy="496.48" r="3.55"/>
<circle cx="351.26" cy="486.18" r="3.55"/>
<circle cx="365.15" cy="474.7" r="3.55"/>
<circle cx="351.98" cy="490.85" r="3.55"/>
<circle cx="345.15" cy="495.5" r="3.55"/>
<circle cx="358.19" cy="482.05" r="3.55"/>
<circle cx="352.56" cy="487.4" r="3.55"/>
<circle cx="340.27" cy="504.39" r="3.55"/>
<circle cx="338.98" cy="502.08" r="3.55"/>
<circle cx="487.62" cy="371.3" r="3.55"/>
<circle cx="458.71" cy="409.25" r="3.55"/>
<circle cx="458.71" cy="434.7" r="3.55"/>
<circle cx="325.76" cy="433.1" r="3.55"/>
<circle cx="346.6" cy="439.93" r="3.55"/>
<circle cx="427.02" cy="424.96" r="3.55"/>
<circle cx="425.26" cy="424.96" r="3.55"/>
<circle cx="420.85" cy="423.21" r="3.55"/>
<circle cx="415.13" cy="433.1" r="3.55"/>
<circle cx="411.31" cy="433.53" r="3.55"/>
<circle cx="406.91" cy="435.28" r="3.55"/>
<circle cx="405.88" cy="447.06" r="3.55"/>
<circle cx="403.54" cy="439.06" r="3.55"/>
<circle cx="400.31" cy="444.15" r="3.55"/>
<circle cx="394.29" cy="439.06" r="3.55"/>
<circle cx="390.77" cy="443.42" r="3.55"/>
<circle cx="388.13" cy="448.51" r="3.55"/>
<circle cx="384.9" cy="451.27" r="3.55"/>
<circle cx="374.19" cy="450.98" r="3.55"/>
<circle cx="371.55" cy="459.56" r="3.55"/>
<circle cx="377.12" cy="457.38" r="3.55"/>
<circle cx="381.52" cy="457.38" r="3.55"/>
<circle cx="376.39" cy="469.16" r="3.55"/>
<circle cx="373.75" cy="462.91" r="3.55"/>
<circle cx="353.94" cy="469.59" r="3.55"/>
<circle cx="330.75" cy="481.66" r="3.55"/>
<circle cx="334.42" cy="487.19" r="3.55"/>
<circle cx="321.36" cy="497.22" r="3.55"/>
<circle cx="315.63" cy="501.58" r="3.55"/>
<circle cx="315.63" cy="507.11" r="3.55"/>
<circle cx="379.47" cy="460.72" r="3.55"/>
<circle cx="378" cy="463.63" r="3.55"/>
<circle cx="372.13" cy="466.54" r="3.55"/>
<circle cx="322.24" cy="524.7" r="3.55"/>
<circle cx="323.41" cy="524.7" r="3.55"/>
<circle cx="324.59" cy="524.7" r="3.55"/>
<circle cx="325.76" cy="524.7" r="3.55"/>
<circle cx="326.93" cy="524.7" r="3.55"/>
<circle cx="328.11" cy="524.7" r="3.55"/>
<circle cx="329.28" cy="524.7" r="3.55"/>
<circle cx="330.46" cy="524.7" r="3.55"/>
<circle cx="331.63" cy="524.7" r="3.55"/>
<circle cx="332.8" cy="524.7" r="3.55"/>
<circle cx="333.98" cy="524.7" r="3.55"/>
<circle cx="335.15" cy="524.7" r="3.55"/>
<circle cx="336.33" cy="524.7" r="3.55"/>
<circle cx="337.5" cy="524.7" r="3.55"/>
<circle cx="338.67" cy="524.7" r="3.55"/>
<circle cx="339.85" cy="524.7" r="3.55"/>
<circle cx="341.31" cy="524.7" r="3.55"/>
<circle cx="342.78" cy="524.7" r="3.55"/>
<circle cx="344.25" cy="524.7" r="3.55"/>
<circle cx="324" cy="524.7" r="3.55"/>
<circle cx="325.17" cy="524.7" r="3.55"/>
<circle cx="326.35" cy="524.7" r="3.55"/>
<circle cx="327.52" cy="524.7" r="3.55"/>
<circle cx="328.69" cy="524.7" r="3.55"/>
<circle cx="350.85" cy="524.7" r="3.55"/>
<circle cx="353.5" cy="524.7" r="3.55"/>
<circle cx="329.87" cy="524.7" r="3.55"/>
<circle cx="331.04" cy="524.7" r="3.55"/>
</g>
<path d="M314.9 524.7L488.06 353.13" stroke="#1c1c1c" stroke-width="2" stroke-dasharray="6.3 3.1" fill="none"/>
</g>
<g font-family='"Liberation Serif", "Times New Roman", serif' fill="#161616" stroke="#161616" stroke-width="0.42">
<text x="318.3" y="358.7" font-size="16.5" font-style="italic" textLength="10.6" lengthAdjust="spacingAndGlyphs">V</text>
<text x="327.7" y="360.6" font-size="11.5">2</text>
<text x="318.4" y="378.2" font-size="16.5" textLength="11.6" lengthAdjust="spacingAndGlyphs">R</text>
<text x="330.6" y="371.9" font-size="11">2</text>
<text x="341.1" y="378.2" font-size="16.5" textLength="11.8" lengthAdjust="spacingAndGlyphs">=</text>
<text x="357.7" y="378.2" font-size="16.5" textLength="35.2" lengthAdjust="spacingAndGlyphs">0.781</text>
</g>
</g>
<g id="p7">
<rect x="556.1" y="337.2" width="191.3" height="190.6" fill="#e5e5e5"/>
<path d="M560.9 337.2V527.8M556.1 522.2H747.4M618.7 337.2V527.8M556.1 464.7H747.4M676.5 337.2V527.8M556.1 407.2H747.4M734.3 337.2V527.8M556.1 349.7H747.4" stroke="#fff" stroke-width="1.3" fill="none"/>
<path d="M560.9 529.4v5.6M554.3 522.2h-5M618.7 529.4v5.6M554.3 464.7h-5M676.5 529.4v5.6M554.3 407.2h-5M734.3 529.4v5.6M554.3 349.7h-5" stroke="#4a4a4a" stroke-width="1.1" fill="none"/>
<g font-family='"Liberation Sans", Arial, Helvetica, sans-serif' font-size="12.3" fill="#555555">
<text x="560.9" y="550.1" text-anchor="middle">0</text>
<text x="543.1" y="526.7" text-anchor="end">0</text>
<text x="618.7" y="550.1" text-anchor="middle">20</text>
<text x="543.1" y="469.2" text-anchor="end">20</text>
<text x="676.5" y="550.1" text-anchor="middle">40</text>
<text x="543.1" y="411.7" text-anchor="end">40</text>
<text x="734.3" y="550.1" text-anchor="middle">60</text>
<text x="543.1" y="354.2" text-anchor="end">60</text>
</g>
<clipPath id="cp7"><rect x="556.1" y="337.2" width="191.3" height="190.6"/></clipPath>
<g clip-path="url(#cp7)"><g fill="#cd5c5c" fill-opacity="0.36" stroke="#cd5c5c" stroke-opacity="0.18" stroke-width="0.7">
<circle cx="584.31" cy="495.15" r="3.55"/>
<circle cx="578.9" cy="495.41" r="3.55"/>
<circle cx="584.66" cy="496.38" r="3.55"/>
<circle cx="573.1" cy="509.92" r="3.55"/>
<circle cx="572.17" cy="511.22" r="3.55"/>
<circle cx="597.92" cy="483.85" r="3.55"/>
<circle cx="576.48" cy="506.73" r="3.55"/>
<circle cx="584.34" cy="497.73" r="3.55"/>
<circle cx="573.12" cy="512.11" r="3.55"/>
<circle cx="573.27" cy="508.46" r="3.55"/>
<circle cx="570.9" cy="510.61" r="3.55"/>
<circle cx="573.56" cy="507.91" r="3.55"/>
<circle cx="583.1" cy="497.16" r="3.55"/>
<circle cx="585.78" cy="501.53" r="3.55"/>
<circle cx="577.78" cy="505.41" r="3.55"/>
<circle cx="590.96" cy="494.26" r="3.55"/>
<circle cx="592.86" cy="490.37" r="3.55"/>
<circle cx="582.37" cy="500.09" r="3.55"/>
<circle cx="575.35" cy="507.88" r="3.55"/>
<circle cx="574.71" cy="504.95" r="3.55"/>
<circle cx="583.73" cy="495.81" r="3.55"/>
<circle cx="578.56" cy="503.2" r="3.55"/>
<circle cx="582.03" cy="496.3" r="3.55"/>
<circle cx="581.97" cy="507.42" r="3.55"/>
<circle cx="588.27" cy="493.51" r="3.55"/>
<circle cx="578.07" cy="506.07" r="3.55"/>
<circle cx="577.89" cy="500.9" r="3.55"/>
<circle cx="580.15" cy="493.39" r="3.55"/>
<circle cx="576.56" cy="507.57" r="3.55"/>
<circle cx="571.33" cy="511.79" r="3.55"/>
<circle cx="583.85" cy="501.56" r="3.55"/>
<circle cx="573.33" cy="511.53" r="3.55"/>
<circle cx="580.61" cy="499.03" r="3.55"/>
<circle cx="574.08" cy="508.95" r="3.55"/>
<circle cx="584.68" cy="499.57" r="3.55"/>
<circle cx="576.94" cy="505.5" r="3.55"/>
<circle cx="584.4" cy="493.11" r="3.55"/>
<circle cx="582.2" cy="497.91" r="3.55"/>
<circle cx="591.74" cy="496.67" r="3.55"/>
<circle cx="579.97" cy="501.85" r="3.55"/>
<circle cx="574.57" cy="509.26" r="3.55"/>
<circle cx="578.04" cy="502.39" r="3.55"/>
<circle cx="575.26" cy="507.83" r="3.55"/>
<circle cx="586.94" cy="495" r="3.55"/>
<circle cx="600.41" cy="484.91" r="3.55"/>
<circle cx="582.08" cy="498.37" r="3.55"/>
<circle cx="582.2" cy="505.15" r="3.55"/>
<circle cx="579.45" cy="501.64" r="3.55"/>
<circle cx="574.28" cy="511.28" r="3.55"/>
<circle cx="580.15" cy="505.04" r="3.55"/>
<circle cx="571.13" cy="509.64" r="3.55"/>
<circle cx="582.4" cy="501.64" r="3.55"/>
<circle cx="572.14" cy="512.63" r="3.55"/>
<circle cx="595.93" cy="489.63" r="3.55"/>
<circle cx="580.44" cy="503.63" r="3.55"/>
<circle cx="580.49" cy="499.69" r="3.55"/>
<circle cx="570.09" cy="505.78" r="3.55"/>
<circle cx="576.56" cy="505.93" r="3.55"/>
<circle cx="579.68" cy="498.77" r="3.55"/>
<circle cx="571.04" cy="515.21" r="3.55"/>
<circle cx="583.36" cy="500.01" r="3.55"/>
<circle cx="581.22" cy="505.12" r="3.55"/>
<circle cx="572.92" cy="516.77" r="3.55"/>
<circle cx="576.51" cy="503.51" r="3.55"/>
<circle cx="574.97" cy="510.24" r="3.55"/>
<circle cx="599.45" cy="480.31" r="3.55"/>
<circle cx="575.61" cy="501.85" r="3.55"/>
<circle cx="579.37" cy="501.99" r="3.55"/>
<circle cx="578.07" cy="501.62" r="3.55"/>
<circle cx="584.4" cy="498.91" r="3.55"/>
<circle cx="570.23" cy="512.14" r="3.55"/>
<circle cx="591.48" cy="485.03" r="3.55"/>
<circle cx="583.18" cy="503" r="3.55"/>
<circle cx="572.6" cy="503.48" r="3.55"/>
<circle cx="596.56" cy="486.58" r="3.55"/>
<circle cx="588.53" cy="500.15" r="3.55"/>
<circle cx="575.06" cy="507.19" r="3.55"/>
<circle cx="578.82" cy="505.64" r="3.55"/>
<circle cx="575.7" cy="504" r="3.55"/>
<circle cx="578.53" cy="506.56" r="3.55"/>
<circle cx="583.88" cy="500.03" r="3.55"/>
<circle cx="575.41" cy="502.91" r="3.55"/>
<circle cx="585.58" cy="496.9" r="3.55"/>
<circle cx="580.15" cy="504.75" r="3.55"/>
<circle cx="577.17" cy="511.56" r="3.55"/>
<circle cx="586.42" cy="495.46" r="3.55"/>
<circle cx="571.33" cy="505.04" r="3.55"/>
<circle cx="572.86" cy="511.33" r="3.55"/>
<circle cx="582.2" cy="500.38" r="3.55"/>
<circle cx="571.04" cy="515.24" r="3.55"/>
<circle cx="571.82" cy="508.34" r="3.55"/>
<circle cx="576.07" cy="508.23" r="3.55"/>
<circle cx="589.8" cy="489.97" r="3.55"/>
<circle cx="574.95" cy="506.13" r="3.55"/>
<circle cx="572.43" cy="509.52" r="3.55"/>
<circle cx="576.45" cy="507.62" r="3.55"/>
<circle cx="590.06" cy="495.78" r="3.55"/>
<circle cx="576.16" cy="512.08" r="3.55"/>
<circle cx="584.16" cy="498.88" r="3.55"/>
<circle cx="583.38" cy="491.67" r="3.55"/>
<circle cx="585" cy="498.6" r="3.55"/>
<circle cx="576.53" cy="506.24" r="3.55"/>
<circle cx="594.31" cy="494.74" r="3.55"/>
<circle cx="591.48" cy="486.09" r="3.55"/>
<circle cx="583.41" cy="500.24" r="3.55"/>
<circle cx="574.83" cy="505.64" r="3.55"/>
<circle cx="579.51" cy="507.97" r="3.55"/>
<circle cx="574.31" cy="507.88" r="3.55"/>
<circle cx="585.75" cy="498.14" r="3.55"/>
<circle cx="573.96" cy="505.96" r="3.55"/>
<circle cx="572.17" cy="503.77" r="3.55"/>
<circle cx="574.97" cy="502.28" r="3.55"/>
<circle cx="573.9" cy="505.27" r="3.55"/>
<circle cx="578.38" cy="503.17" r="3.55"/>
<circle cx="573.88" cy="507.62" r="3.55"/>
<circle cx="577" cy="498.19" r="3.55"/>
<circle cx="577.32" cy="501.21" r="3.55"/>
<circle cx="571.77" cy="509.69" r="3.55"/>
<circle cx="572.23" cy="514.04" r="3.55"/>
<circle cx="590.52" cy="490.46" r="3.55"/>
<circle cx="575.75" cy="507.11" r="3.55"/>
<circle cx="579.57" cy="501.62" r="3.55"/>
<circle cx="592.34" cy="477.47" r="3.55"/>
<circle cx="579.11" cy="502.51" r="3.55"/>
<circle cx="580.84" cy="496.38" r="3.55"/>
<circle cx="572.98" cy="503.51" r="3.55"/>
<circle cx="576.77" cy="506.5" r="3.55"/>
<circle cx="576.56" cy="507.88" r="3.55"/>
<circle cx="574.08" cy="508.6" r="3.55"/>
<circle cx="580.29" cy="500.09" r="3.55"/>
<circle cx="573.82" cy="504.15" r="3.55"/>
<circle cx="572.37" cy="514.81" r="3.55"/>
<circle cx="578.33" cy="504.81" r="3.55"/>
<circle cx="573.33" cy="508.31" r="3.55"/>
<circle cx="571.51" cy="515.96" r="3.55"/>
<circle cx="573.5" cy="510.13" r="3.55"/>
<circle cx="590.87" cy="491.41" r="3.55"/>
<circle cx="592.86" cy="489.22" r="3.55"/>
<circle cx="577.34" cy="509.9" r="3.55"/>
<circle cx="580.32" cy="506.27" r="3.55"/>
<circle cx="578.3" cy="503.8" r="3.55"/>
<circle cx="574.95" cy="509.61" r="3.55"/>
<circle cx="572.08" cy="511.3" r="3.55"/>
<circle cx="574.02" cy="505.99" r="3.55"/>
<circle cx="577" cy="500.47" r="3.55"/>
<circle cx="573.56" cy="503" r="3.55"/>
<circle cx="581.04" cy="503.71" r="3.55"/>
<circle cx="577.06" cy="508.2" r="3.55"/>
<circle cx="578.01" cy="503.2" r="3.55"/>
<circle cx="573.99" cy="504.98" r="3.55"/>
<circle cx="572.63" cy="514.35" r="3.55"/>
<circle cx="574.92" cy="514.7" r="3.55"/>
<circle cx="577.75" cy="507.05" r="3.55"/>
<circle cx="575.49" cy="507.34" r="3.55"/>
<circle cx="590.26" cy="490.03" r="3.55"/>
<circle cx="581.65" cy="502.39" r="3.55"/>
<circle cx="580.7" cy="499.06" r="3.55"/>
<circle cx="575.18" cy="505.55" r="3.55"/>
<circle cx="576.77" cy="508" r="3.55"/>
<circle cx="578.56" cy="508.26" r="3.55"/>
<circle cx="586.19" cy="496.07" r="3.55"/>
<circle cx="570.12" cy="511.71" r="3.55"/>
<circle cx="570.87" cy="508.89" r="3.55"/>
<circle cx="577.37" cy="503.8" r="3.55"/>
<circle cx="576.68" cy="507.14" r="3.55"/>
<circle cx="578.44" cy="510.07" r="3.55"/>
<circle cx="576.97" cy="501.87" r="3.55"/>
<circle cx="571.1" cy="510.5" r="3.55"/>
<circle cx="582.46" cy="504.17" r="3.55"/>
<circle cx="585.03" cy="493.8" r="3.55"/>
<circle cx="601.04" cy="483.65" r="3.55"/>
<circle cx="601.48" cy="479.71" r="3.55"/>
<circle cx="584.31" cy="497.16" r="3.55"/>
<circle cx="597.66" cy="484.22" r="3.55"/>
<circle cx="587.26" cy="490.81" r="3.55"/>
<circle cx="598.59" cy="486.67" r="3.55"/>
<circle cx="586.13" cy="494.08" r="3.55"/>
<circle cx="594.63" cy="490.4" r="3.55"/>
<circle cx="586.77" cy="495.2" r="3.55"/>
<circle cx="600.87" cy="490.52" r="3.55"/>
<circle cx="597.81" cy="487.36" r="3.55"/>
<circle cx="599.19" cy="482.58" r="3.55"/>
<circle cx="589.89" cy="490.66" r="3.55"/>
<circle cx="590.2" cy="493.36" r="3.55"/>
<circle cx="588.09" cy="498.37" r="3.55"/>
<circle cx="586.79" cy="493.59" r="3.55"/>
<circle cx="590.78" cy="487.79" r="3.55"/>
<circle cx="585.44" cy="503.25" r="3.55"/>
<circle cx="594.19" cy="488.91" r="3.55"/>
<circle cx="600.55" cy="481.38" r="3.55"/>
<circle cx="589.89" cy="492.27" r="3.55"/>
<circle cx="597.14" cy="490.49" r="3.55"/>
<circle cx="699.33" cy="353.15" r="3.55"/>
<circle cx="693.84" cy="376.73" r="3.55"/>
<circle cx="674.48" cy="399.44" r="3.55"/>
<circle cx="693.26" cy="404.04" r="3.55"/>
<circle cx="715.23" cy="404.33" r="3.55"/>
<circle cx="713.78" cy="424.74" r="3.55"/>
<circle cx="682.86" cy="407.78" r="3.55"/>
<circle cx="667.25" cy="406.91" r="3.55"/>
<circle cx="655.98" cy="407.78" r="3.55"/>
<circle cx="643.84" cy="407.78" r="3.55"/>
<circle cx="644.71" cy="422.15" r="3.55"/>
<circle cx="638.93" cy="425.31" r="3.55"/>
<circle cx="643.26" cy="426.46" r="3.55"/>
<circle cx="685.17" cy="431.93" r="3.55"/>
<circle cx="689.5" cy="433.65" r="3.55"/>
<circle cx="668.12" cy="433.65" r="3.55"/>
<circle cx="631.13" cy="441.99" r="3.55"/>
<circle cx="634.31" cy="442.56" r="3.55"/>
<circle cx="648.76" cy="443.43" r="3.55"/>
<circle cx="651.65" cy="442.28" r="3.55"/>
<circle cx="650.2" cy="444" r="3.55"/>
<circle cx="640.09" cy="451.76" r="3.55"/>
<circle cx="629.97" cy="455.5" r="3.55"/>
<circle cx="618.41" cy="455.5" r="3.55"/>
<circle cx="612.92" cy="459.24" r="3.55"/>
<circle cx="619.57" cy="458.38" r="3.55"/>
<circle cx="651.65" cy="464.13" r="3.55"/>
<circle cx="653.09" cy="481.95" r="3.55"/>
<circle cx="640.38" cy="476.2" r="3.55"/>
<circle cx="630.55" cy="469.01" r="3.55"/>
<circle cx="627.08" cy="475.05" r="3.55"/>
<circle cx="623.9" cy="471.03" r="3.55"/>
<circle cx="617.83" cy="475.05" r="3.55"/>
<circle cx="614.65" cy="482.24" r="3.55"/>
<circle cx="618.99" cy="466.14" r="3.55"/>
<circle cx="605.98" cy="464.7" r="3.55"/>
<circle cx="599.34" cy="470.16" r="3.55"/>
<circle cx="581.71" cy="457.51" r="3.55"/>
<circle cx="573.33" cy="462.4" r="3.55"/>
<circle cx="575.35" cy="475.34" r="3.55"/>
<circle cx="584.31" cy="473.9" r="3.55"/>
<circle cx="589.8" cy="472.75" r="3.55"/>
<circle cx="586.33" cy="479.36" r="3.55"/>
<circle cx="623.9" cy="504.38" r="3.55"/>
<circle cx="577.95" cy="518.18" r="3.55"/>
<circle cx="596.74" cy="508.11" r="3.55"/>
<circle cx="608.59" cy="471.89" r="3.55"/>
<circle cx="611.48" cy="467.58" r="3.55"/>
<circle cx="615.81" cy="463.26" r="3.55"/>
<circle cx="602.8" cy="477.64" r="3.55"/>
<circle cx="605.69" cy="474.76" r="3.55"/>
<circle cx="600.78" cy="481.95" r="3.55"/>
<circle cx="613.5" cy="481.66" r="3.55"/>
<circle cx="612.34" cy="483.1" r="3.55"/>
<circle cx="624.48" cy="464.7" r="3.55"/>
<circle cx="627.37" cy="467.58" r="3.55"/>
</g>
<path d="M560.9 522.2L731.41 352.58" stroke="#1c1c1c" stroke-width="2" stroke-dasharray="6.3 3.1" fill="none"/>
</g>
<g font-family='"Liberation Serif", "Times New Roman", serif' fill="#161616" stroke="#161616" stroke-width="0.42">
<text x="563.4" y="359.3" font-size="16.5" font-style="italic" textLength="10.6" lengthAdjust="spacingAndGlyphs">V</text>
<text x="572.8" y="361.2" font-size="11.5">1</text>
<text x="563.5" y="379.2" font-size="16.5" textLength="11.6" lengthAdjust="spacingAndGlyphs">R</text>
<text x="575.7" y="372.9" font-size="11">2</text>
<text x="586.2" y="379.2" font-size="16.5" textLength="11.8" lengthAdjust="spacingAndGlyphs">=</text>
<text x="602.8" y="379.2" font-size="16.5" textLength="35.2" lengthAdjust="spacingAndGlyphs">0.860</text>
</g>
</g>
<g id="p8">
<rect x="803" y="337.2" width="191.3" height="190.6" fill="#e5e5e5"/>
<path d="M805.4 337.2V527.8M803 524.6H994.3M867.1 337.2V527.8M803 463.4H994.3M928.8 337.2V527.8M803 402.2H994.3M990.5 337.2V527.8M803 341H994.3" stroke="#fff" stroke-width="1.3" fill="none"/>
<path d="M805.4 529.4v5.6M801.2 524.6h-5M867.1 529.4v5.6M801.2 463.4h-5M928.8 529.4v5.6M801.2 402.2h-5M990.5 529.4v5.6M801.2 341h-5" stroke="#4a4a4a" stroke-width="1.1" fill="none"/>
<g font-family='"Liberation Sans", Arial, Helvetica, sans-serif' font-size="12.3" fill="#555555">
<text x="805.4" y="550.1" text-anchor="middle">0</text>
<text x="790" y="529.1" text-anchor="end">0</text>
<text x="867.1" y="550.1" text-anchor="middle">40</text>
<text x="790" y="467.9" text-anchor="end">40</text>
<text x="928.8" y="550.1" text-anchor="middle">80</text>
<text x="790" y="406.7" text-anchor="end">80</text>
<text x="990.5" y="550.1" text-anchor="middle">120</text>
<text x="790" y="345.5" text-anchor="end">120</text>
</g>
<clipPath id="cp8"><rect x="803" y="337.2" width="191.3" height="190.6"/></clipPath>
<g clip-path="url(#cp8)"><g fill="#6495ed" fill-opacity="0.45" stroke="#6495ed" stroke-opacity="0.23" stroke-width="0.7">
<circle cx="819.04" cy="514.64" r="3.55"/>
<circle cx="821.64" cy="507.22" r="3.55"/>
<circle cx="818.02" cy="510.94" r="3.55"/>
<circle cx="828.97" cy="502" r="3.55"/>
<circle cx="826.39" cy="495.16" r="3.55"/>
<circle cx="830.16" cy="497.41" r="3.55"/>
<circle cx="846.91" cy="483.93" r="3.55"/>
<circle cx="820.62" cy="502.68" r="3.55"/>
<circle cx="832.07" cy="497.86" r="3.55"/>
<circle cx="825.25" cy="495.27" r="3.55"/>
<circle cx="828.46" cy="504.08" r="3.55"/>
<circle cx="839.09" cy="493.37" r="3.55"/>
<circle cx="823.43" cy="505.54" r="3.55"/>
<circle cx="823.89" cy="510.8" r="3.55"/>
<circle cx="842.61" cy="491.18" r="3.55"/>
<circle cx="821.21" cy="504.27" r="3.55"/>
<circle cx="828.51" cy="497.38" r="3.55"/>
<circle cx="839.61" cy="489.9" r="3.55"/>
<circle cx="814.86" cy="511.72" r="3.55"/>
<circle cx="820.01" cy="514.58" r="3.55"/>
<circle cx="826.35" cy="501.96" r="3.55"/>
<circle cx="815.07" cy="516.75" r="3.55"/>
<circle cx="831.55" cy="497.01" r="3.55"/>
<circle cx="823.74" cy="503.1" r="3.55"/>
<circle cx="824.28" cy="496.82" r="3.55"/>
<circle cx="843.78" cy="489.49" r="3.55"/>
<circle cx="834.61" cy="489.88" r="3.55"/>
<circle cx="821.53" cy="509.93" r="3.55"/>
<circle cx="829.36" cy="501.48" r="3.55"/>
<circle cx="820.29" cy="510.94" r="3.55"/>
<circle cx="828.31" cy="500.73" r="3.55"/>
<circle cx="819.33" cy="509.09" r="3.55"/>
<circle cx="822.18" cy="506.13" r="3.55"/>
<circle cx="827.55" cy="497.9" r="3.55"/>
<circle cx="817.69" cy="506.04" r="3.55"/>
<circle cx="817.09" cy="509.1" r="3.55"/>
<circle cx="817.34" cy="505.26" r="3.55"/>
<circle cx="833.03" cy="492.39" r="3.55"/>
<circle cx="820.99" cy="511.29" r="3.55"/>
<circle cx="821.53" cy="501.86" r="3.55"/>
<circle cx="830.22" cy="503.15" r="3.55"/>
<circle cx="824.14" cy="504.63" r="3.55"/>
<circle cx="815.83" cy="516.66" r="3.55"/>
<circle cx="822.2" cy="508.75" r="3.55"/>
<circle cx="822.69" cy="510.63" r="3.55"/>
<circle cx="829.94" cy="489.46" r="3.55"/>
<circle cx="822.94" cy="504.04" r="3.55"/>
<circle cx="818.09" cy="504.04" r="3.55"/>
<circle cx="820.05" cy="512.05" r="3.55"/>
<circle cx="832.32" cy="490.7" r="3.55"/>
<circle cx="848.39" cy="481.15" r="3.55"/>
<circle cx="826.49" cy="503.72" r="3.55"/>
<circle cx="815.27" cy="516.52" r="3.55"/>
<circle cx="836.82" cy="487.6" r="3.55"/>
<circle cx="822.94" cy="506.41" r="3.55"/>
<circle cx="831.98" cy="489.79" r="3.55"/>
<circle cx="825.59" cy="503.01" r="3.55"/>
<circle cx="816.88" cy="508.35" r="3.55"/>
<circle cx="828.07" cy="502.11" r="3.55"/>
<circle cx="833.74" cy="490.77" r="3.55"/>
<circle cx="839.03" cy="487.83" r="3.55"/>
<circle cx="821.23" cy="508.08" r="3.55"/>
<circle cx="815.52" cy="510.29" r="3.55"/>
<circle cx="850.78" cy="483.47" r="3.55"/>
<circle cx="823.97" cy="505.35" r="3.55"/>
<circle cx="819.84" cy="514.72" r="3.55"/>
<circle cx="824.45" cy="507.75" r="3.55"/>
<circle cx="821.41" cy="505.2" r="3.55"/>
<circle cx="818.42" cy="509.01" r="3.55"/>
<circle cx="825.13" cy="500.49" r="3.55"/>
<circle cx="816.37" cy="511.2" r="3.55"/>
<circle cx="829.03" cy="497.63" r="3.55"/>
<circle cx="818.94" cy="510.06" r="3.55"/>
<circle cx="843.82" cy="494.03" r="3.55"/>
<circle cx="830.31" cy="493.02" r="3.55"/>
<circle cx="815.38" cy="514.24" r="3.55"/>
<circle cx="829.36" cy="493.37" r="3.55"/>
<circle cx="820.21" cy="503.27" r="3.55"/>
<circle cx="820.95" cy="502.87" r="3.55"/>
<circle cx="822.61" cy="508.64" r="3.55"/>
<circle cx="830.76" cy="495.99" r="3.55"/>
<circle cx="826.52" cy="501.74" r="3.55"/>
<circle cx="818.39" cy="513.69" r="3.55"/>
<circle cx="818.87" cy="513.63" r="3.55"/>
<circle cx="839.27" cy="486.07" r="3.55"/>
<circle cx="816.21" cy="511.81" r="3.55"/>
<circle cx="817.99" cy="505.32" r="3.55"/>
<circle cx="827.41" cy="503.5" r="3.55"/>
<circle cx="820.82" cy="505.87" r="3.55"/>
<circle cx="831.79" cy="493.14" r="3.55"/>
<circle cx="824.54" cy="506.82" r="3.55"/>
<circle cx="822.71" cy="505.35" r="3.55"/>
<circle cx="822.65" cy="506.13" r="3.55"/>
<circle cx="846.11" cy="480.23" r="3.55"/>
<circle cx="839.47" cy="494.84" r="3.55"/>
<circle cx="828.95" cy="500.55" r="3.55"/>
<circle cx="836.79" cy="491.97" r="3.55"/>
<circle cx="828.15" cy="495.33" r="3.55"/>
<circle cx="819.58" cy="510.14" r="3.55"/>
<circle cx="847.74" cy="482.83" r="3.55"/>
<circle cx="823.99" cy="501.57" r="3.55"/>
<circle cx="824.39" cy="509.7" r="3.55"/>
<circle cx="833.2" cy="501.93" r="3.55"/>
<circle cx="826.12" cy="496.77" r="3.55"/>
<circle cx="824.76" cy="504.37" r="3.55"/>
<circle cx="834.99" cy="495.36" r="3.55"/>
<circle cx="839.58" cy="486.56" r="3.55"/>
<circle cx="824.77" cy="499.4" r="3.55"/>
<circle cx="822.34" cy="509.19" r="3.55"/>
<circle cx="826.53" cy="504.48" r="3.55"/>
<circle cx="818.88" cy="510.68" r="3.55"/>
<circle cx="815.47" cy="515.59" r="3.55"/>
<circle cx="821.66" cy="504.65" r="3.55"/>
<circle cx="821.7" cy="505.74" r="3.55"/>
<circle cx="819.62" cy="505.66" r="3.55"/>
<circle cx="815.72" cy="514.43" r="3.55"/>
<circle cx="826.61" cy="502.22" r="3.55"/>
<circle cx="831.58" cy="493.51" r="3.55"/>
<circle cx="822.17" cy="503.93" r="3.55"/>
<circle cx="822.04" cy="506.41" r="3.55"/>
<circle cx="817.15" cy="508.26" r="3.55"/>
<circle cx="823.05" cy="506.03" r="3.55"/>
<circle cx="822.03" cy="508.18" r="3.55"/>
<circle cx="818" cy="506.93" r="3.55"/>
<circle cx="842.91" cy="488.51" r="3.55"/>
<circle cx="820.18" cy="507.63" r="3.55"/>
<circle cx="817.59" cy="511.12" r="3.55"/>
<circle cx="826.29" cy="506.45" r="3.55"/>
<circle cx="824.06" cy="506.91" r="3.55"/>
<circle cx="825.14" cy="506.41" r="3.55"/>
<circle cx="830" cy="488.34" r="3.55"/>
<circle cx="822.01" cy="499.26" r="3.55"/>
<circle cx="817.93" cy="509.25" r="3.55"/>
<circle cx="824.93" cy="502.64" r="3.55"/>
<circle cx="818.91" cy="510.54" r="3.55"/>
<circle cx="852.8" cy="477.22" r="3.55"/>
<circle cx="822.55" cy="507.42" r="3.55"/>
<circle cx="819.42" cy="509.96" r="3.55"/>
<circle cx="821.46" cy="499.95" r="3.55"/>
<circle cx="825.96" cy="506.39" r="3.55"/>
<circle cx="826.56" cy="495.85" r="3.55"/>
<circle cx="833.64" cy="495.07" r="3.55"/>
<circle cx="839.89" cy="483.86" r="3.55"/>
<circle cx="818.05" cy="503.88" r="3.55"/>
<circle cx="828.31" cy="497.58" r="3.55"/>
<circle cx="841.57" cy="483.44" r="3.55"/>
<circle cx="829.05" cy="500.06" r="3.55"/>
<circle cx="825.1" cy="510.33" r="3.55"/>
<circle cx="821.53" cy="510.06" r="3.55"/>
<circle cx="825.38" cy="491.92" r="3.55"/>
<circle cx="820.16" cy="507.25" r="3.55"/>
<circle cx="818.96" cy="504.97" r="3.55"/>
<circle cx="825.39" cy="502.05" r="3.55"/>
<circle cx="824.63" cy="499.54" r="3.55"/>
<circle cx="820.01" cy="508.23" r="3.55"/>
<circle cx="820.56" cy="506.81" r="3.55"/>
<circle cx="838.81" cy="494.03" r="3.55"/>
<circle cx="820.07" cy="507.95" r="3.55"/>
<circle cx="833.09" cy="494.8" r="3.55"/>
<circle cx="828.12" cy="505.25" r="3.55"/>
<circle cx="825.53" cy="507.42" r="3.55"/>
<circle cx="819.25" cy="507.62" r="3.55"/>
<circle cx="823.15" cy="504.48" r="3.55"/>
<circle cx="836.77" cy="488.83" r="3.55"/>
<circle cx="838.44" cy="490.13" r="3.55"/>
<circle cx="825.82" cy="504.39" r="3.55"/>
<circle cx="817.39" cy="507.14" r="3.55"/>
<circle cx="821.84" cy="506.88" r="3.55"/>
<circle cx="822.14" cy="506.7" r="3.55"/>
<circle cx="825.56" cy="501.39" r="3.55"/>
<circle cx="819.81" cy="508.98" r="3.55"/>
<circle cx="822.43" cy="504.86" r="3.55"/>
<circle cx="823.68" cy="506.84" r="3.55"/>
<circle cx="821.87" cy="507.48" r="3.55"/>
<circle cx="816.46" cy="512.45" r="3.55"/>
<circle cx="823.25" cy="508.03" r="3.55"/>
<circle cx="825.85" cy="500.89" r="3.55"/>
<circle cx="843.47" cy="479.56" r="3.55"/>
<circle cx="814.38" cy="515.51" r="3.55"/>
<circle cx="823" cy="507.27" r="3.55"/>
<circle cx="817.09" cy="511.75" r="3.55"/>
<circle cx="821.92" cy="507.65" r="3.55"/>
<circle cx="820.98" cy="506.3" r="3.55"/>
<circle cx="828" cy="499.26" r="3.55"/>
<circle cx="821.46" cy="508.76" r="3.55"/>
<circle cx="836.9" cy="493.48" r="3.55"/>
<circle cx="823.63" cy="504.92" r="3.55"/>
<circle cx="815.75" cy="517.61" r="3.55"/>
<circle cx="816.43" cy="514.93" r="3.55"/>
<circle cx="845.92" cy="483.32" r="3.55"/>
<circle cx="834.37" cy="494.4" r="3.55"/>
<circle cx="814.61" cy="514.1" r="3.55"/>
<circle cx="818.93" cy="509.51" r="3.55"/>
<circle cx="824.22" cy="507.79" r="3.55"/>
<circle cx="817.35" cy="512.28" r="3.55"/>
<circle cx="817.99" cy="510.46" r="3.55"/>
<circle cx="820.41" cy="502.71" r="3.55"/>
<circle cx="837.39" cy="492.29" r="3.55"/>
<circle cx="823.48" cy="506.03" r="3.55"/>
<circle cx="836.06" cy="496.92" r="3.55"/>
<circle cx="817.86" cy="504.28" r="3.55"/>
<circle cx="817.91" cy="510.86" r="3.55"/>
<circle cx="824.54" cy="499.66" r="3.55"/>
<circle cx="815.63" cy="509.44" r="3.55"/>
<circle cx="827.77" cy="500.09" r="3.55"/>
<circle cx="830.88" cy="502.8" r="3.55"/>
<circle cx="822.83" cy="502.71" r="3.55"/>
<circle cx="841.17" cy="482" r="3.55"/>
<circle cx="822" cy="512.18" r="3.55"/>
<circle cx="833.92" cy="491.71" r="3.55"/>
<circle cx="818.54" cy="511.96" r="3.55"/>
<circle cx="841.6" cy="489.12" r="3.55"/>
<circle cx="823.14" cy="505.05" r="3.55"/>
<circle cx="820.56" cy="507.17" r="3.55"/>
<circle cx="835.37" cy="497.34" r="3.55"/>
<circle cx="842.7" cy="495.33" r="3.55"/>
<circle cx="837.35" cy="487.9" r="3.55"/>
<circle cx="844.19" cy="487.12" r="3.55"/>
<circle cx="819.45" cy="514.32" r="3.55"/>
<circle cx="820.29" cy="509.67" r="3.55"/>
<circle cx="825.56" cy="500.78" r="3.55"/>
<circle cx="823.06" cy="502.52" r="3.55"/>
<circle cx="841.39" cy="480.31" r="3.55"/>
<circle cx="821.21" cy="512.94" r="3.55"/>
<circle cx="816.61" cy="513.26" r="3.55"/>
<circle cx="835.76" cy="487.85" r="3.55"/>
<circle cx="831.36" cy="493.94" r="3.55"/>
<circle cx="832.13" cy="492.94" r="3.55"/>
<circle cx="836.34" cy="498.54" r="3.55"/>
<circle cx="836.97" cy="502" r="3.55"/>
<circle cx="824.5" cy="505.28" r="3.55"/>
<circle cx="815.1" cy="516.8" r="3.55"/>
<circle cx="832.83" cy="499.62" r="3.55"/>
<circle cx="830.43" cy="501.48" r="3.55"/>
<circle cx="824.19" cy="504.85" r="3.55"/>
<circle cx="818.73" cy="515.02" r="3.55"/>
<circle cx="819.59" cy="514.32" r="3.55"/>
<circle cx="818.33" cy="509.5" r="3.55"/>
<circle cx="834.23" cy="487.62" r="3.55"/>
<circle cx="817.06" cy="508.83" r="3.55"/>
<circle cx="827.97" cy="500.58" r="3.55"/>
<circle cx="827.27" cy="501.67" r="3.55"/>
<circle cx="840.43" cy="490.39" r="3.55"/>
<circle cx="827.52" cy="499.26" r="3.55"/>
<circle cx="837.76" cy="493.24" r="3.55"/>
<circle cx="831.11" cy="502.64" r="3.55"/>
<circle cx="831.3" cy="494.81" r="3.55"/>
<circle cx="842.74" cy="484.39" r="3.55"/>
<circle cx="847.2" cy="484.02" r="3.55"/>
<circle cx="836.94" cy="489.69" r="3.55"/>
<circle cx="837.93" cy="492.39" r="3.55"/>
<circle cx="842.44" cy="489.27" r="3.55"/>
<circle cx="836.7" cy="496.94" r="3.55"/>
<circle cx="844.56" cy="483.53" r="3.55"/>
<circle cx="847.76" cy="484.96" r="3.55"/>
<circle cx="837.89" cy="492.01" r="3.55"/>
<circle cx="831.68" cy="502.28" r="3.55"/>
<circle cx="832.01" cy="498.07" r="3.55"/>
<circle cx="827.74" cy="506.53" r="3.55"/>
<circle cx="834.24" cy="495.24" r="3.55"/>
<circle cx="843.58" cy="486.78" r="3.55"/>
<circle cx="836.97" cy="493.07" r="3.55"/>
<circle cx="834.38" cy="498.41" r="3.55"/>
<circle cx="831.82" cy="496.22" r="3.55"/>
<circle cx="846.28" cy="483.41" r="3.55"/>
<circle cx="832.96" cy="499.97" r="3.55"/>
<circle cx="829.66" cy="506" r="3.55"/>
<circle cx="831.28" cy="498.99" r="3.55"/>
<circle cx="844.01" cy="489.41" r="3.55"/>
<circle cx="835.82" cy="500.87" r="3.55"/>
<circle cx="833.6" cy="497.83" r="3.55"/>
<circle cx="841.17" cy="488.37" r="3.55"/>
<circle cx="842.91" cy="484.82" r="3.55"/>
<circle cx="840.32" cy="488.26" r="3.55"/>
<circle cx="842.9" cy="488.31" r="3.55"/>
<circle cx="828.44" cy="504.28" r="3.55"/>
<circle cx="827.43" cy="503.38" r="3.55"/>
<circle cx="827.07" cy="497.63" r="3.55"/>
<circle cx="834.69" cy="495.81" r="3.55"/>
<circle cx="828.95" cy="503.46" r="3.55"/>
<circle cx="924.17" cy="353.24" r="3.55"/>
<circle cx="931.88" cy="373.13" r="3.55"/>
<circle cx="961.96" cy="392.41" r="3.55"/>
<circle cx="949.16" cy="392.71" r="3.55"/>
<circle cx="948.7" cy="397.15" r="3.55"/>
<circle cx="948.39" cy="397.61" r="3.55"/>
<circle cx="910.14" cy="402.81" r="3.55"/>
<circle cx="930.65" cy="416.12" r="3.55"/>
<circle cx="928.18" cy="417.04" r="3.55"/>
<circle cx="919.39" cy="417.04" r="3.55"/>
<circle cx="917.85" cy="417.04" r="3.55"/>
<circle cx="907.2" cy="419.18" r="3.55"/>
<circle cx="913.38" cy="424.23" r="3.55"/>
<circle cx="900.11" cy="432.49" r="3.55"/>
<circle cx="892.4" cy="437.54" r="3.55"/>
<circle cx="899.03" cy="439.07" r="3.55"/>
<circle cx="901.34" cy="444.89" r="3.55"/>
<circle cx="909.06" cy="451.31" r="3.55"/>
<circle cx="873.27" cy="439.38" r="3.55"/>
<circle cx="861.24" cy="440.14" r="3.55"/>
<circle cx="852.75" cy="450.09" r="3.55"/>
<circle cx="850.44" cy="450.09" r="3.55"/>
<circle cx="888.08" cy="444.12" r="3.55"/>
<circle cx="884.68" cy="450.4" r="3.55"/>
<circle cx="885.15" cy="453.61" r="3.55"/>
<circle cx="879.13" cy="456.36" r="3.55"/>
<circle cx="875.89" cy="459.27" r="3.55"/>
<circle cx="867.1" cy="461.87" r="3.55"/>
<circle cx="873.73" cy="467.38" r="3.55"/>
<circle cx="869.26" cy="469.52" r="3.55"/>
<circle cx="859.39" cy="466.31" r="3.55"/>
<circle cx="860.93" cy="469.52" r="3.55"/>
<circle cx="826.22" cy="468.75" r="3.55"/>
<circle cx="838.26" cy="469.83" r="3.55"/>
<circle cx="882.68" cy="485.28" r="3.55"/>
<circle cx="861.24" cy="490.63" r="3.55"/>
<circle cx="856.92" cy="501.65" r="3.55"/>
<circle cx="821.75" cy="484.67" r="3.55"/>
<circle cx="825.14" cy="485.59" r="3.55"/>
<circle cx="860.47" cy="478.39" r="3.55"/>
<circle cx="862.47" cy="479.47" r="3.55"/>
<circle cx="852.75" cy="474.11" r="3.55"/>
<circle cx="849.36" cy="487.27" r="3.55"/>
<circle cx="857.85" cy="474.11" r="3.55"/>
<circle cx="856.3" cy="477.17" r="3.55"/>
<circle cx="861.7" cy="477.17" r="3.55"/>
<circle cx="864.01" cy="464.93" r="3.55"/>
<circle cx="870.18" cy="462.63" r="3.55"/>
<circle cx="893.32" cy="436.62" r="3.55"/>
<circle cx="896.41" cy="434.33" r="3.55"/>
</g>
<path d="M805.4 524.6L978.16 353.24" stroke="#1c1c1c" stroke-width="2" stroke-dasharray="6.3 3.1" fill="none"/>
</g>
<g font-family='"Liberation Serif", "Times New Roman", serif' fill="#161616" stroke="#161616" stroke-width="0.42">
<text x="811.3" y="359.5" font-size="16.5" font-style="italic" textLength="10.6" lengthAdjust="spacingAndGlyphs">V</text>
<text x="820.7" y="361.4" font-size="11.5">2</text>
<text x="811.4" y="379.4" font-size="16.5" textLength="11.6" lengthAdjust="spacingAndGlyphs">R</text>
<text x="823.6" y="373.1" font-size="11">2</text>
<text x="834.1" y="379.4" font-size="16.5" textLength="11.8" lengthAdjust="spacingAndGlyphs">=</text>
<text x="850.7" y="379.4" font-size="16.5" textLength="35.2" lengthAdjust="spacingAndGlyphs">0.920</text>
</g>
</g>
<g font-family='"Liberation Sans", Arial, Helvetica, sans-serif' font-size="20.8" fill="#111">
<text transform="translate(24.3 284.3) rotate(-90)" text-anchor="middle">Predict Value</text>
<text x="529.4" y="579.6" text-anchor="middle">True Value</text>
<text transform="translate(17.8 709.3) rotate(-90)" text-anchor="middle" font-size="21.3">MAE (mL)</text>
<text x="165.5" y="853.2" text-anchor="middle" font-size="20.4">Similarity</text>
<text x="512.4" y="853.2" text-anchor="middle" font-size="20.6">Training data ratio</text>
<text x="869.5" y="853.2" text-anchor="middle">Noise level</text>
</g>
<g id="pB">
<rect x="48.8" y="616.3" width="230.3" height="170.3" fill="#e5e5e5"/>
<path d="M58.95 616.3V786.6M101 616.3V786.6M143.05 616.3V786.6M185.1 616.3V786.6M227.15 616.3V786.6M269.2 616.3V786.6M48.8 775.65H279.1M48.8 726.25H279.1M48.8 676.85H279.1M48.8 627.45H279.1" stroke="#fff" stroke-width="2" fill="none"/>
<path d="M58.95 788.6v6.2M101 788.6v6.2M143.05 788.6v6.2M185.1 788.6v6.2M227.15 788.6v6.2M269.2 788.6v6.2M46.6 775.65h-5.6M46.6 726.25h-5.6M46.6 676.85h-5.6M46.6 627.45h-5.6" stroke="#4a4a4a" stroke-width="1.2" fill="none"/>
<g font-family='"Liberation Sans", Arial, Helvetica, sans-serif' font-size="14.6" fill="#555555">
<text x="58.95" y="812.9" text-anchor="middle">&gt;65</text>
<text x="101" y="812.9" text-anchor="middle">&gt;55</text>
<text x="143.05" y="812.9" text-anchor="middle">&gt;45</text>
<text x="185.1" y="812.9" text-anchor="middle">&gt;35</text>
<text x="227.15" y="812.9" text-anchor="middle">&gt;25</text>
<text x="269.2" y="812.9" text-anchor="middle">&gt;15</text>
<text x="33.2" y="780.8" text-anchor="end">1</text>
<text x="33.2" y="731.4" text-anchor="end">3</text>
<text x="33.2" y="682" text-anchor="end">5</text>
<text x="33.2" y="632.6" text-anchor="end">7</text>
</g>
<rect x="214.6" y="740.4" width="58.6" height="41.3" rx="2.6" fill="#e5e5e5" fill-opacity="0.8" stroke="#d0d0d0" stroke-width="1"/>
<circle cx="231.6" cy="751.9" r="3.05" fill="#cd5c5c"/>
<circle cx="231.6" cy="770.6" r="3.05" fill="#6495ed"/>
<g font-family='"DejaVu Sans", "Liberation Sans", sans-serif' font-size="12.4" fill="#1a1a1a" stroke="#1a1a1a" stroke-width="0.4">
<text x="254" y="753.8" font-style="italic">V</text>
<text x="262.3" y="756.1" font-size="8.8">1</text>
<text x="254" y="772.9" font-style="italic">V</text>
<text x="262.3" y="775.2" font-size="8.8">2</text>
</g>
<circle cx="58.95" cy="750.95" r="3.05" fill="#cd5c5c"/>
<circle cx="101" cy="731.68" r="3.05" fill="#cd5c5c"/>
<circle cx="143.05" cy="726.99" r="3.05" fill="#cd5c5c"/>
<circle cx="185.1" cy="722.05" r="3.05" fill="#cd5c5c"/>
<circle cx="227.15" cy="720.07" r="3.05" fill="#cd5c5c"/>
<circle cx="269.2" cy="721.31" r="3.05" fill="#cd5c5c"/>
<circle cx="58.95" cy="697.6" r="3.05" fill="#6495ed"/>
<circle cx="101" cy="662.52" r="3.05" fill="#6495ed"/>
<circle cx="143.05" cy="657.83" r="3.05" fill="#6495ed"/>
<circle cx="185.1" cy="640.79" r="3.05" fill="#6495ed"/>
<circle cx="227.15" cy="637.33" r="3.05" fill="#6495ed"/>
<circle cx="269.2" cy="639.55" r="3.05" fill="#6495ed"/>
<g font-family='"Liberation Sans", Arial, Helvetica, sans-serif' font-size="12.8" text-anchor="middle">
<text x="58.95" y="747.55" fill="#cd5c5c">2.0</text>
<text x="58.95" y="694.2" fill="#6495ed">4.2</text>
<text x="101" y="728.28" fill="#cd5c5c">2.8</text>
<text x="101" y="659.12" fill="#6495ed">5.6</text>
<text x="143.05" y="723.59" fill="#cd5c5c">3.0</text>
<text x="143.05" y="654.43" fill="#6495ed">5.8</text>
<text x="185.1" y="718.65" fill="#cd5c5c">3.2</text>
<text x="185.1" y="637.39" fill="#6495ed">6.5</text>
<text x="227.15" y="716.67" fill="#cd5c5c">3.2</text>
<text x="227.15" y="633.93" fill="#6495ed">6.6</text>
<text x="269.2" y="717.91" fill="#cd5c5c">3.2</text>
<text x="269.2" y="636.15" fill="#6495ed">6.5</text>
</g></g>
<g id="pC">
<rect x="371" y="613.2" width="287.6" height="182.2" fill="#e5e5e5"/>
<path d="M383.2 613.2V795.4M427.08 613.2V795.4M470.96 613.2V795.4M514.84 613.2V795.4M558.72 613.2V795.4M602.6 613.2V795.4M646.48 613.2V795.4M371 750.35H658.6M371 704.3H658.6M371 658.25H658.6" stroke="#fff" stroke-width="2" fill="none"/>
<path d="M383.2 797.4v6.2M427.08 797.4v6.2M470.96 797.4v6.2M514.84 797.4v6.2M558.72 797.4v6.2M602.6 797.4v6.2M646.48 797.4v6.2M368.8 796.4h-5.6M368.8 750.35h-5.6M368.8 704.3h-5.6M368.8 658.25h-5.6M368.8 612.2h-5.6" stroke="#4a4a4a" stroke-width="1.2" fill="none"/>
<g font-family='"Liberation Sans", Arial, Helvetica, sans-serif' font-size="14.2" fill="#555555">
<text x="383.2" y="821.2" text-anchor="middle">0.1</text>
<text x="427.08" y="821.2" text-anchor="middle">0.2</text>
<text x="470.96" y="821.2" text-anchor="middle">0.3</text>
<text x="514.84" y="821.2" text-anchor="middle">0.4</text>
<text x="558.72" y="821.2" text-anchor="middle">0.5</text>
<text x="602.6" y="821.2" text-anchor="middle">0.6</text>
<text x="646.48" y="821.2" text-anchor="middle">0.7</text>
<text x="355.8" y="801.55" text-anchor="end">0.00</text>
<text x="355.8" y="755.5" text-anchor="end">0.25</text>
<text x="355.8" y="709.45" text-anchor="end">0.50</text>
<text x="355.8" y="663.4" text-anchor="end">0.75</text>
<text x="355.8" y="617.35" text-anchor="end">1.00</text>
</g>
<rect x="594.6" y="749.2" width="58.5" height="41" rx="2.6" fill="#e5e5e5" fill-opacity="0.8" stroke="#d0d0d0" stroke-width="1"/>
<circle cx="611.6" cy="760.7" r="3.05" fill="#cd5c5c"/>
<circle cx="611.6" cy="779.4" r="3.05" fill="#6495ed"/>
<g font-family='"DejaVu Sans", "Liberation Sans", sans-serif' font-size="12.4" fill="#1a1a1a" stroke="#1a1a1a" stroke-width="0.4">
<text x="634.2" y="762.6" font-style="italic">V</text>
<text x="642.5" y="764.9" font-size="8.8">1</text>
<text x="634.2" y="781.7" font-style="italic">V</text>
<text x="642.5" y="784" font-size="8.8">2</text>
</g>
<circle cx="383.2" cy="748.51" r="3.05" fill="#cd5c5c"/>
<circle cx="427.08" cy="699.92" r="3.05" fill="#cd5c5c"/>
<circle cx="470.96" cy="651.31" r="3.05" fill="#cd5c5c"/>
<circle cx="514.84" cy="646.18" r="3.05" fill="#cd5c5c"/>
<circle cx="558.72" cy="642.87" r="3.05" fill="#cd5c5c"/>
<circle cx="602.6" cy="639.94" r="3.05" fill="#cd5c5c"/>
<circle cx="646.48" cy="639.39" r="3.05" fill="#cd5c5c"/>
<circle cx="383.2" cy="778.4" r="3.05" fill="#6495ed"/>
<circle cx="427.08" cy="742.65" r="3.05" fill="#6495ed"/>
<circle cx="470.96" cy="681.02" r="3.05" fill="#6495ed"/>
<circle cx="514.84" cy="658.66" r="3.05" fill="#6495ed"/>
<circle cx="558.72" cy="642.87" r="3.05" fill="#6495ed"/>
<circle cx="602.6" cy="641.05" r="3.05" fill="#6495ed"/>
<circle cx="646.48" cy="642.15" r="3.05" fill="#6495ed"/>
<g font-family='"Liberation Sans", Arial, Helvetica, sans-serif' font-size="12.8" text-anchor="middle">
<text x="383.2" y="739.51" fill="#cd5c5c">0.26</text>
<text x="383.2" y="769.4" fill="#6495ed">0.1</text>
<text x="427.08" y="690.92" fill="#cd5c5c">0.52</text>
<text x="427.08" y="733.65" fill="#6495ed">0.29</text>
<text x="470.96" y="642.31" fill="#cd5c5c">0.79</text>
<text x="470.96" y="672.02" fill="#6495ed">0.63</text>
<text x="514.84" y="637.18" fill="#cd5c5c">0.82</text>
<text x="514.84" y="677.66" fill="#6495ed">0.75</text>
<text x="558.72" y="633.87" fill="#cd5c5c">0.84</text>
<text x="558.72" y="661.87" fill="#6495ed">0.84</text>
<text x="602.6" y="630.94" fill="#cd5c5c">0.85</text>
<text x="602.6" y="660.05" fill="#6495ed">0.85</text>
<text x="646.48" y="630.39" fill="#cd5c5c">0.86</text>
<text x="646.48" y="661.15" fill="#6495ed">0.84</text>
</g></g>
<g id="pD">
<rect x="735" y="613.2" width="287.8" height="182.2" fill="#e5e5e5"/>
<path d="M747.2 613.2V795.4M799.78 613.2V795.4M852.36 613.2V795.4M904.94 613.2V795.4M957.52 613.2V795.4M1010.1 613.2V795.4M735 750.35H1022.8M735 704.3H1022.8M735 658.25H1022.8" stroke="#fff" stroke-width="2" fill="none"/>
<path d="M747.2 797.4v6.2M799.78 797.4v6.2M852.36 797.4v6.2M904.94 797.4v6.2M957.52 797.4v6.2M1010.1 797.4v6.2M732.8 796.4h-5.6M732.8 750.35h-5.6M732.8 704.3h-5.6M732.8 658.25h-5.6M732.8 612.2h-5.6" stroke="#4a4a4a" stroke-width="1.2" fill="none"/>
<g font-family='"Liberation Sans", Arial, Helvetica, sans-serif' font-size="14.2" fill="#555555">
<text x="747.2" y="821.2" text-anchor="middle">0%</text>
<text x="799.78" y="821.2" text-anchor="middle">10%</text>
<text x="852.36" y="821.2" text-anchor="middle">20%</text>
<text x="904.94" y="821.2" text-anchor="middle">30%</text>
<text x="957.52" y="821.2" text-anchor="middle">40%</text>
<text x="1010.1" y="821.2" text-anchor="middle">50%</text>
<text x="719.8" y="801.55" text-anchor="end">0.6</text>
<text x="719.8" y="755.5" text-anchor="end">0.7</text>
<text x="719.8" y="709.45" text-anchor="end">0.8</text>
<text x="719.8" y="663.4" text-anchor="end">0.9</text>
<text x="719.8" y="617.35" text-anchor="end">1.0</text>
</g>
<rect x="740.4" y="749.2" width="58.8" height="41" rx="2.6" fill="#e5e5e5" fill-opacity="0.8" stroke="#d0d0d0" stroke-width="1"/>
<circle cx="757.7" cy="760.7" r="3.05" fill="#cd5c5c"/>
<circle cx="757.7" cy="779.4" r="3.05" fill="#6495ed"/>
<g font-family='"DejaVu Sans", "Liberation Sans", sans-serif' font-size="12.4" fill="#1a1a1a" stroke="#1a1a1a" stroke-width="0.4">
<text x="780.2" y="762.6" font-style="italic">V</text>
<text x="788.5" y="764.9" font-size="8.8">1</text>
<text x="780.2" y="781.7" font-style="italic">V</text>
<text x="788.5" y="784" font-size="8.8">2</text>
</g>
<circle cx="747.2" cy="680.68" r="3.05" fill="#cd5c5c"/>
<circle cx="799.78" cy="695.78" r="3.05" fill="#cd5c5c"/>
<circle cx="852.36" cy="686.16" r="3.05" fill="#cd5c5c"/>
<circle cx="904.94" cy="710.93" r="3.05" fill="#cd5c5c"/>
<circle cx="957.52" cy="727.42" r="3.05" fill="#cd5c5c"/>
<circle cx="1010.1" cy="749.66" r="3.05" fill="#cd5c5c"/>
<circle cx="747.2" cy="679.76" r="3.05" fill="#6495ed"/>
<circle cx="799.78" cy="676.53" r="3.05" fill="#6495ed"/>
<circle cx="852.36" cy="674.69" r="3.05" fill="#6495ed"/>
<circle cx="904.94" cy="682.01" r="3.05" fill="#6495ed"/>
<circle cx="957.52" cy="702.23" r="3.05" fill="#6495ed"/>
<circle cx="1010.1" cy="710.01" r="3.05" fill="#6495ed"/>
<g font-family='"Liberation Sans", Arial, Helvetica, sans-serif' font-size="12.8" text-anchor="middle">
<text x="747.2" y="704.28" fill="#cd5c5c">0.85</text>
<text x="747.2" y="666.26" fill="#6495ed">0.85</text>
<text x="799.78" y="719.38" fill="#cd5c5c">0.82</text>
<text x="799.78" y="663.03" fill="#6495ed">0.86</text>
<text x="852.36" y="709.76" fill="#cd5c5c">0.84</text>
<text x="852.36" y="661.19" fill="#6495ed">0.86</text>
<text x="904.94" y="734.53" fill="#cd5c5c">0.78</text>
<text x="904.94" y="668.51" fill="#6495ed">0.85</text>
<text x="957.52" y="751.02" fill="#cd5c5c">0.75</text>
<text x="957.52" y="688.73" fill="#6495ed">0.8</text>
<text x="1010.1" y="773.26" fill="#cd5c5c">0.7</text>
<text x="1010.1" y="696.51" fill="#6495ed">0.79</text>
</g></g>
<g font-family='"Liberation Serif", "Times New Roman", serif' fill="#161616" stroke="#161616" stroke-width="0.3">
<text x="292.3" y="720.3" font-style="italic" font-size="26" textLength="17.6" lengthAdjust="spacingAndGlyphs">R</text>
<text x="309.90000000000003" y="710" font-size="16.8">2</text>
<text x="667.9" y="720.3" font-style="italic" font-size="26" textLength="17.6" lengthAdjust="spacingAndGlyphs">R</text>
<text x="685.5" y="710" font-size="16.8">2</text>
</g>
</g></svg></body></html>
